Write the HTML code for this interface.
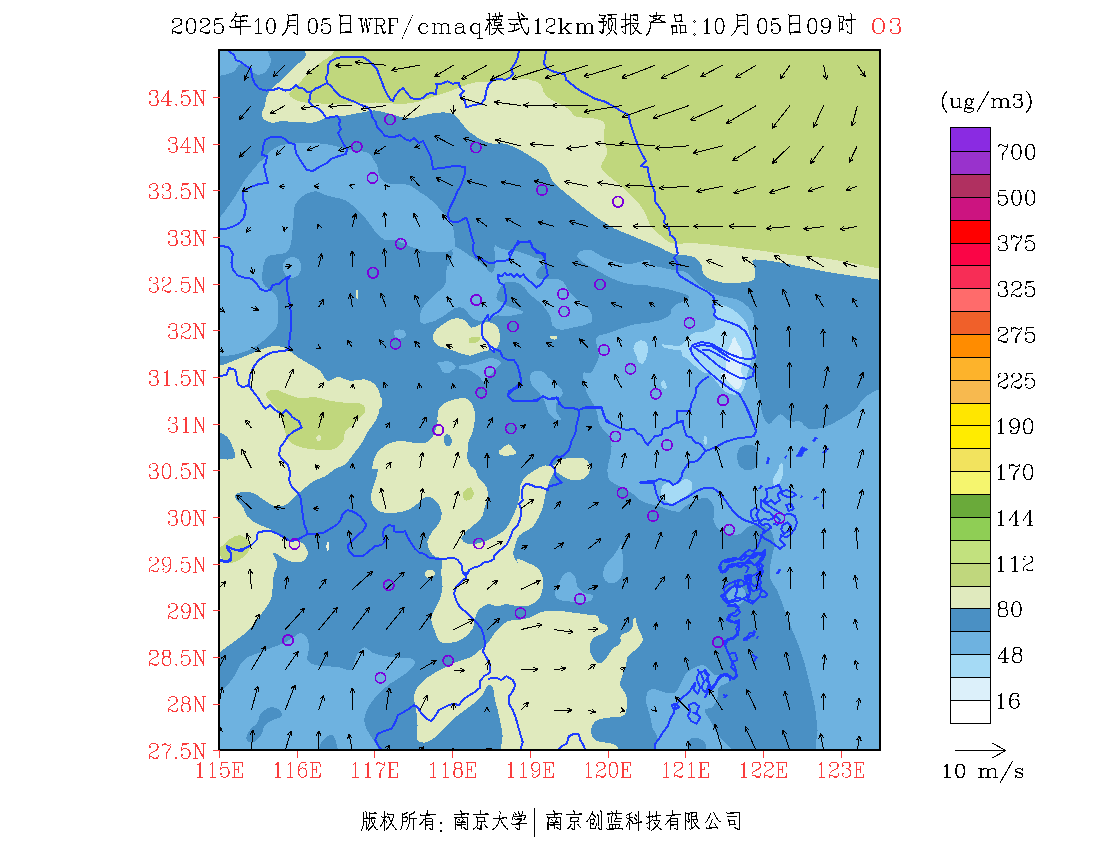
<!DOCTYPE html>
<html><head><meta charset="utf-8"><title>WRF/cmaq O3</title>
<style>html,body{margin:0;padding:0;background:#fff;font-family:"Liberation Sans",sans-serif;}svg{display:block}</style>
</head><body>
<svg width="1100" height="850" viewBox="0 0 1100 850">
<rect width="1100" height="850" fill="#fff"/>
<defs><clipPath id="mc"><rect x="219" y="50" width="661" height="700"/></clipPath></defs>
<g clip-path="url(#mc)" shape-rendering="crispEdges">
<rect x="219" y="50" width="662" height="700" fill="#4a90c4"/>
<path d="M217.2,47.9C231.2,40.2 249.4,45.5 265.2,47.9C268.2,48.4 268.3,53.1 269.5,55.9C270.3,57.5 271.1,59.2 271.0,61.0C270.9,63.3 269.9,65.5 268.8,67.5C267.7,69.5 266.3,71.3 264.5,72.6C262.8,73.8 260.7,74.8 258.6,74.8C256.8,74.8 255.0,73.8 253.5,72.6C252.2,71.5 251.9,69.5 250.6,68.3C248.7,66.5 246.6,64.5 244.1,63.9C242.1,63.5 239.9,64.2 238.3,65.4C236.7,66.5 236.8,69.1 235.4,70.5C233.8,71.9 231.7,72.9 229.5,73.4C225.5,74.2 219.0,77.8 217.2,74.1C213.4,66.2 209.5,52.1 217.2,47.9Z" fill="#6eb2e0"/>
<path d="M215.0,218.8C215.0,217.6 217.6,219.5 218.5,218.8C222.1,215.5 224.7,211.4 227.5,207.5C231.0,202.6 234.3,197.6 237.5,192.5C240.1,188.4 242.2,184.0 245.0,180.0C248.1,175.6 251.6,171.6 255.0,167.5C257.1,165.0 258.9,162.2 261.2,160.0C261.6,159.7 261.2,161.7 261.5,161.4C263.8,159.2 265.2,156.4 267.4,154.1C269.1,152.2 271.0,150.4 273.2,149.0C275.4,147.5 277.9,146.1 280.5,145.4C283.7,144.4 287.2,144.3 290.6,143.9C294.5,143.5 298.4,143.3 302.3,143.2C307.1,143.0 312.0,142.9 316.8,143.2C320.7,143.4 324.6,144.0 328.5,144.6C331.9,145.2 335.3,146.0 338.6,146.8C342.1,147.7 345.4,149.0 348.8,149.7C352.7,150.5 356.6,150.5 360.5,151.2C363.4,151.7 366.6,151.8 369.2,153.4C371.1,154.6 371.7,157.1 373.0,159.0C374.3,161.0 376.1,162.8 377.0,165.0C378.0,167.5 377.8,170.4 378.5,173.0C379.1,175.1 379.5,177.5 381.0,179.0C383.2,181.2 386.0,182.8 389.0,183.5C392.9,184.5 397.1,183.6 401.2,184.0C404.1,184.3 407.2,184.3 409.9,185.5C413.1,186.8 415.7,189.3 418.6,191.3C421.5,193.2 424.6,195.0 427.4,197.1C430.4,199.4 433.4,201.7 436.1,204.4C437.8,206.1 438.8,208.4 440.5,210.2C442.7,212.7 445.6,214.7 447.7,217.5C449.8,220.1 451.7,223.0 452.8,226.2C453.9,229.4 454.0,232.9 454.3,236.4C454.5,240.0 455.7,243.9 454.3,247.3C453.2,249.7 450.2,250.9 447.7,251.6C444.5,252.6 440.9,252.4 437.5,252.4C433.7,252.4 429.7,252.3 425.9,251.6C422.9,251.1 420.1,249.7 417.2,248.7C414.3,247.8 411.3,246.9 408.5,245.8C404.5,244.3 400.9,241.8 396.8,240.7C393.0,239.8 388.9,241.1 385.2,240.0C382.9,239.3 381.2,237.2 379.4,235.6C377.8,234.3 376.3,232.9 375.0,231.3C371.5,226.8 368.7,221.8 365.0,217.5C362.0,213.9 358.5,210.6 355.0,207.5C351.9,204.8 348.7,201.9 345.0,200.0C341.9,198.5 338.3,198.3 335.0,197.5C331.7,196.7 328.3,196.0 325.0,195.0C321.6,193.9 318.6,191.1 315.0,191.2C310.5,191.5 306.2,193.7 302.5,196.2C299.3,198.4 296.6,201.5 295.0,205.0C293.6,208.0 294.1,211.7 293.8,215.0C293.3,220.0 293.0,225.0 292.5,230.0C292.1,234.2 292.4,238.5 291.2,242.5C290.3,246.1 289.4,250.6 286.2,252.5C280.8,255.8 272.5,252.9 267.5,257.0C263.4,260.3 263.2,266.8 262.5,272.0C261.9,276.1 261.9,280.8 263.8,284.5C265.5,287.9 269.9,289.2 272.5,292.0C274.5,294.2 277.0,296.5 277.5,299.5C278.8,307.7 278.8,316.3 277.5,324.5C277.0,327.5 274.4,329.7 272.5,332.0C270.2,334.7 267.7,337.3 265.0,339.5C261.1,342.7 257.0,345.8 252.5,348.2C248.6,350.4 244.3,352.0 240.0,353.2C235.9,354.5 231.7,355.1 227.5,355.8C224.5,356.2 221.5,356.3 218.5,356.5C217.3,356.6 215.0,357.7 215.0,356.5L215.0,218.8Z" fill="#6eb2e0"/>
<path d="M282.5,267.0C282.5,264.2 284.3,261.5 286.2,259.5C287.8,257.9 290.3,257.0 292.5,257.0C294.7,257.0 297.3,257.8 298.8,259.5C300.5,261.5 301.2,264.4 301.2,267.0C301.2,269.6 300.4,272.4 298.8,274.5C297.3,276.4 294.9,278.0 292.5,278.2C290.3,278.5 287.7,277.4 286.2,275.8C284.1,273.4 282.5,270.2 282.5,267.0Z" fill="#6eb2e0"/>
<path d="M453.8,247.3C456.3,245.9 459.3,248.9 461.8,250.2C464.4,251.6 466.6,253.6 469.1,255.3C472.0,257.2 475.0,259.0 477.8,261.1C480.3,262.9 482.7,264.9 485.1,266.9C487.3,268.8 488.8,272.3 491.6,272.7C493.4,273.0 494.1,270.1 494.5,268.4C495.4,265.1 495.2,261.6 495.3,258.2C495.4,254.1 493.4,249.6 495.0,245.8C495.7,244.2 498.0,247.4 499.6,248.0C501.5,248.7 503.5,249.1 505.5,249.5C507.4,249.8 509.3,249.9 511.3,250.2C513.7,250.6 516.2,251.0 518.5,251.6C521.5,252.4 524.4,253.5 527.3,254.5C529.7,255.4 532.1,256.6 534.5,257.5C536.9,258.3 539.7,258.3 541.8,259.6C543.3,260.6 545.1,262.3 544.7,264.0C544.4,265.7 541.7,265.7 540.4,266.9C539.0,268.2 537.6,269.6 536.7,271.3C536.1,272.6 535.4,274.3 536.0,275.6C536.8,277.4 538.5,278.8 540.4,279.3C542.2,279.8 544.2,278.5 546.2,278.5C548.6,278.5 551.0,279.0 553.5,279.3C555.9,279.5 558.5,279.0 560.7,280.0C562.6,280.8 563.9,282.7 565.1,284.4C566.4,286.1 566.7,288.4 568.0,290.2C569.6,292.4 571.9,294.1 573.8,296.0C575.8,297.9 577.6,300.0 579.6,301.8C581.5,303.4 583.6,304.6 585.5,306.2C587.0,307.5 588.7,308.8 589.8,310.5C590.9,312.3 591.8,314.3 592.0,316.4C592.3,318.6 592.1,321.0 591.3,323.1C591.1,323.6 590.2,322.6 589.6,322.7C587.4,323.4 585.4,325.0 583.1,325.6C580.3,326.4 577.3,326.5 574.4,327.1C571.4,327.7 568.6,328.9 565.6,329.3C563.2,329.6 560.7,329.9 558.4,329.3C556.2,328.7 553.8,327.5 552.5,325.6C551.2,323.6 551.9,320.7 551.1,318.4C550.4,316.3 549.3,314.4 548.2,312.5C546.9,310.5 545.4,308.6 543.8,306.7C542.0,304.7 540.1,302.7 538.0,300.9C536.2,299.3 534.0,298.1 532.2,296.5C530.6,295.2 529.1,293.8 527.8,292.2C526.7,290.8 526.1,289.1 524.9,287.8C523.2,286.1 521.3,284.4 519.1,283.5C516.8,282.5 514.3,282.1 511.8,282.0C509.4,281.9 506.7,281.6 504.5,282.7C502.5,283.7 501.4,286.0 500.2,287.8C499.0,289.6 498.0,291.6 497.3,293.6C496.8,295.0 496.3,296.6 496.5,298.0C496.8,299.2 497.7,300.2 498.7,300.9C500.0,301.8 501.8,301.6 503.1,302.4C504.3,303.1 504.8,304.6 506.0,305.3C507.8,306.3 509.9,306.8 511.8,307.5C514.2,308.3 516.8,308.6 519.1,309.6C520.7,310.3 523.5,310.8 523.5,312.5C523.5,314.1 520.6,313.6 519.1,314.0C516.7,314.6 514.3,315.1 511.8,315.5C509.4,315.8 507.0,316.2 504.5,316.2C502.1,316.2 499.7,315.1 497.3,315.5C494.7,315.8 492.4,317.4 490.0,318.4C487.9,319.2 485.9,320.5 483.6,320.7C481.2,321.0 478.7,320.8 476.4,320.0C474.2,319.3 472.2,317.9 470.5,316.4C468.8,314.7 467.9,312.3 466.2,310.5C464.9,309.3 463.5,308.0 461.8,307.6C459.6,307.2 457.1,307.4 455.0,308.2C452.2,309.3 450.0,311.7 447.5,313.2C443.4,315.8 439.6,319.1 435.0,320.8C431.0,322.1 426.4,323.6 422.5,322.0C420.1,321.0 419.6,317.1 420.0,314.5C420.5,310.8 422.8,307.5 425.0,304.5C427.8,300.7 431.7,297.8 435.0,294.5C438.3,291.2 442.9,288.7 445.0,284.5C446.9,280.8 445.5,276.1 446.2,272.0C447.2,266.9 448.2,261.8 450.0,257.0C451.0,254.3 446.4,267.1 448.7,265.5C451.6,263.3 451.4,258.7 452.4,255.3C453.1,252.7 451.4,248.6 453.8,247.3Z" fill="#6eb2e0"/>
<path d="M577.3,255.1C577.6,253.6 578.8,252.2 580.2,251.5C581.9,250.4 584.0,250.2 586.0,250.0C587.9,249.8 590.0,249.6 591.8,250.3C595.0,251.6 597.4,254.3 600.5,255.8C604.8,257.9 609.2,259.5 613.6,260.9C617.4,262.1 621.3,263.4 625.3,263.8C628.7,264.2 632.1,263.7 635.5,263.1C638.0,262.7 640.2,261.4 642.7,260.9C645.1,260.4 647.8,259.1 650.0,260.2C651.3,260.8 648.8,263.7 650.0,264.5C652.4,266.3 655.8,266.0 658.7,266.7C661.6,267.5 664.5,268.3 667.5,268.9C670.3,269.5 673.3,269.9 676.2,270.4C679.1,270.8 682.2,270.7 684.9,271.8C687.2,272.7 688.9,274.6 690.7,276.2C693.3,278.5 695.5,281.2 698.0,283.5C700.3,285.5 702.7,287.6 705.3,289.3C708.0,291.0 711.0,292.4 714.0,293.6C716.8,294.8 719.8,295.8 722.7,296.5C725.6,297.3 728.6,297.3 731.5,298.0C733.9,298.6 736.4,299.2 738.7,300.2C740.8,301.1 742.8,302.4 744.5,303.8C746.7,305.5 748.7,307.4 750.4,309.6C751.7,311.4 752.7,313.4 753.3,315.5C753.9,317.8 753.8,320.3 754.0,322.7C754.3,325.6 754.4,328.6 754.7,331.5C755.1,335.3 755.8,339.2 756.2,343.1C756.5,346.0 757.0,348.9 756.9,351.8C756.8,354.8 756.0,357.6 755.5,360.5C754.7,364.7 753.3,368.8 753.3,373.1C753.3,373.8 755.2,372.3 755.5,373.0C756.9,377.7 756.6,382.8 757.6,387.5C758.1,389.6 759.4,391.3 759.8,393.4C760.4,396.2 760.2,399.2 760.5,402.1C760.9,405.5 761.2,408.9 762.0,412.3C762.6,414.8 763.5,417.3 764.9,419.5C766.0,421.3 767.2,424.2 769.3,423.9C772.0,423.5 773.0,419.8 775.1,418.1C776.9,416.6 778.6,414.2 780.9,414.5C783.5,414.8 784.5,418.2 786.7,419.5C788.5,420.6 790.5,421.5 792.5,421.7C795.0,422.0 797.5,420.3 799.8,421.0C801.8,421.6 802.6,424.0 804.2,425.4C806.0,426.9 808.0,428.3 810.0,429.7C810.1,429.8 809.9,429.5 810.0,429.5C815.0,428.6 820.2,428.6 825.0,427.0C830.3,425.2 835.2,422.3 840.0,419.5C845.2,416.5 850.5,413.5 855.0,409.5C859.0,405.9 860.9,400.4 865.0,397.0C869.8,393.1 875.8,391.1 881.2,388.2C881.5,388.1 882.0,387.7 882.0,388.0L882.0,751.0L818.8,750.5C812.2,748.4 818.1,736.8 817.5,730.0C816.8,722.5 816.2,714.9 815.0,707.5C813.7,699.9 811.8,692.5 810.0,685.0C808.4,678.3 806.9,671.6 805.0,665.0C802.8,657.4 800.3,649.9 797.5,642.5C795.3,636.6 792.3,630.9 790.0,625.0C787.7,619.2 785.9,613.3 783.8,607.5C781.7,602.1 779.9,596.5 777.5,591.2C775.3,586.5 771.0,582.6 770.0,577.5C768.9,571.8 770.4,565.8 771.2,560.0C772.0,554.9 773.8,550.0 775.0,545.0C775.1,544.7 775.1,544.3 775.0,544.0C773.4,539.0 773.3,533.1 770.0,529.0C767.8,526.2 763.5,525.7 760.0,525.2C756.3,524.8 752.2,525.0 748.8,526.5C745.2,528.0 743.5,532.4 740.0,534.0C737.0,535.4 733.3,535.9 730.0,535.2C726.3,534.6 722.8,532.7 720.0,530.2C717.3,527.9 714.7,525.0 713.8,521.5C712.5,516.7 715.5,511.2 713.8,506.5C712.3,502.6 709.1,497.8 705.0,497.8C697.7,497.8 691.4,503.0 685.0,506.5C682.9,507.6 682.3,510.9 680.0,511.5C676.7,512.3 673.3,511.1 670.0,510.2C666.5,509.4 663.4,507.6 660.0,506.5C656.7,505.5 653.3,505.0 650.0,504.0C646.6,502.9 643.1,502.0 640.0,500.2C638.0,499.1 636.9,496.7 635.0,495.2C631.9,492.9 628.4,490.9 625.0,489.0C621.8,487.2 618.2,486.0 615.0,484.0C612.7,482.6 609.9,481.4 608.8,479.0C607.2,476.0 607.5,472.4 607.5,469.0C607.5,467.0 608.1,465.1 608.5,463.2C609.2,460.3 610.2,457.4 610.7,454.5C611.2,451.6 611.6,448.6 611.5,445.7C611.3,442.8 611.2,439.7 610.0,437.0C608.9,434.6 606.6,433.2 604.9,431.2C602.9,428.8 600.4,426.7 599.1,423.9C597.9,421.2 598.4,418.0 597.6,415.2C596.9,412.2 596.0,409.2 594.7,406.5C593.6,403.9 591.7,401.7 590.4,399.2C588.8,396.3 587.0,393.5 586.0,390.5C585.1,387.7 585.0,384.6 584.5,381.7C584.1,378.8 581.4,375.4 583.1,373.0C584.4,371.0 588.3,374.3 590.4,373.1C592.7,371.7 593.4,368.7 594.7,366.4C596.1,364.0 597.7,361.7 598.4,359.1C599.0,356.7 598.7,354.2 598.4,351.8C598.0,348.8 596.5,346.1 596.2,343.1C596.0,341.1 596.0,339.0 596.9,337.3C597.6,336.0 599.2,335.6 600.5,335.1C603.4,334.1 606.4,333.8 609.3,332.9C613.2,331.6 617.0,329.9 620.9,328.5C625.7,326.9 630.5,325.2 635.5,324.2C640.2,323.2 645.2,323.5 650.0,322.7C650.2,322.7 649.8,322.1 650.0,322.0C651.9,321.5 653.9,321.7 655.8,321.3C658.8,320.5 661.8,319.7 664.5,318.4C666.7,317.3 669.0,316.0 670.4,314.0C671.5,312.4 670.7,309.8 671.8,308.2C673.2,306.2 675.5,305.0 677.6,303.8C680.4,302.3 683.7,301.9 686.4,300.2C687.7,299.4 689.9,298.0 689.3,296.5C688.4,294.6 685.5,294.4 683.5,293.6C680.1,292.4 676.7,291.6 673.3,290.7C669.4,289.7 665.6,288.6 661.6,287.8C657.8,287.1 653.8,287.1 650.0,286.4C649.8,286.3 650.2,285.7 650.0,285.6C645.2,285.2 640.3,285.4 635.5,284.9C631.5,284.5 627.6,283.7 623.8,282.7C620.3,281.8 616.9,280.5 613.6,279.1C610.1,277.6 606.8,275.8 603.5,274.0C600.5,272.4 597.7,270.5 594.7,268.9C591.9,267.4 588.7,266.3 586.0,264.5C583.4,262.9 580.8,261.0 578.7,258.7C577.8,257.8 577.0,256.4 577.3,255.1Z" fill="#6eb2e0"/>
<path d="M215.0,692.5C215.1,691.3 217.5,693.1 218.5,692.5C221.8,690.5 224.8,687.8 227.5,685.0C230.4,682.0 232.8,678.5 235.0,675.0C237.0,671.8 237.8,668.0 240.0,665.0C242.1,662.1 244.5,659.4 247.5,657.5C251.3,655.1 255.8,654.2 260.0,652.5C264.2,650.8 268.3,649.2 272.5,647.5C276.7,645.8 281.0,644.5 285.0,642.5C288.5,640.7 291.6,638.2 295.0,636.2C297.0,635.1 298.9,632.5 301.2,633.0C304.0,633.6 306.4,636.2 307.5,638.8C309.0,642.2 308.8,646.2 308.8,650.0C308.8,653.4 306.2,656.9 307.5,660.0C308.7,662.8 312.1,664.1 315.0,665.0C319.0,666.2 323.3,665.8 327.5,666.2C331.7,666.7 335.9,666.8 340.0,667.5C343.8,668.1 347.8,671.7 351.2,670.0C354.4,668.4 353.6,663.3 355.0,660.0C356.5,656.6 357.7,652.9 360.0,650.0C361.2,648.5 363.2,647.1 365.0,647.5C367.9,648.1 369.7,651.3 372.5,652.5C376.5,654.2 380.7,655.5 385.0,656.2C389.9,657.1 395.0,657.0 400.0,657.5C404.2,657.9 408.5,657.4 412.5,658.8C413.9,659.2 415.3,661.0 415.0,662.5C414.3,665.4 412.1,667.9 410.0,670.0C407.1,672.9 403.4,675.1 400.0,677.5C396.8,679.7 393.1,681.4 390.0,683.8C386.5,686.4 383.1,689.4 380.0,692.5C376.9,695.6 373.7,698.8 371.2,702.5C368.7,706.4 366.2,710.5 365.0,715.0C364.1,718.2 364.2,721.8 365.0,725.0C365.9,728.6 368.2,731.8 370.0,735.0C371.5,737.6 373.8,739.8 375.0,742.5C376.3,745.3 380.6,751.3 377.5,751.5L215.0,751.5C196.5,744.8 213.8,712.1 215.0,692.5Z" fill="#6eb2e0"/>
<path d="M556.2,589.0C558.0,584.7 559.7,580.3 562.5,576.5C564.0,574.4 566.2,572.0 568.8,572.0C571.3,572.0 573.7,574.3 575.0,576.5C576.8,579.4 575.9,583.5 577.5,586.5C578.9,589.1 581.2,591.3 583.8,592.8C586.4,594.3 590.4,593.1 592.5,595.2C593.7,596.5 592.6,599.2 591.2,600.2C588.8,602.1 585.5,602.6 582.5,602.8C578.3,603.0 574.2,602.0 570.0,601.5C566.7,601.1 563.1,601.5 560.0,600.2C557.8,599.3 555.7,597.5 555.0,595.2C554.3,593.2 555.5,591.0 556.2,589.0Z" fill="#6eb2e0"/>
<path d="M621.2,544.0C623.0,546.9 622.3,550.6 622.5,554.0C622.8,559.0 623.5,564.0 623.0,569.0C622.7,572.5 622.0,576.2 620.0,579.0C618.3,581.4 615.4,583.3 612.5,583.5C609.8,583.7 606.8,582.3 605.0,580.2C603.3,578.3 602.8,575.3 603.0,572.8C603.2,569.6 604.6,566.7 606.2,564.0C608.3,560.7 611.4,558.3 613.8,555.2C615.6,552.9 617.1,550.2 618.8,547.8C619.6,546.5 620.5,542.7 621.2,544.0Z" fill="#6eb2e0"/>
<path d="M647.5,692.5C648.4,690.6 650.4,688.8 652.5,688.8C656.9,688.8 660.7,691.8 665.0,692.5C668.3,693.0 672.0,694.0 675.0,692.5C677.7,691.2 678.5,687.6 680.0,685.0C681.8,681.8 682.7,678.0 685.0,675.0C687.0,672.4 689.7,670.4 692.5,668.8C695.6,667.0 698.9,664.7 702.5,665.0C705.5,665.2 707.7,668.1 710.0,670.0C711.8,671.5 712.8,674.3 715.0,675.0C718.2,676.1 721.8,673.9 725.0,675.0C727.2,675.7 730.0,677.6 730.0,680.0C730.0,682.1 726.7,682.6 725.0,683.8C723.0,685.1 719.9,685.4 718.8,687.5C717.1,690.4 718.5,694.3 717.5,697.5C716.4,701.1 715.1,704.9 712.5,707.5C710.6,709.4 705.5,707.4 705.0,710.0C704.3,713.7 708.3,716.7 710.0,720.0C711.7,723.3 713.0,726.8 715.0,730.0C717.2,733.5 719.8,736.8 722.5,740.0C724.8,742.7 727.9,744.7 730.0,747.5C730.8,748.6 732.6,751.3 731.2,751.5C723.5,752.9 715.0,754.1 707.5,751.5C704.6,750.5 706.9,745.0 705.0,742.5C703.3,740.2 700.3,738.7 697.5,738.0C695.1,737.4 692.1,737.3 690.0,738.8C688.2,740.0 688.0,742.8 687.5,745.0C687.0,747.1 689.1,751.1 687.0,751.5C677.0,753.6 665.5,755.9 656.2,751.5C652.0,749.5 658.2,742.1 657.5,737.5C656.9,733.8 653.7,731.0 652.5,727.5C651.2,723.5 651.0,719.1 650.0,715.0C648.9,710.8 646.7,706.8 646.2,702.5C645.9,699.2 646.1,695.6 647.5,692.5Z" fill="#6eb2e0"/>
<path d="M393.8,332.4C394.0,331.0 396.1,330.4 397.5,330.2C399.6,329.8 402.2,329.2 404.0,330.5C405.5,331.6 406.0,334.2 405.5,336.0C405.1,337.4 403.2,338.1 401.8,338.2C400.1,338.3 398.2,337.8 396.7,336.7C395.3,335.7 393.6,334.1 393.8,332.4Z" fill="#6eb2e0"/>
<path d="M437.5,362.9C438.9,361.2 441.8,361.6 444.0,361.5C446.4,361.3 449.0,361.2 451.3,362.2C453.2,363.0 455.3,364.5 455.6,366.5C455.9,368.1 453.9,369.1 452.7,370.2C451.4,371.4 450.1,372.8 448.4,373.1C446.4,373.4 444.1,372.8 442.5,371.6C441.0,370.5 440.6,368.2 439.6,366.5C438.9,365.3 436.5,364.0 437.5,362.9Z" fill="#6eb2e0"/>
<path d="M458.5,367.3C460.5,363.8 466.3,365.4 470.2,364.4C474.1,363.3 477.9,361.9 481.8,360.7C484.7,359.8 487.5,357.9 490.5,358.1C494.2,358.4 498.9,359.0 500.7,362.2C502.0,364.3 497.8,366.1 496.4,368.0C494.9,369.9 493.6,372.0 492.0,373.8C490.7,375.4 489.1,376.7 487.6,378.2C486.4,379.4 485.7,381.8 484.0,381.8C482.3,381.8 481.6,379.3 480.4,378.2C478.5,376.4 476.7,374.5 474.5,373.1C472.3,371.6 469.8,370.4 467.3,369.5C464.5,368.4 457.1,369.9 458.5,367.3Z" fill="#6eb2e0"/>
<path d="M530.0,375.9C530.5,374.1 531.9,372.2 533.6,371.5C536.4,370.6 539.7,370.5 542.4,371.5C544.9,372.6 546.1,375.5 548.2,377.4C550.5,379.4 553.1,381.1 555.5,383.2C557.5,385.0 559.7,386.8 561.3,389.0C562.2,390.2 563.0,391.9 562.7,393.4C562.4,395.1 560.8,396.3 559.8,397.7C558.8,399.2 557.5,400.5 556.9,402.1C556.0,404.4 555.2,406.9 555.5,409.4C555.7,411.5 557.3,413.3 558.4,415.2C559.2,416.7 561.3,417.8 561.3,419.5C561.3,420.5 559.3,420.5 558.4,420.3C556.3,419.7 554.3,418.7 552.5,417.4C550.8,416.0 549.2,414.2 548.2,412.3C547.0,410.0 546.8,407.4 546.0,405.0C545.3,403.0 544.8,401.0 543.8,399.2C542.6,397.1 541.1,395.2 539.5,393.4C537.6,391.3 535.3,389.7 533.6,387.5C532.3,385.8 531.4,383.8 530.7,381.7C530.1,379.9 529.5,377.8 530.0,375.9Z" fill="#6eb2e0"/>
<path d="M393.8,333.2C393.5,331.9 395.0,330.5 396.2,330.0C398.2,329.3 400.5,329.3 402.5,330.0C403.8,330.5 404.8,331.9 405.0,333.2C405.2,334.7 405.0,336.7 403.8,337.5C402.0,338.7 399.4,339.1 397.5,338.2C395.6,337.4 394.1,335.3 393.8,333.2Z" fill="#6eb2e0"/>
<path d="M727.5,594.0C728.5,590.6 731.6,587.5 735.0,586.5C737.9,585.6 741.9,586.6 743.8,589.0C745.8,591.6 746.2,595.9 745.0,599.0C743.8,602.0 740.7,604.5 737.5,605.2C734.9,605.9 731.8,604.7 730.0,602.8C728.0,600.5 726.6,596.9 727.5,594.0Z" fill="#6eb2e0"/>
<path d="M420.0,320.0C423.3,318.4 427.4,319.2 430.9,320.0C431.8,320.2 430.2,321.8 429.5,322.2C427.7,323.1 425.6,324.1 423.6,323.6C422.0,323.3 418.5,320.8 420.0,320.0Z" fill="#6eb2e0"/>
<path d="M743.1,445.7C745.9,444.8 749.0,444.4 751.8,445.0C754.1,445.4 756.6,446.6 757.6,448.6C759.0,451.2 758.4,454.4 758.4,457.4C758.4,459.8 758.8,462.5 757.6,464.6C756.4,466.9 754.2,468.8 751.8,469.7C749.6,470.6 746.8,470.6 744.5,469.7C742.1,468.8 739.9,466.9 738.7,464.6C737.4,462.0 737.3,458.9 737.3,455.9C737.3,453.7 737.6,451.3 738.7,449.4C739.7,447.7 741.3,446.3 743.1,445.7Z" fill="#4a90c4"/>
<path d="M260.0,715.0C262.7,711.8 266.0,708.5 270.0,707.5C273.3,706.7 277.3,707.9 280.0,710.0C281.7,711.3 282.5,714.6 281.2,716.2C279.3,718.8 275.3,718.5 272.5,720.0C269.9,721.4 266.8,722.6 265.0,725.0C262.9,727.8 263.3,732.1 261.2,735.0C259.0,738.1 256.2,741.6 252.5,742.5C250.1,743.1 246.7,741.1 246.2,738.8C245.6,735.6 248.2,732.6 250.0,730.0C252.0,727.1 255.5,725.4 257.5,722.5C259.0,720.3 258.3,717.0 260.0,715.0Z" fill="#4a90c4"/>
<path d="M320.0,751.5C317.4,749.9 319.9,745.2 321.2,742.5C322.6,739.9 325.0,737.9 327.5,736.2C328.9,735.3 331.1,734.0 332.5,735.0C334.8,736.6 335.6,739.8 336.2,742.5C336.9,745.4 338.9,750.0 336.2,751.5C331.5,754.1 324.6,754.3 320.0,751.5Z" fill="#4a90c4"/>
<path d="M714.0,308.2C714.5,306.5 716.6,305.6 718.4,305.3C720.8,304.8 723.3,305.3 725.6,306.0C728.2,306.8 730.6,308.2 732.9,309.6C735.5,311.3 738.0,313.3 740.2,315.5C742.4,317.6 744.5,320.0 746.0,322.7C747.5,325.4 748.2,328.5 748.9,331.5C749.6,334.3 749.9,337.3 750.4,340.2C750.9,344.1 751.8,347.9 751.8,351.8C751.8,355.7 751.2,359.6 750.4,363.5C749.7,366.7 748.4,369.9 747.5,373.1C747.4,373.1 747.5,373.0 747.5,373.0C747.2,374.9 747.2,376.9 746.7,378.8C746.2,381.3 745.5,383.7 744.5,386.1C743.8,388.1 743.3,390.5 741.6,391.9C739.7,393.6 737.0,394.8 734.4,394.8C731.3,394.8 728.3,393.5 725.6,391.9C723.3,390.5 721.6,388.1 719.8,386.1C717.8,383.8 716.1,381.1 714.0,378.8C712.2,376.8 710.5,374.5 708.2,373.0C707.4,372.5 706.2,373.3 705.3,373.1C703.7,372.6 702.3,371.7 700.9,370.7C698.4,368.9 696.0,367.0 693.6,364.9C691.6,363.1 690.0,360.8 687.8,359.1C686.3,357.9 684.0,357.7 682.7,356.2C681.4,354.6 682.2,351.5 680.5,350.4C678.5,349.0 675.7,350.1 673.3,349.6C670.3,349.1 667.3,348.7 664.5,347.5C663.3,346.9 660.3,344.7 661.6,344.5C667.4,344.0 673.3,346.4 679.1,346.0C680.8,345.9 682.2,344.3 683.5,343.1C685.2,341.4 686.1,339.0 687.8,337.3C689.5,335.6 691.3,333.7 693.6,332.9C696.4,331.9 699.5,332.8 702.4,332.2C704.9,331.6 707.3,330.5 709.6,329.3C711.5,328.3 713.9,327.6 714.7,325.6C716.0,322.5 715.6,318.9 715.5,315.5C715.4,313.0 713.3,310.6 714.0,308.2Z" fill="#a5daf5"/>
<path d="M641.3,340.2C643.2,340.2 645.3,341.4 646.4,343.1C647.7,345.2 647.8,347.9 647.8,350.4C647.8,352.8 647.3,355.3 646.4,357.6C645.5,359.8 644.7,362.4 642.7,363.5C641.4,364.2 639.3,363.2 638.4,362.0C636.8,360.0 637.1,357.1 636.2,354.7C635.4,352.7 633.4,351.1 633.3,348.9C633.1,346.8 634.1,344.6 635.5,343.1C636.9,341.5 639.1,340.2 641.3,340.2Z" fill="#a5daf5"/>
<path d="M662.5,486.5C663.5,484.7 665.4,483.1 667.5,482.8C670.8,482.2 674.2,484.7 677.5,484.0C680.4,483.4 682.0,479.5 685.0,479.0C687.2,478.6 690.0,479.7 691.2,481.5C692.7,483.6 692.7,486.6 692.0,489.0C691.3,491.5 689.4,493.5 687.5,495.2C685.3,497.3 682.6,498.7 680.0,500.2C677.6,501.7 675.3,504.0 672.5,504.0C669.7,504.0 667.1,502.1 665.0,500.2C663.2,498.6 661.7,496.4 661.2,494.0C660.8,491.5 661.3,488.7 662.5,486.5Z" fill="#a5daf5"/>
<path d="M781.6,463.2C784.5,464.0 783.2,469.0 783.1,471.9C783.0,474.9 782.1,477.9 780.9,480.6C779.9,482.8 778.8,485.6 776.5,486.5C775.1,487.0 773.4,485.0 772.9,483.5C772.3,481.7 772.9,479.5 773.6,477.7C774.7,475.1 776.6,472.9 778.0,470.5C779.3,468.1 779.0,462.4 781.6,463.2Z" fill="#a5daf5"/>
<path d="M703.8,437.0C704.0,436.2 705.4,435.3 706.0,435.8C707.0,436.8 706.9,438.5 707.0,439.9C707.1,441.4 707.3,443.1 706.4,444.3C706.0,444.9 704.4,444.7 704.1,444.0C703.3,441.8 703.3,439.3 703.8,437.0Z" fill="#a5daf5"/>
<path d="M660.9,382.5C661.3,381.4 662.8,380.1 663.8,380.6C665.2,381.2 665.4,383.2 666.0,384.6C666.4,385.7 667.2,386.9 666.7,387.8C666.2,388.7 664.8,389.0 663.8,388.7C662.7,388.3 662.1,387.1 661.6,386.1C661.1,385.0 660.5,383.6 660.9,382.5Z" fill="#a5daf5"/>
<path d="M734.4,337.3C736.5,337.3 736.2,341.2 737.3,343.1C738.4,345.1 740.2,346.8 740.9,348.9C741.9,351.7 742.2,354.7 742.4,357.6C742.5,360.6 741.9,363.5 741.6,366.4C741.4,368.6 740.7,370.8 740.9,373.1C741.0,373.5 742.3,372.5 742.4,373.0C742.8,375.9 742.8,378.9 742.4,381.7C742.1,383.8 741.6,386.0 740.2,387.5C739.2,388.7 737.2,389.7 735.8,389.0C732.8,387.5 731.0,384.2 728.5,381.7C726.6,379.8 724.5,378.0 722.7,375.9C722.0,375.1 720.6,373.9 721.3,373.0C722.0,372.0 724.2,374.1 724.9,373.1C726.1,371.2 725.4,368.6 725.6,366.4C725.9,363.5 725.9,360.5 726.4,357.6C726.9,354.7 727.6,351.7 728.5,348.9C729.3,346.9 730.5,345.0 731.5,343.1C732.4,341.2 732.2,337.3 734.4,337.3Z" fill="#dcf0fa"/>
<path d="M305.2,47.9C302.7,47.9 306.4,52.8 305.9,55.2C305.6,56.9 304.2,58.3 303.0,59.5C301.5,61.2 299.5,62.4 297.9,63.9C295.9,65.8 294.0,67.8 292.1,69.7C289.7,72.2 287.3,74.6 284.8,77.0C282.5,79.2 280.0,81.4 277.5,83.5C276.1,84.8 274.5,85.8 273.2,87.2C271.8,88.5 270.5,89.9 269.5,91.5C268.1,93.8 266.7,96.2 265.9,98.8C265.2,101.2 265.8,103.7 265.2,106.1C264.6,108.2 262.8,109.8 262.3,111.9C261.8,113.5 261.6,115.4 262.3,117.0C262.9,118.6 264.4,119.8 265.9,120.6C268.1,121.8 270.7,122.8 273.2,122.8C276.7,122.8 279.9,120.8 283.4,120.6C285.8,120.5 288.2,121.9 290.6,122.1C294.5,122.4 298.4,122.0 302.3,122.1C305.2,122.2 308.1,123.1 311.0,122.8C314.0,122.6 316.9,121.6 319.7,120.6C321.8,119.9 323.5,118.4 325.5,117.7C327.4,117.1 329.4,117.2 331.4,117.0C334.8,116.7 338.2,116.7 341.5,116.3C345.5,115.8 349.3,114.8 353.2,114.1C357.1,113.4 360.9,112.6 364.8,111.9C368.2,111.3 371.6,110.2 375.0,110.5C380.1,110.8 385.0,112.5 390.0,113.8C395.0,115.0 399.9,117.2 405.0,118.0C408.3,118.5 411.7,118.1 415.0,117.5C420.1,116.6 424.9,114.6 430.0,113.8C434.9,112.9 440.0,112.2 445.0,112.5C448.4,112.7 452.1,113.2 455.0,115.0C457.8,116.7 459.2,120.0 461.2,122.5C463.3,125.0 465.1,127.8 467.5,130.0C470.6,132.8 473.9,135.4 477.5,137.5C481.5,139.8 485.5,142.2 490.0,143.2C494.9,144.4 500.1,142.7 505.0,143.8C510.3,144.9 515.2,147.6 520.0,150.0C524.3,152.2 528.4,154.9 532.5,157.5C536.3,159.9 540.4,161.9 543.8,165.0C546.0,167.0 547.3,169.9 548.8,172.5C550.3,175.3 550.5,178.8 552.5,181.2C556.0,185.6 560.7,188.9 565.0,192.5C569.1,196.0 573.3,199.2 577.5,202.5C581.7,205.8 585.7,209.3 590.0,212.5C594.1,215.6 598.2,218.5 602.5,221.2C606.6,223.9 610.7,226.6 615.0,228.8C619.8,231.2 625.0,232.9 630.0,235.0C635.0,237.1 640.0,239.2 645.0,241.2C650.0,243.3 655.1,245.3 660.0,247.5C664.2,249.4 668.0,252.5 672.5,253.8C679.4,255.7 687.0,254.5 693.8,257.0C697.1,258.2 699.5,261.4 701.2,264.5C703.0,267.5 701.5,271.9 703.8,274.5C706.5,277.8 710.9,279.4 715.0,280.8C719.8,282.4 724.9,283.0 730.0,283.2C735.0,283.5 740.0,282.8 745.0,282.0C748.0,281.5 751.9,281.9 753.8,279.5C755.8,276.9 755.2,272.9 755.0,269.5C754.8,266.5 752.1,263.8 752.5,260.8C752.7,259.4 754.9,259.4 756.2,259.5C763.4,259.9 770.5,260.9 777.5,262.0C785.9,263.4 794.2,265.3 802.5,267.0C810.8,268.7 819.1,270.5 827.5,272.0C835.8,273.5 844.2,274.5 852.5,275.8C862.1,277.2 871.7,278.6 881.2,280.0C881.5,280.0 882.0,280.2 882.0,280.0L882.0,48.0L305.2,47.9Z" fill="#e0eabe"/>
<path d="M215.0,365.8C215.1,364.6 217.4,366.0 218.5,365.8C221.6,365.1 224.6,364.3 227.5,363.2C231.7,361.8 235.8,359.9 240.0,358.2C244.2,356.6 248.3,354.9 252.5,353.2C256.7,351.6 260.7,349.5 265.0,348.2C269.1,347.0 273.3,345.5 277.5,345.8C281.1,345.9 284.4,347.8 287.5,349.5C291.1,351.5 294.0,354.7 297.5,357.0C301.5,359.7 305.9,362.0 310.0,364.5C313.4,366.5 317.1,368.1 320.0,370.8C323.1,373.6 323.6,379.3 327.5,380.8C330.9,381.9 333.9,377.0 337.5,377.0C341.9,377.0 345.7,380.4 350.0,380.8C355.0,381.2 360.0,378.8 365.0,379.5C368.7,380.1 372.4,381.9 375.0,384.5C377.6,387.1 379.2,390.9 380.0,394.5C380.9,398.6 380.6,402.9 380.0,407.0C379.4,411.3 378.2,415.6 376.2,419.5C374.0,424.0 370.2,427.7 367.5,432.0C365.6,435.2 364.5,438.8 362.5,442.0C360.3,445.5 357.6,448.7 355.0,452.0C351.7,456.2 349.1,461.0 345.0,464.5C342.2,466.9 338.1,467.1 335.0,469.0C331.4,471.1 328.6,474.5 325.0,476.5C321.9,478.2 318.1,478.5 315.0,480.2C311.4,482.3 308.2,485.1 305.0,487.8C301.6,490.5 298.2,493.5 295.0,496.5C292.4,498.9 290.6,502.2 287.5,504.0C284.5,505.7 280.9,506.5 277.5,506.5C274.9,506.5 272.4,505.2 270.0,504.0C267.3,502.7 265.0,500.7 262.5,499.0C260.0,497.3 257.8,495.2 255.0,494.0C251.8,492.6 248.4,491.5 245.0,491.5C242.0,491.5 238.8,492.4 236.2,494.0C235.1,494.7 234.4,496.6 235.0,497.8C236.7,501.2 240.4,503.3 242.5,506.5C244.6,509.6 245.1,513.7 247.5,516.5C250.2,519.7 253.9,522.0 257.5,524.0C261.4,526.2 266.1,526.8 270.0,529.0C273.6,531.0 276.4,534.5 280.0,536.5C283.1,538.2 286.5,539.4 290.0,540.2C293.3,541.1 296.9,540.1 300.0,541.5C302.7,542.7 304.8,545.2 306.2,547.8C307.5,550.0 308.2,552.8 307.5,555.2C306.8,557.8 304.9,560.4 302.5,561.5C299.5,562.9 295.8,562.6 292.5,562.0C288.9,561.3 285.7,559.4 282.5,557.8C279.8,556.3 277.8,553.9 275.0,552.8C274.3,552.5 272.8,553.2 273.0,554.0C273.8,557.6 277.4,560.3 277.5,564.0C277.6,567.6 274.4,570.5 273.8,574.0C272.8,578.9 273.0,584.0 272.5,589.0C272.2,592.3 272.4,595.9 271.2,599.0C269.9,602.7 267.2,605.8 265.0,609.0C262.6,612.4 260.1,615.7 257.5,619.0C254.2,623.2 251.3,627.7 247.5,631.5C244.6,634.4 240.8,636.5 237.5,639.0C234.2,641.5 230.9,644.1 227.5,646.5C224.5,648.6 221.8,651.1 218.5,652.8C217.5,653.3 215.0,653.9 215.0,652.8L215.0,458.2C215.0,457.1 217.3,458.1 218.5,458.2C221.5,458.6 224.5,459.7 227.5,459.5C230.1,459.3 234.0,459.4 235.0,457.0C236.3,453.8 233.7,450.2 232.5,447.0C231.2,443.5 230.0,439.7 227.5,437.0C225.2,434.5 221.7,433.3 218.5,432.0C217.4,431.6 215.1,433.2 215.0,432.0L215.0,365.8Z" fill="#e0eabe"/>
<path d="M449.8,320.0C446.7,321.5 443.9,323.7 441.1,325.8C438.8,327.6 436.1,329.1 434.5,331.6C433.3,333.7 432.7,336.5 433.1,338.9C433.5,341.2 434.9,343.3 436.7,344.7C438.8,346.4 441.5,346.7 444.0,347.6C446.9,348.7 449.8,349.6 452.7,350.5C455.6,351.5 458.5,352.6 461.5,353.5C464.3,354.3 467.2,355.8 470.2,355.6C473.2,355.5 476.0,353.6 478.9,352.7C481.8,351.9 484.7,351.2 487.6,350.5C490.0,350.0 492.8,350.4 494.9,349.1C497.0,347.8 498.4,345.5 499.3,343.3C500.2,341.0 500.2,338.4 500.0,336.0C499.7,333.0 499.2,329.9 497.8,327.3C496.9,325.6 495.1,324.5 493.5,323.6C491.7,322.7 489.6,322.2 487.6,322.2C485.6,322.2 483.7,322.9 481.8,323.6C479.8,324.4 478.1,325.9 476.0,326.5C474.1,327.1 472.0,328.0 470.2,327.3C468.6,326.6 468.4,324.3 467.3,322.9C466.4,321.8 465.6,320.6 464.4,320.0C462.1,319.0 459.6,318.3 457.1,318.3C454.6,318.3 452.1,318.9 449.8,320.0Z" fill="#e0eabe"/>
<path d="M437.5,417.0C438.1,413.6 437.9,409.7 440.0,407.0C442.4,403.9 446.3,402.0 450.0,400.8C454.8,399.1 460.0,397.4 465.0,398.2C468.2,398.8 471.0,401.6 472.5,404.5C474.5,408.2 475.0,412.8 475.0,417.0C475.0,422.1 473.8,427.1 472.5,432.0C471.7,435.1 470.1,437.9 468.8,440.8C468.6,441.0 468.8,439.8 468.7,440.0C468.5,442.9 468.2,445.8 468.0,448.7C467.7,452.1 466.7,455.6 467.3,458.9C467.7,461.6 469.2,464.1 470.9,466.2C472.0,467.6 474.3,467.6 475.3,469.1C476.6,471.2 476.2,474.2 477.5,476.4C478.7,478.6 480.9,480.2 482.5,482.2C484.1,484.1 486.2,485.7 486.9,488.0C487.9,491.2 488.0,494.8 487.6,498.2C487.3,501.2 485.6,504.0 484.7,506.9C483.9,509.8 483.8,512.9 482.5,515.6C481.6,517.8 479.9,519.7 478.2,521.5C476.0,523.6 473.2,525.2 470.9,527.3C468.4,529.6 465.8,531.9 463.6,534.5C462.6,535.8 460.9,537.4 461.5,538.9C462.2,541.0 464.5,542.4 466.5,543.3C468.8,544.2 471.4,544.2 473.8,544.0C477.3,543.7 480.7,542.9 484.0,541.8C486.1,541.2 487.9,539.9 489.8,538.9C492.2,537.7 494.8,536.7 497.1,535.3C499.6,533.8 502.2,532.2 504.4,530.2C506.1,528.5 507.5,526.4 508.7,524.4C510.4,521.6 511.7,518.6 513.1,515.6C514.6,512.3 516.3,509.0 517.5,505.5C518.5,502.2 519.1,498.7 519.6,495.3C520.1,491.9 519.4,488.4 520.4,485.1C521.2,482.4 522.8,479.9 524.7,477.8C526.8,475.5 529.5,473.8 532.0,472.0C534.3,470.4 536.7,468.9 539.3,467.6C541.1,466.7 543.0,465.7 545.1,465.5C546.6,465.2 548.0,466.3 549.5,466.2C551.4,466.0 553.5,465.7 555.3,464.7C557.1,463.7 557.8,461.3 559.6,460.4C562.3,459.0 565.4,458.5 568.4,458.2C572.2,457.8 576.1,458.0 580.0,458.2C581.5,458.2 583.2,458.1 584.5,458.8C586.3,459.8 588.1,461.3 588.9,463.2C589.9,465.4 590.0,468.1 589.6,470.5C589.3,472.6 588.3,474.7 586.7,476.3C585.0,478.0 582.6,479.3 580.2,479.9C577.4,480.6 574.3,480.4 571.5,479.9C568.9,479.4 566.5,478.2 564.2,477.0C562.1,476.0 560.3,474.6 558.4,473.4C557.3,472.7 556.3,470.6 555.3,471.3C553.0,472.6 552.1,475.5 550.9,477.8C549.7,480.1 548.8,482.6 548.0,485.1C546.9,488.4 545.9,491.8 545.1,495.3C544.4,498.1 544.4,501.1 543.6,504.0C542.9,507.0 541.9,509.9 540.7,512.7C539.5,515.7 538.0,518.7 536.4,521.5C535.1,523.5 533.8,525.7 532.0,527.3C529.9,529.1 527.1,530.1 524.7,531.6C522.7,533.0 520.5,534.2 518.9,536.0C517.5,537.6 516.8,539.8 516.0,541.8C515.3,543.7 515.0,545.7 514.5,547.6C514.1,549.6 512.7,551.5 513.1,553.5C513.7,556.9 515.3,560.3 517.5,563.1C518.3,564.1 516.1,559.0 517.5,559.0C521.1,558.9 524.2,561.3 527.5,562.8C530.9,564.2 534.8,565.2 537.5,567.8C540.0,570.0 541.7,573.2 542.5,576.5C543.5,580.6 543.2,584.9 542.5,589.0C541.9,592.5 540.9,596.2 538.8,599.0C536.6,601.8 533.3,603.9 530.0,605.2C526.9,606.5 523.4,606.5 520.0,606.5C517.5,606.5 515.0,605.7 512.5,605.2C510.0,604.8 507.5,603.8 505.0,604.0C502.4,604.2 500.1,606.5 497.5,606.5C494.9,606.5 492.6,604.3 490.0,604.0C488.3,603.8 486.5,604.4 485.0,605.2C482.2,606.9 479.4,608.9 477.5,611.5C476.0,613.6 475.7,616.5 475.0,619.0C474.1,622.3 474.3,626.1 472.5,629.0C470.0,633.0 466.5,636.5 462.5,639.0C458.8,641.3 454.3,642.3 450.0,642.8C446.7,643.1 442.7,643.5 440.0,641.5C437.0,639.3 436.4,635.0 435.0,631.5C433.4,627.4 431.2,623.4 431.2,619.0C431.2,615.4 433.6,612.3 435.0,609.0C436.5,605.6 438.8,602.5 440.0,599.0C441.3,595.0 442.3,590.7 442.5,586.5C442.7,582.3 441.4,578.2 441.2,574.0C441.0,569.0 442.9,563.7 441.2,559.0C440.5,556.9 436.9,557.7 435.0,556.5C433.0,555.2 431.1,553.6 430.0,551.5C428.5,548.4 427.1,544.9 427.5,541.5C428.0,537.8 430.5,534.7 432.5,531.5C434.7,528.0 438.4,525.4 440.0,521.5C441.4,518.0 442.1,513.9 441.2,510.2C440.3,506.4 437.8,503.0 435.0,500.2C433.0,498.3 430.3,496.3 427.5,496.5C424.5,496.7 422.4,499.8 420.0,501.5C416.6,503.9 413.8,507.3 410.0,509.0C405.3,511.1 400.1,512.3 395.0,512.8C390.0,513.2 384.7,513.3 380.0,511.5C376.7,510.2 374.1,507.2 372.5,504.0C371.0,501.0 370.9,497.3 371.2,494.0C371.7,489.7 373.9,485.7 375.0,481.5C376.0,477.4 378.3,473.2 377.5,469.0C377.2,467.4 372.8,470.6 372.5,469.0C371.7,465.0 373.5,460.8 375.0,457.0C376.1,454.2 377.8,451.5 380.0,449.5C382.9,446.8 386.3,444.7 390.0,443.2C394.0,441.7 398.3,440.8 402.5,440.8C406.7,440.8 410.8,443.0 415.0,443.2C419.2,443.5 423.9,444.1 427.5,442.0C431.1,440.0 433.1,435.7 435.0,432.0C436.5,428.9 436.9,425.4 437.5,422.0C437.8,420.4 437.2,418.6 437.5,417.0Z" fill="#e0eabe"/>
<path d="M443.8,438.2C443.9,436.8 444.9,435.1 446.2,434.5C447.5,434.0 449.2,434.7 450.0,435.8C451.3,437.5 452.0,439.9 451.8,442.0C451.5,443.7 450.4,445.6 448.8,446.2C447.5,446.7 445.7,445.7 445.0,444.5C443.9,442.7 443.5,440.4 443.8,438.2Z" fill="#4a90c4"/>
<path d="M490.0,640.0C491.7,637.5 493.1,634.8 495.0,632.5C496.5,630.7 498.2,629.1 500.0,627.5C502.4,625.3 504.5,622.5 507.5,621.2C510.6,619.9 514.2,620.6 517.5,620.0C521.7,619.3 526.0,618.8 530.0,617.5C533.5,616.3 536.4,613.6 540.0,612.5C544.0,611.2 548.3,610.5 552.5,610.5C559.2,610.5 565.8,611.7 572.5,612.5C578.4,613.2 584.2,614.1 590.0,615.0C592.5,615.4 595.5,614.7 597.5,616.2C599.3,617.6 598.4,620.9 600.0,622.5C601.6,624.1 604.7,623.4 606.2,625.0C607.5,626.2 608.2,628.4 607.5,630.0C606.7,631.9 604.3,632.8 602.5,633.8C599.7,635.3 596.1,635.4 593.8,637.5C591.7,639.4 590.4,642.2 590.0,645.0C589.5,648.3 589.9,651.9 591.2,655.0C592.5,658.0 594.8,660.7 597.5,662.5C598.9,663.4 601.1,663.4 602.5,662.5C604.8,661.1 605.9,658.4 607.5,656.2C609.3,653.8 610.4,650.9 612.5,648.8C614.6,646.6 618.4,646.3 620.0,643.8C621.6,641.3 619.4,637.3 621.2,635.0C623.2,632.5 627.6,633.3 630.0,631.2C631.8,629.8 632.3,627.2 633.0,625.0C633.8,622.6 632.5,619.1 634.5,617.5C635.9,616.4 635.6,620.8 636.2,622.5C637.5,625.8 638.7,629.2 640.0,632.5C641.0,635.0 643.0,637.3 643.0,640.0C643.0,641.9 641.2,643.5 640.0,645.0C638.1,647.3 635.8,649.2 633.8,651.2C631.7,653.3 628.9,654.9 627.5,657.5C626.3,659.7 626.9,662.6 626.2,665.0C625.3,668.4 623.6,671.6 622.5,675.0C621.5,678.3 619.4,681.6 620.0,685.0C620.7,688.9 625.3,691.2 626.2,695.0C627.5,700.3 627.2,705.9 626.2,711.2C625.9,713.3 624.4,715.5 622.5,716.2C618.6,717.8 614.1,716.9 610.0,717.5C605.8,718.1 601.4,718.3 597.5,720.0C595.3,720.9 593.6,722.9 592.5,725.0C591.4,727.3 590.8,730.0 591.2,732.5C591.7,735.3 592.7,738.4 595.0,740.0C597.8,742.0 601.7,741.7 605.0,742.5C608.3,743.3 612.1,743.1 615.0,745.0C617.1,746.4 621.2,751.4 618.8,751.5L503.8,751.5C498.3,750.7 503.2,740.5 502.5,735.0C501.9,730.0 501.1,725.0 500.0,720.0C498.6,713.3 496.9,706.6 495.0,700.0C493.6,694.9 494.9,687.0 490.0,685.0C486.1,683.5 485.2,691.8 482.5,695.0C480.2,697.7 477.7,700.2 475.0,702.5C471.8,705.2 468.3,707.5 465.0,710.0C461.7,712.5 458.1,714.8 455.0,717.5C451.5,720.6 448.3,724.2 445.0,727.5C441.7,730.8 438.8,734.7 435.0,737.5C432.0,739.7 428.7,742.0 425.0,742.5C422.4,742.9 418.5,742.4 417.5,740.0C415.5,735.4 417.7,730.0 417.5,725.0C417.3,720.0 416.9,715.0 416.2,710.0C415.7,705.8 413.5,701.7 413.8,697.5C413.9,693.9 415.5,690.4 417.5,687.5C420.2,683.6 423.8,680.4 427.5,677.5C431.3,674.5 435.7,672.3 440.0,670.0C444.9,667.3 449.8,664.7 455.0,662.5C459.9,660.5 465.3,659.9 470.0,657.5C473.7,655.6 476.9,652.7 480.0,650.0C483.5,646.9 486.7,643.3 490.0,640.0C490.0,640.0 490.0,640.0 490.0,640.0Z" fill="#e0eabe"/>
<path d="M550.4,336.1C551.3,335.3 552.8,335.6 554.0,335.8C555.3,336.0 557.4,336.0 557.6,337.3C557.9,338.5 555.9,339.2 554.7,339.5C553.5,339.7 552.1,339.2 551.1,338.4C550.4,337.9 549.8,336.7 550.4,336.1Z" fill="#e0eabe"/>
<path d="M508.2,444.3C510.4,444.4 511.8,447.0 513.3,448.6C514.5,449.9 516.9,451.4 516.2,453.0C515.3,454.9 512.4,454.7 510.4,455.2C508.2,455.7 505.9,456.4 503.8,455.9C501.8,455.4 498.9,454.3 498.7,452.3C498.5,450.2 501.5,449.2 503.1,447.9C504.7,446.6 506.1,444.1 508.2,444.3Z" fill="#e0eabe"/>
<path d="M425.0,572.8C425.6,570.9 428.1,569.9 430.0,569.8C431.8,569.6 434.3,570.3 435.0,572.0C435.7,573.7 434.4,575.9 433.0,577.0C431.5,578.2 429.1,578.9 427.5,578.0C425.8,577.1 424.4,574.6 425.0,572.8Z" fill="#e0eabe"/>
<path d="M380.0,397.1C380.1,396.6 381.4,397.3 381.5,397.8C381.9,400.9 381.9,404.2 381.5,407.3C381.4,407.8 380.1,407.8 380.0,407.3C379.5,403.9 379.5,400.4 380.0,397.1Z" fill="#e0eabe"/>
<path d="M337.2,47.9C334.1,47.9 333.7,53.1 331.4,55.2C328.8,57.5 325.5,58.9 322.6,61.0C320.1,62.8 317.7,64.8 315.4,66.8C312.9,68.9 310.4,71.1 308.1,73.4C305.5,75.9 303.3,78.8 300.8,81.4C298.5,83.8 295.9,86.1 293.5,88.6C292.0,90.3 289.9,91.6 289.2,93.7C288.8,94.7 289.8,95.9 290.6,96.6C292.3,98.2 294.3,99.4 296.5,100.3C299.2,101.4 302.2,102.0 305.2,102.5C309.0,103.0 312.9,102.9 316.8,103.2C320.7,103.4 324.6,103.8 328.5,103.9C332.3,104.0 336.2,104.0 340.1,103.9C344.5,103.8 348.8,103.3 353.2,103.2C357.1,103.1 360.9,103.3 364.8,103.2C368.2,103.1 371.6,102.5 375.0,102.5C378.3,102.4 381.7,102.9 385.0,103.0C391.7,103.3 398.3,104.1 405.0,103.8C410.1,103.5 415.1,102.5 420.0,101.2C425.1,100.0 430.0,97.9 435.0,96.2C440.0,94.6 445.0,93.1 450.0,91.2C454.2,89.7 458.3,87.7 462.5,86.2C466.6,84.8 470.7,83.2 475.0,82.5C479.9,81.7 485.0,82.4 490.0,82.0C495.0,81.6 500.0,80.5 505.0,80.0C510.8,79.4 516.7,78.5 522.5,78.8C526.7,78.9 531.0,79.9 535.0,81.2C537.3,82.0 539.8,83.1 541.2,85.0C542.9,87.1 542.3,90.3 543.8,92.5C545.3,95.0 547.6,97.1 550.0,98.8C553.1,100.9 556.8,101.9 560.0,103.8C563.4,105.7 567.0,107.5 570.0,110.0C572.0,111.7 572.5,115.3 575.0,116.2C579.7,118.1 585.0,117.3 590.0,118.0C593.4,118.5 596.8,118.7 600.0,120.0C601.8,120.7 604.1,121.8 604.5,123.8C605.5,129.1 603.2,134.6 603.8,140.0C604.2,144.3 607.5,148.1 607.5,152.5C607.5,155.3 604.8,157.4 603.8,160.0C602.7,162.4 600.6,164.9 601.2,167.5C602.0,170.7 605.1,172.8 607.5,175.0C611.4,178.6 616.0,181.5 620.0,185.0C623.5,188.1 626.7,191.7 630.0,195.0C633.3,198.3 637.0,201.3 640.0,205.0C642.5,208.1 644.5,211.5 646.2,215.0C647.8,218.2 648.0,222.1 650.0,225.0C652.7,228.9 656.5,231.9 660.0,235.0C663.1,237.7 666.2,240.8 670.0,242.5C673.1,243.8 676.6,243.7 680.0,243.8C683.3,243.8 686.7,242.9 690.0,243.0C698.4,243.3 706.7,244.2 715.0,245.0C723.4,245.8 731.7,247.0 740.0,248.0C748.3,249.0 756.7,250.1 765.0,251.2C773.3,252.4 781.6,254.0 790.0,255.0C798.3,256.0 806.7,256.0 815.0,257.0C823.4,258.0 831.7,259.3 840.0,260.8C848.4,262.2 856.7,264.1 865.0,265.8C870.4,266.8 875.8,268.0 881.2,268.8C881.6,268.8 882.0,268.4 882.0,268.0L882.0,48.0L337.2,47.9Z" fill="#c0d77d"/>
<path d="M266.2,393.2C267.9,390.6 271.8,389.5 275.0,389.5C278.6,389.5 281.6,392.1 285.0,393.2C290.0,395.0 294.8,397.6 300.0,398.2C305.0,398.9 310.0,396.6 315.0,397.0C320.1,397.4 324.9,399.8 330.0,400.8C336.6,401.9 343.3,402.5 350.0,403.2C354.2,403.7 358.9,402.4 362.5,404.5C364.8,405.8 365.8,409.5 365.0,412.0C363.9,415.4 360.0,417.0 357.5,419.5C355.0,422.0 352.5,424.5 350.0,427.0C348.3,428.7 346.1,429.9 345.0,432.0C343.5,435.1 344.5,439.2 342.5,442.0C340.1,445.4 336.5,448.4 332.5,449.5C326.9,451.0 320.8,449.9 315.0,449.5C309.9,449.1 304.9,448.5 300.0,447.0C296.4,445.9 292.6,444.6 290.0,442.0C287.4,439.4 286.2,435.5 285.0,432.0C283.7,428.0 283.8,423.5 282.5,419.5C281.3,416.0 279.6,412.6 277.5,409.5C275.0,405.9 271.3,403.1 268.8,399.5C267.5,397.7 265.1,395.2 266.2,393.2Z" fill="#c0d77d"/>
<path d="M318.8,435.0C320.1,435.0 321.2,436.9 321.2,438.2C321.2,439.6 320.1,441.5 318.8,441.5C317.4,441.5 316.2,439.6 316.2,438.2C316.2,436.9 317.4,435.0 318.8,435.0Z" fill="#e0eabe"/>
<path d="M215.0,546.5C216.2,544.8 219.4,547.4 221.2,546.5C224.7,544.8 226.7,541.0 230.0,539.0C233.1,537.2 236.4,535.0 240.0,535.2C243.0,535.5 245.6,537.9 247.5,540.2C249.1,542.3 250.7,545.2 250.0,547.8C248.9,551.8 245.7,555.0 242.5,557.8C239.7,560.2 236.2,562.0 232.5,562.8C229.6,563.3 226.3,563.0 223.8,561.5C221.7,560.2 222.0,556.7 220.0,555.2C218.6,554.3 215.8,556.7 215.0,555.2C213.6,552.7 213.3,548.9 215.0,546.5Z" fill="#c0d77d"/>
<path d="M469.5,338.2C470.3,337.3 471.8,337.3 473.1,337.2C475.3,337.0 478.1,335.9 479.6,337.5C480.7,338.6 478.8,340.9 477.5,341.8C475.8,343.0 473.6,343.3 471.6,343.3C470.6,343.3 469.2,342.8 468.7,341.8C468.2,340.7 468.6,339.1 469.5,338.2Z" fill="#c0d77d"/>
<path d="M462.5,494.0C462.7,491.9 464.6,490.2 466.2,489.0C467.6,488.0 469.8,486.8 471.2,487.8C473.1,489.0 473.8,491.8 473.8,494.0C473.8,495.9 472.8,497.9 471.2,499.0C469.5,500.2 466.8,501.3 465.0,500.2C463.1,499.1 462.3,496.2 462.5,494.0Z" fill="#c0d77d"/>
<path d="M356.2,290.8C356.4,290.2 357.9,290.2 358.0,290.8C358.6,293.2 358.6,295.8 358.0,298.2C357.9,298.8 356.4,298.8 356.2,298.2C355.7,295.8 355.7,293.2 356.2,290.8Z" fill="#e0eabe"/>
<path d="M326.8,542.8C326.9,542.1 328.6,542.1 328.8,542.8C329.4,545.2 329.4,547.8 328.8,550.2C328.6,550.9 326.9,550.9 326.8,550.2C326.1,547.8 326.1,545.2 326.8,542.8Z" fill="#eef3dc"/>
<path d="M228.0,50.6L234.0,55.0L236.0,60.0L241.0,62.0L246.0,66.0L251.0,69.0L252.0,77.0L255.0,84.0L259.0,88.6L266.0,90.6L273.0,90.0L279.0,88.0L285.0,90.6L291.0,89.4L296.0,85.0L299.0,88.0L304.0,88.6L307.0,92.0L312.0,91.4L316.0,88.0L319.0,87.4L323.0,85.0L327.0,83.0 M327.0,83.0L326.0,77.0L328.0,73.0L328.0,65.0L331.0,61.0L337.0,58.0L345.0,56.6L355.0,57.4L363.0,57.0L369.0,61.0L373.0,65.0L377.0,69.0L379.0,75.0L382.0,82.0L384.0,88.0L387.0,94.0L390.0,99.0L393.0,101.0L395.0,96.0L399.0,91.0L403.0,88.0L407.0,93.0L411.0,98.0L417.0,99.4L423.0,98.0L427.0,94.0L431.0,93.0L436.0,94.0L437.0,85.0L436.2,83.8L441.2,83.8L447.5,81.2L452.5,83.8L458.8,82.5L460.0,87.5L463.8,91.2L460.0,95.0L465.0,101.2L466.2,107.5L473.8,105.0L481.2,103.8L485.0,98.8L486.2,91.2L488.8,83.8L493.8,80.0L500.0,78.8L505.0,80.0L510.0,77.5L513.0,73.8L511.2,68.8L515.5,62.5L518.2,56.2L518.8,49.5 M327.0,83.0L331.0,86.0L335.0,91.0L340.0,96.0L347.0,99.0L355.0,102.0L361.0,105.0L367.0,107.0L371.0,111.0L372.0,117.0L376.0,122.0L377.0,127.0L381.0,131.0L385.0,136.0L393.0,137.4L400.0,135.0L405.0,139.0L410.0,141.0L414.0,138.0L419.0,143.0L423.0,141.0L427.0,149.0L431.0,157.0L433.0,169.0L435.0,168.8L445.0,167.5L455.0,165.8L465.0,167.0L464.5,175.0L461.2,185.0L457.5,191.2L453.8,200.0L450.0,207.5L447.5,215.0L450.0,221.2L457.5,222.5L466.2,217.5L468.8,225.0L471.2,235.0L473.8,242.5L472.5,250.0L476.2,257.0L480.2,258.8L487.8,262.5L494.0,263.0L496.5,261.2L504.0,261.2L510.2,258.8L509.0,252.5L514.0,248.8L517.8,241.2L524.0,242.5L530.2,241.2L532.8,247.5L536.5,252.5L542.8,253.8L545.2,260.0L546.5,268.8L547.8,275.0L544.0,278.8L541.5,283.8L536.5,287.5L531.5,282.5L526.5,278.8L523.5,274.5L520.2,277.0L517.0,273.8L514.0,277.0L511.0,273.8L507.8,275.5L504.5,273.0L501.5,276.2L497.8,275.0L499.0,282.5L504.0,285.0L505.2,292.5L506.5,300.0L502.8,306.2L499.0,311.2L492.8,315.0L489.0,320.0L487.8,315.0L482.8,322.5L481.5,330.0L482.8,337.5L487.8,342.5L490.2,348.8L494.0,352.5L494.0,348.8L500.2,351.2L502.8,357.5L507.8,360.0L514.0,360.0L517.8,366.2L520.2,375.0L521.5,382.5L517.8,387.5L512.8,390.0L507.8,395.0L511.5,400.0L516.5,401.2L526.5,401.2L536.5,401.2L542.8,396.2L549.0,398.8L556.5,397.5L560.2,403.8L564.0,407.5L571.5,407.5L579.0,410.0L584.0,407.5L594.0,407.5L601.5,407.5L604.0,415.0L606.5,422.0L611.5,423.8L619.0,427.5L626.5,430.0L634.0,428.8L637.8,433.8L641.5,435.0L645.2,442.5L647.8,445.0L651.5,440.0L655.2,436.2L661.5,435.0L662.8,428.8L669.0,427.5L674.0,423.8L682.8,421.2L684.0,428.8L686.5,436.2L691.5,437.5L695.2,442.5L700.2,443.8L704.0,448.8L706.5,451.2 M311.0,91.4L310.0,97.0L309.0,102.0L313.0,106.0L319.0,109.0L323.0,113.0L326.0,118.0L333.0,117.0L337.0,116.0L340.0,120.0L339.0,125.0L341.0,129.0L338.0,133.0L341.0,139.0L344.0,145.0L347.0,149.0L346.0,154.0L339.0,156.0L331.0,159.0L327.0,163.0L319.0,167.0L313.0,171.0L307.0,170.0L302.0,163.0L299.0,158.0L296.0,153.0L294.6,144.0L289.0,143.0L285.0,139.0L281.0,137.0L271.0,137.0L265.0,140.0L263.0,147.0L262.0,155.0L267.0,156.0L266.0,163.0L264.0,165.0L266.0,175.0L268.0,183.0L259.0,184.0L251.0,187.0L243.0,191.0L242.6,199.0L246.0,205.0L245.0,215.0L245.2,210.0L244.0,217.5L240.2,222.5L234.0,226.2L226.5,228.8L217.8,228.8 M546.2,49.5L545.0,57.5L543.8,63.8L547.5,68.8L552.5,71.2L558.8,73.0L565.0,74.5L566.2,80.0L571.2,83.8L578.8,90.0L586.2,93.8L595.0,98.8L603.8,101.2L611.2,105.0L620.0,110.5L628.8,115.0L630.0,122.5L632.5,130.0L635.0,137.5L638.8,147.5L642.5,155.0L646.2,161.2L641.2,166.2L647.5,167.5L648.8,175.0L651.2,183.8L655.0,192.5L655.0,201.2L661.2,210.0L665.2,216.2L664.0,222.5L669.0,227.5L670.2,235.0L675.2,238.8L676.5,247.5L677.8,253.8L674.0,257.5L677.8,263.8L676.5,271.2L680.2,276.2L686.5,280.0L692.8,283.8L699.0,287.5L706.5,291.2L712.8,296.2L715.2,301.2L712.8,306.2L715.2,310.0L714.0,315.0L717.8,318.8L722.8,320.0L730.2,322.5L739.0,326.2L745.2,331.2L750.2,340.0L753.5,350.0L755.2,357.5L749.0,359.5L739.0,357.5L729.0,353.8L720.2,348.8L711.5,343.8L701.5,342.0L692.8,345.0L690.2,348.8L692.8,355.0L699.0,362.5L706.5,370.0L714.0,376.2L721.5,382.5L730.2,388.8L739.0,393.8L744.0,402.5L749.0,412.5L752.8,422.0L746.2,407.5L750.0,416.2L753.8,425.0L756.2,431.2L753.8,436.2L745.0,437.5L735.0,438.8L725.0,442.0L717.5,446.2L710.0,449.5L705.0,451.2L701.5,456.2L696.5,461.2L689.0,462.5L686.5,466.2L682.8,471.2L681.5,477.5L677.8,482.5L672.8,485.0L669.0,481.2L664.0,480.0L659.0,478.8L655.2,481.2L649.0,481.2L640.2,482.5L649.0,483.0L654.0,483.0L656.0,492.5L659.0,500.0L664.0,503.8L672.8,505.0L681.5,500.0L689.0,496.2L696.5,491.2L704.0,488.0L712.8,488.0L719.0,492.5L725.2,500.0L730.2,507.5L736.5,515.0L744.0,520.0L751.5,522.5L757.8,525.0L764.0,530.0 M694.0,347.0L701.5,345.0L711.5,346.2L720.2,351.2L729.0,357.5L739.0,362.5L749.0,366.2L754.0,370.0L752.8,376.2L746.5,378.8L739.0,377.5L729.0,372.5L719.0,366.2L711.5,360.0L704.0,353.8L697.8,350.0L694.0,347.0 M717.8,350.5L721.5,352.5L725.2,355.5 M702.8,350.0L709.0,350.0L716.5,353.8L722.8,357.5L729.0,361.2 M510.0,257.0L515.0,246.2L520.0,242.5L530.0,241.2L532.5,247.5L540.0,252.5L545.0,253.8L545.0,257.0L545.2,260.0 M217.8,245.0L229.0,247.5L232.8,253.8L231.5,262.5L232.8,270.0L237.8,275.5L244.0,277.5L251.5,278.8L256.5,283.8L260.2,288.8L265.2,291.2L270.2,290.0L272.8,285.0L279.0,283.8L282.8,280.0L290.2,276.2L286.5,281.2L287.0,290.0L289.0,297.5L290.2,307.5L291.5,317.5L291.0,327.5L289.8,337.5L289.0,345.0L288.5,350.0L281.5,351.2L272.8,352.0L266.5,355.0L259.0,360.0L254.0,366.2L250.2,375.0L248.5,385.0L248.5,385.0L252.8,391.2L257.8,397.5L261.5,403.8L265.2,408.8L270.2,405.0L275.2,410.0L281.5,413.8L286.5,410.0L292.8,417.5L299.0,421.2L301.5,427.5L294.0,431.2L287.8,436.2L284.0,442.5L280.2,447.5L279.0,455.0L282.8,460.0L287.8,465.0L290.2,472.5L289.0,480.0L291.5,486.2L296.5,491.2L300.2,496.2L301.5,505.0L302.8,515.0L304.0,523.8L306.5,530.0L307.8,533.8L316.5,533.8L324.0,532.5L330.2,528.8L336.5,525.0L340.2,521.2L342.8,513.8L347.8,510.0L354.0,512.0L360.2,516.2L364.0,521.2L366.5,525.0L362.8,531.2L357.8,535.0L352.8,540.0L347.8,545.0L349.0,551.2L354.0,556.2L362.8,556.2L369.0,551.2L375.2,546.2L381.5,545.0L385.2,541.2L382.8,535.0L384.0,528.8L389.0,525.0L394.0,526.2L394.0,531.2L399.0,532.5L405.2,531.2L407.8,537.5L411.5,543.8L415.2,548.8L419.0,552.5L424.0,553.8L429.0,557.5L436.5,558.8L445.2,558.8L452.8,557.5L457.8,560.0L461.5,565.0L462.8,572.5L467.8,573.8L469.0,570.0L474.0,567.5L479.0,566.2L484.0,562.5L490.2,561.2L494.0,558.8L494.0,556.2L499.0,551.2L506.5,545.0L510.2,537.5L512.8,530.0L517.8,525.0L520.2,518.8L521.5,510.0L519.0,503.8L522.8,500.0L521.5,495.0L522.8,487.5L526.5,483.8L531.5,485.0L535.2,487.0L541.5,487.5L547.8,490.0L549.0,486.2L555.2,485.0L561.5,482.5L559.0,480.0L554.5,475.0L555.2,468.8L550.2,465.0L552.8,460.0L556.5,456.2L560.2,457.5L564.0,455.0L569.0,450.0L571.5,441.2L575.2,433.8L576.5,425.0L578.5,417.5L579.0,410.0 M217.8,376.2L226.5,375.0L229.0,368.0L235.2,370.0L236.5,376.2L237.8,383.8L242.8,387.5L248.5,385.0 M307.8,533.8L301.5,537.5L296.5,540.0L290.2,541.2L284.0,537.5L277.8,533.8L271.5,531.2L264.0,531.2L257.8,532.5L256.5,540.0L251.5,545.0L246.5,547.5L241.5,551.2L235.2,550.0L230.2,547.5L226.5,546.2L230.2,551.2L231.5,560.0L226.5,562.5L221.5,561.2L217.8,558.8 M217.8,558.8L225.2,561.2L230.2,560.0L231.5,553.8L227.8,550.0L226.5,546.2L231.5,548.8L237.8,550.0L244.0,548.8L251.5,545.0L256.5,540.0 M489.0,345.0L494.0,348.8 M520.2,375.0L521.0,382.5L515.2,387.5L509.0,391.2L507.8,396.2L512.8,401.2L521.5,401.2L531.5,401.2L539.0,398.8L542.8,396.2L547.8,398.8L554.0,398.8L557.8,397.5L559.0,403.8L564.0,407.5L571.5,407.5L579.0,410.0L585.2,407.5L594.0,407.0L601.5,407.0L602.8,412.5L605.2,418.8L611.5,423.8 M707.8,377.0L701.5,381.2L696.5,387.5L695.2,396.2L691.0,403.8L690.2,411.2L676.5,411.2L676.5,422.0L676.5,422.0L682.8,421.2 M462.8,572.5L466.5,577.5L465.2,572.5L466.5,577.5L461.5,581.2L456.5,586.2L454.0,593.8L456.5,601.2L460.2,607.5L466.5,612.5L471.5,617.5L476.5,622.5L481.5,628.8L484.0,636.2L485.2,645.0L482.8,651.2L486.5,657.5L490.2,665.0L490.2,672.5L484.0,676.2L480.2,681.2L480.2,687.5L474.0,692.5L467.8,696.2L462.8,700.0L459.0,705.0L452.8,703.8L446.5,706.2L439.0,710.0L435.2,716.2L431.5,721.2L426.5,718.8L421.5,713.8L417.8,707.5L414.0,705.0L409.0,708.8L402.8,712.5L397.8,715.0L395.2,722.5L391.5,728.8L384.0,731.2L377.8,733.8L375.2,740.0L377.8,745.0L381.5,750.0 M489.0,678.8L495.2,677.5L501.5,680.0L506.5,676.2L512.8,680.0L515.2,685.0L512.8,691.2L509.0,696.2L509.0,703.8L512.8,710.0L515.2,716.2L517.8,725.0L520.2,733.8L522.8,742.5L520.2,750.0 M557.8,750.0L561.5,746.2L566.5,743.8L569.0,736.2L574.0,733.8L579.0,734.5L580.2,740.0L582.8,743.8L585.2,750.0 M764.0,530.0L757.8,546.2L754.0,551.2L749.0,550.0L744.0,553.8L739.0,558.8L732.8,558.0L729.0,562.5L722.8,561.2L720.2,565.0L721.5,571.2L725.2,572.5L729.0,567.5L734.0,566.2L739.0,562.5L744.0,563.8L749.0,558.8L754.0,557.5L760.2,552.5L762.8,555.0L759.0,561.2L762.8,566.2L760.2,571.2L754.0,575.0L749.0,577.5L746.5,583.8L741.5,586.2L735.2,585.0L730.2,588.8L726.5,592.5L722.8,597.5L726.5,602.5L731.5,606.2L735.2,603.8L739.0,607.5L735.2,612.5L729.0,615.0L726.5,620.0L732.8,622.5L739.0,620.0L739.0,627.5L737.8,635.0L732.8,638.8L727.8,640.0L725.2,645.0L727.8,652.5L731.5,660.0L735.2,667.5L736.5,675.0L732.8,678.8L729.0,676.2L724.0,675.0L719.0,678.8L715.2,685.0L711.5,690.0L706.5,691.2L709.0,683.8L707.8,676.2L704.0,671.2L699.0,672.5L696.5,678.8L700.2,687.5L697.8,693.8L694.0,690.0L695.2,682.5L692.8,686.2L689.0,692.5L684.0,696.2L679.0,701.2L675.2,706.2L674.0,712.5L670.2,718.8L667.8,726.2L662.8,732.5L659.0,738.8L655.2,743.8L655.2,750.0 M724.0,587.5L729.0,583.8L735.2,581.2L741.5,580.0L746.5,583.8L751.5,588.8L749.0,595.0L742.8,598.8L736.5,597.5L732.8,602.5L727.8,601.2L725.2,596.2L724.0,587.5 M746.5,577.5L751.5,575.0L750.2,582.5L754.0,586.2L759.0,583.8L761.5,590.0L759.0,597.5L754.0,601.2L749.0,600.0L746.5,593.8 M756.5,565.0L761.5,563.8L762.8,572.5L759.0,580.0L757.8,572.5 M689.0,705.0L694.0,702.5L699.0,706.2L696.5,712.5L700.2,717.5L696.5,723.8L691.5,721.2L687.8,716.2L690.2,711.2L689.0,705.0 M692.8,712.5L697.8,715.0 M671.5,705.0L676.5,703.8L679.0,707.5L674.0,709.5L671.5,705.0 M744.0,638.8L747.8,636.2L750.2,632.5L754.0,633.8L749.0,638.0L744.0,640.0 M752.8,655.0L756.5,657.5L754.0,661.2 M724.0,695.0L726.5,696.2 M697.8,670.0L701.5,675.0L704.0,681.2L701.5,687.5L705.2,692.5L709.0,690.0 M717.8,680.0L722.8,675.0L729.0,676.2L730.2,680.0 M751.2,511.2L755.0,507.5L758.8,510.0L756.2,515.0L758.8,520.0L753.8,521.2L751.2,516.2L751.2,511.2 M766.2,488.8L772.5,487.5L778.8,485.0L781.2,490.0L777.5,495.0L780.0,500.0L775.0,503.8L771.2,500.0L767.5,502.5L763.8,500.0L767.5,496.2L766.2,488.8 M761.2,500.0L766.2,503.8L771.2,507.5L777.5,511.2L783.8,515.0L790.0,513.8L795.0,516.2L797.0,522.5L795.0,528.8L791.2,533.8L786.2,537.5L781.2,535.0L780.0,540.0L785.0,545.0L780.0,548.8L775.0,545.0L770.0,541.2L765.0,538.8L761.2,535.0L766.2,531.2L771.2,527.5L767.5,523.8L762.5,525.0L758.8,522.5L763.8,518.8L768.8,520.0L773.8,517.5L770.0,512.5L765.0,511.2L761.2,507.5L761.2,500.0 M780.0,492.5L786.2,490.0L792.5,492.0L796.2,495.0L791.2,497.5L785.0,496.2L780.0,492.5 M782.5,525.0L787.5,522.5L791.2,526.2L788.8,531.2L783.8,533.8L781.2,529.5L782.5,525.0 M786.2,505.0L791.2,503.8L793.8,508.8L788.8,511.2L786.2,505.0 M772.5,518.8L776.2,516.2L780.0,520.0L777.5,525.0L773.8,523.8 M765.0,550.0L761.2,553.8L755.0,552.5L750.0,556.2L745.0,555.0L740.0,558.8L733.8,560.0L728.8,558.8L722.5,561.2L720.0,566.2L722.5,572.5L726.2,570.0L728.8,565.0L735.0,563.8L740.0,566.2L745.0,562.5L750.0,561.2L753.8,565.0L758.8,563.8L762.5,560.0L765.0,555.0L765.0,550.0 M745.0,565.0L748.8,567.5L746.2,572.5 M758.8,565.0L761.2,572.5L758.8,577.5L761.2,582.5L757.5,587.0 M745.0,576.2L748.8,575.0L750.0,582.5L746.2,583.8L745.0,576.2 M735.0,581.2L738.8,580.0L737.5,587.0 M765.0,551.2L761.2,555.0L756.2,553.8L752.5,557.5L747.5,556.2L742.5,560.0L737.5,558.8L732.5,561.2L726.2,560.0L721.2,562.5L718.8,567.5L721.2,572.5L725.0,570.0L728.8,565.0L735.0,565.0L740.0,567.5L745.0,563.8L750.0,562.5L755.0,565.0L758.8,561.2L763.8,557.5L765.0,551.2 M756.2,565.0L758.8,571.2L756.2,577.5L758.8,583.8 M721.2,596.2L725.0,592.5L728.8,588.8L733.8,586.2L738.8,587.5L743.8,585.0L746.2,580.0L750.0,577.5L751.2,582.5L748.8,588.8L753.8,591.2L758.8,588.8L763.8,591.2L767.5,593.8L765.0,597.5L760.0,596.2L756.2,600.0L752.5,603.8L747.5,601.2L742.5,598.8L737.5,601.2L732.5,600.0L727.5,602.5L723.8,600.0L721.2,596.2 M735.0,582.5L737.5,590.0L735.0,596.2 M747.5,586.2L750.0,593.8L747.5,600.0 M727.5,606.2L732.5,605.0L737.5,607.5L740.0,612.5L736.2,616.2L731.2,615.0L728.8,618.8L733.8,622.5L738.8,623.8L736.2,628.8L737.5,633.8L733.8,637.5L728.8,638.8L725.0,641.2 M725.0,641.2L725.0,646.2L727.5,651.2L730.0,657.5L732.5,662.5L731.2,667.5L735.0,671.2L737.5,676.2L733.8,678.8L730.0,676.2L726.2,673.8L721.2,675.0L717.5,678.8L715.0,683.8L711.2,687.5L707.5,690.0L705.0,691.2 M730.0,653.8L735.0,652.5L737.5,660.0L733.8,661.2 M705.0,670.0L708.8,675.0L706.2,680.0L710.0,685.0L707.5,692.5L705.0,697.5" fill="none" stroke="#1e3cff" stroke-width="2" stroke-linejoin="round" stroke-linecap="round"/><path d="M795.5,456.2L799.1,451.5L801.5,446.8L807.5,449.6L803.9,451.5L801.5,456.2Z M812.5,441.2L814.0,439.0L815.0,436.8L817.5,438.1L816.0,439.0L815.0,441.2Z M822.5,452.5L824.4,450.0L825.6,447.5L828.8,449.0L826.9,450.0L825.6,452.5Z M766.2,463.8L767.4,460.2L768.1,456.8L770.0,458.9L768.9,460.2L768.1,463.8Z M784.5,458.0L785.2,456.8L785.8,455.5L787.0,456.2L786.2,456.8L785.8,458.0Z M812.5,499.2L814.4,498.0L815.6,496.8L818.8,497.5L816.9,498.0L815.6,499.2Z M821.8,506.2L822.5,505.0L823.0,503.8L824.2,504.5L823.5,505.0L823.0,506.2Z M800.0,497.5L800.8,496.5L801.2,495.5L802.5,496.1L801.8,496.5L801.2,497.5Z M776.2,573.8L777.8,571.2L778.8,568.8L781.2,570.2L779.8,571.2L778.8,573.8Z M758.8,488.8L759.9,486.9L760.6,485.0L762.5,486.1L761.4,486.9L760.6,488.8Z M745.0,640.0L746.5,638.1L747.5,636.2L750.0,637.4L748.5,638.1L747.5,640.0Z M751.2,636.2L752.8,633.1L753.8,630.0L756.2,631.9L754.8,633.1L753.8,636.2Z M753.8,660.0L754.9,658.1L755.6,656.2L757.5,657.4L756.4,658.1L755.6,660.0Z M723.8,697.5L724.9,696.0L725.6,694.5L727.5,695.4L726.4,696.0L725.6,697.5Z M756.2,638.0L757.0,637.1L757.5,636.2L758.8,636.8L758.0,637.1L757.5,638.0Z" fill="#1e3cff" stroke="#1e3cff" stroke-width="0.8"/>
<path d="M251.4,65.2L244.0,80.6M244.0,80.6L248.3,77.2M244.0,80.6L244.0,75.1 M285.1,65.2L273.1,76.6M273.1,76.6L278.3,74.9M273.1,76.6L275.0,71.4 M318.7,65.2L306.7,74.2M306.7,74.2L312.1,73.2M306.7,74.2L309.2,69.3 M352.4,65.2L335.4,65.6M335.4,65.6L340.4,67.9M335.4,65.6L340.3,63.1 M386.0,65.2L355.0,62.2M355.0,62.2L359.7,65.1M355.0,62.2L360.2,60.3 M419.7,65.2L391.5,70.2M391.5,70.2L396.8,71.7M391.5,70.2L395.9,67.0 M453.4,65.2L434.6,76.7M434.6,76.7L440.1,76.2M434.6,76.7L437.6,72.1 M487.0,65.2L461.5,79.2M461.5,79.2L467.0,78.9M461.5,79.2L464.7,74.7 M520.7,65.2L490.4,80.0M490.4,80.0L495.9,80.0M490.4,80.0L493.8,75.6 M554.3,65.2L511.6,79.2M511.6,79.2L517.0,80.0M511.6,79.2L515.5,75.4 M588.0,65.2L545.2,78.2M545.2,78.2L550.7,79.1M545.2,78.2L549.3,74.5 M621.7,65.2L583.7,76.7M583.7,76.7L589.1,77.6M583.7,76.7L587.7,73.0 M655.3,65.2L621.6,78.2M621.6,78.2L627.0,78.7M621.6,78.2L625.3,74.2 M689.0,65.2L661.5,78.2M661.5,78.2L667.0,78.3M661.5,78.2L664.9,73.9 M722.6,65.2L700.6,76.7M700.6,76.7L706.1,76.5M700.6,76.7L703.9,72.3 M756.3,65.2L735.5,77.5M735.5,77.5L741.0,77.0M735.5,77.5L738.6,72.9 M790.0,65.2L780.0,79.2M780.0,79.2L784.8,76.6M780.0,79.2L780.9,73.8 M823.6,65.2L826.6,80.0M826.6,80.0L828.0,74.6M826.6,80.0L823.3,75.6 M857.3,65.2L865.3,76.7M865.3,76.7L864.4,71.3M865.3,76.7L860.5,74.0 M251.4,105.5L239.0,119.9M239.0,119.9L244.1,117.7M239.0,119.9L240.4,114.6 M285.1,105.5L270.1,113.9M270.1,113.9L275.6,113.6M270.1,113.9L273.2,109.4 M318.7,105.5L300.7,108.5M300.7,108.5L306.0,110.1M300.7,108.5L305.2,105.3 M352.4,105.5L328.4,106.3M328.4,106.3L333.4,108.6M328.4,106.3L333.2,103.7 M386.0,105.5L360.8,109.3M360.8,109.3L366.1,111.0M360.8,109.3L365.4,106.2 M419.7,105.5L402.7,119.9M402.7,119.9L408.0,118.6M402.7,119.9L404.9,114.9 M453.4,105.5L452.9,114.3M452.9,114.3L455.5,109.5M452.9,114.3L450.7,109.2 M487.0,105.5L460.0,97.5M460.0,97.5L464.1,101.2M460.0,97.5L465.4,96.6 M520.7,105.5L494.4,102.0M494.4,102.0L499.0,105.1M494.4,102.0L499.6,100.3 M554.3,105.5L523.6,105.0M523.6,105.0L528.5,107.5M523.6,105.0L528.6,102.7 M588.0,105.5L552.2,105.5M552.2,105.5L557.2,107.9M552.2,105.5L557.2,103.1 M621.7,105.5L583.7,112.0M583.7,112.0L588.9,113.6M583.7,112.0L588.1,108.8 M655.3,105.5L622.3,117.0M622.3,117.0L627.8,117.7M622.3,117.0L626.2,113.1 M689.0,105.5L653.0,118.3M653.0,118.3L658.4,118.9M653.0,118.3L656.8,114.3 M722.6,105.5L690.6,120.0M690.6,120.0L696.1,120.2M690.6,120.0L694.1,115.8 M756.3,105.5L726.3,123.3M726.3,123.3L731.8,122.8M726.3,123.3L729.3,118.7 M790.0,105.5L772.0,128.3M772.0,128.3L776.9,125.9M772.0,128.3L773.1,122.9 M823.6,105.5L813.4,127.5M813.4,127.5L817.6,124.1M813.4,127.5L813.3,122.0 M857.3,105.5L852.0,126.3M852.0,126.3L855.6,122.1M852.0,126.3L850.9,120.9 M251.4,145.8L239.0,157.2M239.0,157.2L244.3,155.7M239.0,157.2L241.0,152.1 M285.1,145.8L276.1,155.2M276.1,155.2L281.2,153.3M276.1,155.2L277.7,150.0 M318.7,145.8L306.7,150.2M306.7,150.2L312.2,150.8M306.7,150.2L310.5,146.3 M352.4,145.8L338.4,150.8M338.4,150.8L343.8,151.4M338.4,150.8L342.2,146.9 M386.0,145.8L374.0,154.2M374.0,154.2L379.5,153.4M374.0,154.2L376.7,149.4 M419.7,145.8L414.7,147.8M414.7,147.8L420.2,148.2M414.7,147.8L418.4,143.8 M453.4,145.8L434.6,135.8M434.6,135.8L437.8,140.3M434.6,135.8L440.1,136.0 M487.0,145.8L463.3,138.3M463.3,138.3L467.3,142.1M463.3,138.3L468.7,137.5 M520.7,145.8L495.4,139.8M495.4,139.8L499.7,143.3M495.4,139.8L500.8,138.6 M554.3,145.8L529.8,144.1M529.8,144.1L534.6,146.8M529.8,144.1L534.9,142.0 M588.0,145.8L566.5,148.6M566.5,148.6L571.7,150.4M566.5,148.6L571.1,145.6 M621.7,145.8L595.4,142.8M595.4,142.8L600.0,145.8M595.4,142.8L600.6,141.0 M655.3,145.8L619.3,143.3M619.3,143.3L624.1,146.1M619.3,143.3L624.4,141.3 M689.0,145.8L655.2,148.3M655.2,148.3L660.3,150.4M655.2,148.3L660.0,145.6 M722.6,145.8L692.6,153.3M692.6,153.3L698.0,154.5M692.6,153.3L696.9,149.8 M756.3,145.8L732.5,160.8M732.5,160.8L738.0,160.2M732.5,160.8L735.4,156.2 M790.0,145.8L772.0,163.6M772.0,163.6L777.2,161.8M772.0,163.6L773.8,158.4 M823.6,145.8L810.4,163.6M810.4,163.6L815.3,161.1M810.4,163.6L811.4,158.2 M857.3,145.8L849.0,162.8M849.0,162.8L853.4,159.4M849.0,162.8L849.0,157.3 M251.4,186.2L242.0,191.6M242.0,191.6L247.5,191.2M242.0,191.6L245.1,187.0 M285.1,186.2L279.1,186.8M279.1,186.8L284.2,188.7M279.1,186.8L283.7,183.9 M318.7,186.2L313.7,186.2M313.7,186.2L318.7,188.6M313.7,186.2L318.7,183.7 M352.4,186.2L349.2,185.2M349.2,185.2L353.2,188.9M349.2,185.2L354.6,184.3 M386.0,186.2L384.8,184.6M384.8,184.6L385.9,190.0M384.8,184.6L389.7,187.1 M419.7,186.2L410.1,176.0M410.1,176.0L411.7,181.2M410.1,176.0L415.2,177.9 M453.4,186.2L435.9,177.7M435.9,177.7L439.3,182.0M435.9,177.7L441.4,177.7 M487.0,186.2L467.0,180.7M467.0,180.7L471.1,184.3M467.0,180.7L472.4,179.6 M520.7,186.2L501.2,181.9M501.2,181.9L505.5,185.3M501.2,181.9L506.5,180.6 M554.3,186.2L534.1,180.7M534.1,180.7L538.2,184.3M534.1,180.7L539.5,179.6 M588.0,186.2L564.2,181.4M564.2,181.4L568.6,184.7M564.2,181.4L569.6,180.0 M621.7,186.2L597.4,182.4M597.4,182.4L601.9,185.5M597.4,182.4L602.7,180.8 M655.3,186.2L625.3,185.7M625.3,185.7L630.2,188.2M625.3,185.7L630.3,183.3 M689.0,186.2L659.0,188.2M659.0,188.2L664.1,190.2M659.0,188.2L663.8,185.4 M722.6,186.2L696.4,191.7M696.4,191.7L701.7,193.0M696.4,191.7L700.7,188.3 M756.3,186.2L733.8,192.9M733.8,192.9L739.2,193.8M733.8,192.9L737.8,189.2 M790.0,186.2L769.5,192.9M769.5,192.9L774.9,193.7M769.5,192.9L773.4,189.1 M823.6,186.2L807.9,191.2M807.9,191.2L813.3,192.0M807.9,191.2L811.9,187.4 M857.3,186.2L845.8,190.4M845.8,190.4L851.3,191.0M845.8,190.4L849.6,186.4 M251.4,226.5L246.2,232.2M246.2,232.2L251.3,230.2M246.2,232.2L247.7,227.0 M285.1,226.5L284.1,231.5M284.1,231.5L287.4,227.1M284.1,231.5L282.7,226.2 M318.7,226.5L318.0,224.0M318.0,224.0L317.1,229.4M318.0,224.0L321.7,228.0 M352.4,226.5L355.9,213.2M355.9,213.2L352.3,217.4M355.9,213.2L356.9,218.6 M386.0,226.5L384.3,212.0M384.3,212.0L382.5,217.2M384.3,212.0L387.3,216.6 M419.7,226.5L413.4,213.0M413.4,213.0L413.3,218.5M413.4,213.0L417.7,216.5 M453.4,226.5L442.1,214.5M442.1,214.5L443.7,219.7M442.1,214.5L447.2,216.4 M487.0,226.5L476.0,218.0M476.0,218.0L478.5,222.9M476.0,218.0L481.4,219.1 M520.7,226.5L505.2,218.0M505.2,218.0L508.4,222.5M505.2,218.0L510.7,218.2 M554.3,226.5L538.1,221.7M538.1,221.7L542.2,225.4M538.1,221.7L543.5,220.8 M588.0,226.5L569.2,221.2M569.2,221.2L573.4,224.9M569.2,221.2L574.7,220.2 M621.7,226.5L602.7,226.2M602.7,226.2L607.6,228.7M602.7,226.2L607.6,223.9 M655.3,226.5L632.8,226.2M632.8,226.2L637.7,228.7M632.8,226.2L637.8,223.9 M689.0,226.5L662.7,226.2M662.7,226.2L667.7,228.7M662.7,226.2L667.7,223.9 M722.6,226.5L693.4,226.2M693.4,226.2L698.3,228.7M693.4,226.2L698.4,223.9 M756.3,226.5L728.8,226.2M728.8,226.2L733.7,228.7M728.8,226.2L733.8,223.9 M790.0,226.5L766.2,228.5M766.2,228.5L771.3,230.5M766.2,228.5L770.9,225.7 M823.6,226.5L803.6,229.0M803.6,229.0L808.8,230.8M803.6,229.0L808.2,226.0 M857.3,226.5L839.8,229.5M839.8,229.5L845.1,231.0M839.8,229.5L844.2,226.3 M251.4,266.8L253.7,274.3M253.7,274.3L254.5,268.9M253.7,274.3L249.9,270.3 M285.1,266.8L291.8,265.6M291.8,265.6L286.5,264.1M291.8,265.6L287.4,268.8 M318.7,266.8L321.7,253.6M321.7,253.6L318.3,257.8M321.7,253.6L323.0,258.9 M352.4,266.8L352.4,250.6M352.4,250.6L350.0,255.5M352.4,250.6L354.8,255.5 M386.0,266.8L384.3,248.6M384.3,248.6L382.4,253.7M384.3,248.6L387.2,253.2 M419.7,266.8L416.4,248.6M416.4,248.6L414.9,253.8M416.4,248.6L419.7,253.0 M453.4,266.8L446.9,254.3M446.9,254.3L447.0,259.8M446.9,254.3L451.3,257.6 M487.0,266.8L477.8,256.1M477.8,256.1L479.2,261.4M477.8,256.1L482.8,258.2 M520.7,266.8L508.9,258.8M508.9,258.8L511.7,263.6M508.9,258.8L514.4,259.6 M554.3,266.8L539.3,261.3M539.3,261.3L543.2,265.3M539.3,261.3L544.8,260.7 M588.0,266.8L572.5,262.6M572.5,262.6L576.6,266.2M572.5,262.6L577.9,261.5 M621.7,266.8L607.7,263.3M607.7,263.3L611.9,266.8M607.7,263.3L613.0,262.2 M655.3,266.8L642.8,263.1M642.8,263.1L646.9,266.8M642.8,263.1L648.2,262.2 M689.0,266.8L669.0,262.6M669.0,262.6L673.3,265.9M669.0,262.6L674.3,261.2 M722.6,266.8L706.4,260.1M706.4,260.1L710.0,264.2M706.4,260.1L711.9,259.7 M756.3,266.8L742.0,256.8M742.0,256.8L744.7,261.6M742.0,256.8L747.5,257.7 M790.0,266.8L774.2,255.1M774.2,255.1L776.7,259.9M774.2,255.1L779.6,256.1 M823.6,266.8L806.6,256.3M806.6,256.3L809.6,260.9M806.6,256.3L812.1,256.8 M857.3,266.8L842.8,262.6M842.8,262.6L846.8,266.3M842.8,262.6L848.2,261.6 M217.7,307.1L224.7,312.1M224.7,312.1L222.1,307.3M224.7,312.1L219.3,311.2 M251.4,307.1L258.6,310.4M258.6,310.4L255.1,306.1M258.6,310.4L253.2,310.5 M285.1,307.1L293.3,304.9M293.3,304.9L287.9,303.8M293.3,304.9L289.2,308.5 M318.7,307.1L323.7,299.1M323.7,299.1L319.1,302.0M323.7,299.1L323.1,304.6 M352.4,307.1L350.1,293.4M350.1,293.4L348.5,298.6M350.1,293.4L353.3,297.9 M386.0,307.1L380.8,292.6M380.8,292.6L380.2,298.1M380.8,292.6L384.7,296.4 M419.7,307.1L414.7,294.6M414.7,294.6L414.3,300.1M414.7,294.6L418.8,298.3 M453.4,307.1L446.9,296.6M446.9,296.6L447.4,302.1M446.9,296.6L451.5,299.6 M487.0,307.1L481.0,301.6M481.0,301.6L483.0,306.7M481.0,301.6L486.3,303.2 M520.7,307.1L511.4,297.6M511.4,297.6L513.2,302.8M511.4,297.6L516.6,299.5 M554.3,307.1L542.6,300.9M542.6,300.9L545.8,305.3M542.6,300.9L548.1,301.1 M588.0,307.1L574.5,302.1M574.5,302.1L578.3,306.1M574.5,302.1L580.0,301.6 M621.7,307.1L610.9,302.9M610.9,302.9L614.6,306.9M610.9,302.9L616.4,302.4 M655.3,307.1L649.1,302.1M649.1,302.1L651.4,307.1M649.1,302.1L654.4,303.3 M689.0,307.1L684.0,297.1M684.0,297.1L684.0,302.6M684.0,297.1L688.3,300.5 M722.6,307.1L712.6,300.1M712.6,300.1L715.3,304.9M712.6,300.1L718.1,301.0 M756.3,307.1L748.8,288.4M748.8,288.4L748.4,293.9M748.8,288.4L752.9,292.1 M790.0,307.1L783.0,289.1M783.0,289.1L782.5,294.6M783.0,289.1L787.0,292.9 M823.6,307.1L815.9,294.1M815.9,294.1L816.3,299.6M815.9,294.1L820.5,297.1 M857.3,307.1L852.0,297.9M852.0,297.9L852.4,303.4M852.0,297.9L856.6,301.0 M217.7,347.4L223.5,352.4M223.5,352.4L221.3,347.4M223.5,352.4L218.2,351.0 M251.4,347.4L260.6,351.9M260.6,351.9L257.3,347.6M260.6,351.9L255.2,351.9 M285.1,347.4L293.1,350.4M293.1,350.4L289.3,346.4M293.1,350.4L287.6,351.0 M318.7,347.4L321.2,348.7M321.2,348.7L317.9,344.3M321.2,348.7L315.7,348.6 M352.4,347.4L347.1,339.9M347.1,339.9L348.0,345.4M347.1,339.9L351.9,342.6 M386.0,347.4L379.3,339.9M379.3,339.9L380.8,345.2M379.3,339.9L384.4,342.0 M419.7,347.4L414.7,341.2M414.7,341.2L415.9,346.6M414.7,341.2L419.7,343.5 M453.4,347.4L446.4,344.9M446.4,344.9L450.2,348.9M446.4,344.9L451.8,344.3 M487.0,347.4L480.3,345.4M480.3,345.4L484.3,349.2M480.3,345.4L485.7,344.5 M520.7,347.4L513.2,342.4M513.2,342.4L516.0,347.2M513.2,342.4L518.6,343.2 M554.3,347.4L546.3,342.4M546.3,342.4L549.3,347.1M546.3,342.4L551.8,343.0 M588.0,347.4L579.2,338.9M579.2,338.9L581.1,344.1M579.2,338.9L584.5,340.7 M621.7,347.4L617.7,336.9M617.7,336.9L617.2,342.4M617.7,336.9L621.7,340.7 M655.3,347.4L654.8,335.7M654.8,335.7L652.6,340.7M654.8,335.7L657.4,340.5 M689.0,347.4L687.2,336.2M687.2,336.2L685.6,341.4M687.2,336.2L690.4,340.7 M722.6,347.4L724.6,331.2M724.6,331.2L721.6,335.8M724.6,331.2L726.4,336.4 M756.3,347.4L755.0,324.9M755.0,324.9L752.9,330.0M755.0,324.9L757.7,329.7 M790.0,347.4L788.7,325.7M788.7,325.7L786.6,330.8M788.7,325.7L791.4,330.5 M823.6,347.4L822.9,328.7M822.9,328.7L820.7,333.7M822.9,328.7L825.5,333.5 M857.3,347.4L852.3,336.4M852.3,336.4L852.1,341.9M852.3,336.4L856.5,339.9 M251.4,387.8L253.2,369.0M253.2,369.0L250.3,373.7M253.2,369.0L255.1,374.2 M285.1,387.8L293.3,369.0M293.3,369.0L289.1,372.6M293.3,369.0L293.5,374.5 M318.7,387.8L324.2,382.8M324.2,382.8L318.9,384.3M324.2,382.8L322.2,387.9 M352.4,387.8L352.9,384.0M352.9,384.0L349.8,388.6M352.9,384.0L354.6,389.2 M386.0,387.8L383.8,382.3M383.8,382.3L383.4,387.7M383.8,382.3L387.9,385.9 M419.7,387.8L418.9,383.3M418.9,383.3L417.4,388.5M418.9,383.3L422.1,387.7 M453.4,387.8L452.9,383.5M452.9,383.5L451.0,388.7M452.9,383.5L455.8,388.1 M487.0,387.8L486.0,378.5M486.0,378.5L484.2,383.7M486.0,378.5L488.9,383.2 M520.7,387.8L518.9,382.3M518.9,382.3L518.1,387.7M518.9,382.3L522.7,386.2 M554.3,387.8L554.3,379.8M554.3,379.8L551.9,384.7M554.3,379.8L556.8,384.7 M588.0,387.8L582.0,381.0M582.0,381.0L583.5,386.3M582.0,381.0L587.1,383.1 M621.7,387.8L614.4,374.3M614.4,374.3L614.6,379.8M614.4,374.3L618.9,377.5 M655.3,387.8L653.6,374.0M653.6,374.0L651.8,379.2M653.6,374.0L656.6,378.6 M689.0,387.8L689.5,369.0M689.5,369.0L686.9,373.9M689.5,369.0L691.8,374.0 M722.6,387.8L723.9,374.0M723.9,374.0L721.0,378.7M723.9,374.0L725.8,379.2 M756.3,387.8L755.0,363.5M755.0,363.5L752.9,368.6M755.0,363.5L757.7,368.3 M790.0,387.8L789.5,362.3M789.5,362.3L787.1,367.2M789.5,362.3L792.0,367.2 M823.6,387.8L827.9,366.5M827.9,366.5L824.5,370.9M827.9,366.5L829.3,371.8 M857.3,387.8L863.5,372.3M863.5,372.3L859.4,375.9M863.5,372.3L863.9,377.7 M251.4,428.1L245.4,419.8M245.4,419.8L246.4,425.2M245.4,419.8L250.3,422.4 M285.1,428.1L280.1,412.3M280.1,412.3L279.3,417.8M280.1,412.3L283.9,416.3 M318.7,428.1L323.0,412.3M323.0,412.3L319.4,416.5M323.0,412.3L324.0,417.7 M352.4,428.1L357.6,415.3M357.6,415.3L353.5,419.0M357.6,415.3L358.0,420.8 M386.0,428.1L390.0,422.3M390.0,422.3L385.2,425.0M390.0,422.3L389.2,427.8 M419.7,428.1L426.4,416.8M426.4,416.8L421.8,419.8M426.4,416.8L426.0,422.3 M453.4,428.1L457.6,418.6M457.6,418.6L453.4,422.1M457.6,418.6L457.8,424.1 M487.0,428.1L492.8,417.8M492.8,417.8L488.2,421.0M492.8,417.8L492.5,423.3 M520.7,428.1L525.7,424.8M525.7,424.8L520.2,425.5M525.7,424.8L522.8,429.5 M554.3,428.1L557.6,420.3M557.6,420.3L553.5,424.0M557.6,420.3L557.9,425.8 M588.0,428.1L591.8,426.8M591.8,426.8L586.3,426.1M591.8,426.8L587.8,430.7 M621.7,428.1L620.2,412.3M620.2,412.3L618.2,417.5M620.2,412.3L623.0,417.0 M655.3,428.1L655.3,411.1M655.3,411.1L652.9,416.0M655.3,411.1L657.7,416.0 M689.0,428.1L689.0,409.8M689.0,409.8L686.6,414.8M689.0,409.8L691.4,414.8 M722.6,428.1L723.1,409.8M723.1,409.8L720.6,414.7M723.1,409.8L725.4,414.8 M756.3,428.1L760.0,399.8M760.0,399.8L757.0,404.4M760.0,399.8L761.8,405.0 M790.0,428.1L792.0,402.8M792.0,402.8L789.2,407.6M792.0,402.8L794.0,407.9 M823.6,428.1L826.6,404.3M826.6,404.3L823.6,408.9M826.6,404.3L828.4,409.5 M857.3,428.1L863.5,408.6M863.5,408.6L859.7,412.6M863.5,408.6L864.3,414.0 M251.4,468.4L241.9,449.1M241.9,449.1L241.9,454.6M241.9,449.1L246.2,452.5 M285.1,468.4L279.6,460.9M279.6,460.9L280.5,466.3M279.6,460.9L284.4,463.5 M318.7,468.4L315.0,464.6M315.0,464.6L316.8,469.9M315.0,464.6L320.2,466.4 M352.4,468.4L352.6,463.4M352.6,463.4L350.0,468.2M352.6,463.4L354.8,468.5 M386.0,468.4L391.3,462.1M391.3,462.1L386.3,464.4M391.3,462.1L390.0,467.5 M419.7,468.4L422.7,452.1M422.7,452.1L419.4,456.6M422.7,452.1L424.2,457.4 M453.4,468.4L458.4,452.1M458.4,452.1L454.6,456.2M458.4,452.1L459.2,457.6 M487.0,468.4L487.0,453.4M487.0,453.4L484.6,458.3M487.0,453.4L489.4,458.3 M520.7,468.4L533.9,454.1M533.9,454.1L528.8,456.1M533.9,454.1L532.3,459.4 M554.3,468.4L561.3,458.4M561.3,458.4L556.5,461.1M561.3,458.4L560.5,463.8 M588.0,468.4L592.0,463.4M592.0,463.4L587.0,465.8M592.0,463.4L590.8,468.8 M621.7,468.4L625.2,452.6M625.2,452.6L621.7,457.0M625.2,452.6L626.4,458.0 M655.3,468.4L657.3,450.1M657.3,450.1L654.4,454.8M657.3,450.1L659.2,455.3 M689.0,468.4L687.2,451.6M687.2,451.6L685.3,456.8M687.2,451.6L690.1,456.3 M722.6,468.4L715.9,445.9M715.9,445.9L715.0,451.3M715.9,445.9L719.6,449.9 M756.3,468.4L757.5,440.1M757.5,440.1L754.9,445.0M757.5,440.1L759.7,445.2 M790.0,468.4L790.7,445.9M790.7,445.9L788.1,450.8M790.7,445.9L793.0,450.9 M823.6,468.4L825.4,444.6M825.4,444.6L822.6,449.4M825.4,444.6L827.4,449.8 M857.3,468.4L862.8,449.1M862.8,449.1L859.1,453.2M862.8,449.1L863.7,454.6 M251.4,508.7L236.7,495.0M236.7,495.0L238.6,500.1M236.7,495.0L241.9,496.6 M285.1,508.7L274.3,507.0M274.3,507.0L278.8,510.1M274.3,507.0L279.6,505.4 M318.7,508.7L313.2,508.2M313.2,508.2L317.9,511.1M313.2,508.2L318.4,506.3 M352.4,508.7L351.4,493.7M351.4,493.7L349.3,498.8M351.4,493.7L354.1,498.5 M386.0,508.7L380.8,488.0M380.8,488.0L379.7,493.4M380.8,488.0L384.3,492.2 M419.7,508.7L422.7,488.0M422.7,488.0L419.6,492.5M422.7,488.0L424.4,493.2 M453.4,508.7L458.4,490.7M458.4,490.7L454.7,494.8M458.4,490.7L459.4,496.1 M487.0,508.7L488.5,496.7M488.5,496.7L485.5,501.3M488.5,496.7L490.3,501.9 M520.7,508.7L533.9,499.2M533.9,499.2L528.5,500.1M533.9,499.2L531.3,504.1 M554.3,508.7L560.8,501.2M560.8,501.2L555.8,503.4M560.8,501.2L559.4,506.5 M588.0,508.7L598.8,502.0M598.8,502.0L593.3,502.6M598.8,502.0L595.8,506.6 M621.7,508.7L630.9,499.5M630.9,499.5L625.7,501.3M630.9,499.5L629.1,504.7 M655.3,508.7L664.8,494.5M664.8,494.5L660.1,497.2M664.8,494.5L664.1,499.9 M689.0,508.7L697.7,495.0M697.7,495.0L693.0,497.8M697.7,495.0L697.1,500.4 M722.6,508.7L720.1,491.2M720.1,491.2L718.5,496.5M720.1,491.2L723.2,495.8 M756.3,508.7L755.0,486.2M755.0,486.2L752.9,491.3M755.0,486.2L757.7,491.0 M790.0,508.7L791.2,483.7M791.2,483.7L788.6,488.5M791.2,483.7L793.4,488.8 M823.6,508.7L823.6,488.0M823.6,488.0L821.2,492.9M823.6,488.0L826.0,492.9 M857.3,508.7L862.8,489.5M862.8,489.5L859.1,493.6M862.8,489.5L863.7,494.9 M251.4,549.0L246.9,533.5M246.9,533.5L246.0,539.0M246.9,533.5L250.6,537.6 M285.1,549.0L284.3,536.0M284.3,536.0L282.2,541.1M284.3,536.0L287.0,540.8 M318.7,549.0L317.0,532.8M317.0,532.8L315.1,538.0M317.0,532.8L319.9,537.4 M352.4,549.0L348.4,530.3M348.4,530.3L347.1,535.6M348.4,530.3L351.8,534.6 M386.0,549.0L386.0,534.8M386.0,534.8L383.6,539.7M386.0,534.8L388.5,539.7 M419.7,549.0L423.9,532.3M423.9,532.3L420.4,536.5M423.9,532.3L425.1,537.7 M453.4,549.0L464.4,529.8M464.4,529.8L459.8,532.9M464.4,529.8L464.0,535.3 M487.0,549.0L502.8,541.0M502.8,541.0L497.3,541.1M502.8,541.0L499.5,545.4 M520.7,549.0L527.7,545.3M527.7,545.3L522.2,545.5M527.7,545.3L524.5,549.7 M554.3,549.0L563.8,542.8M563.8,542.8L558.4,543.5M563.8,542.8L561.0,547.5 M588.0,549.0L601.2,538.5M601.2,538.5L595.9,539.7M601.2,538.5L598.9,543.5 M621.7,549.0L629.7,533.0M629.7,533.0L625.3,536.4M629.7,533.0L629.6,538.5 M655.3,549.0L661.6,531.8M661.6,531.8L657.6,535.6M661.6,531.8L662.2,537.3 M689.0,549.0L696.0,530.3M696.0,530.3L692.0,534.1M696.0,530.3L696.5,535.8 M722.6,549.0L722.6,527.3M722.6,527.3L720.2,532.2M722.6,527.3L725.1,532.2 M756.3,549.0L755.8,531.0M755.8,531.0L753.5,536.0M755.8,531.0L758.3,535.9 M790.0,549.0L790.0,526.0M790.0,526.0L787.5,531.0M790.0,526.0L792.4,531.0 M823.6,549.0L824.1,528.5M824.1,528.5L821.6,533.4M824.1,528.5L826.4,533.5 M857.3,549.0L856.5,527.3M856.5,527.3L854.3,532.3M856.5,527.3L859.1,532.1 M217.7,589.4L226.0,581.4M226.0,581.4L220.8,583.1M226.0,581.4L224.1,586.5 M251.4,589.4L249.9,568.9M249.9,568.9L247.9,574.0M249.9,568.9L252.7,573.6 M285.1,589.4L287.6,576.4M287.6,576.4L284.3,580.8M287.6,576.4L289.0,581.7 M318.7,589.4L326.2,578.9M326.2,578.9L321.4,581.5M326.2,578.9L325.3,584.3 M352.4,589.4L372.6,571.4M372.6,571.4L367.3,572.8M372.6,571.4L370.5,576.4 M386.0,589.4L404.3,572.1M404.3,572.1L399.0,573.8M404.3,572.1L402.4,577.3 M419.7,589.4L432.7,576.4M432.7,576.4L427.5,578.2M432.7,576.4L430.9,581.6 M453.4,589.4L468.9,579.6M468.9,579.6L463.4,580.2M468.9,579.6L466.0,584.3 M487.0,589.4L497.8,580.1M497.8,580.1L492.5,581.5M497.8,580.1L495.6,585.2 M520.7,589.4L540.7,580.1M540.7,580.1L535.2,580.0M540.7,580.1L537.2,584.4 M554.3,589.4L559.6,585.6M559.6,585.6L554.2,586.5M559.6,585.6L557.0,590.4 M588.0,589.4L597.5,585.9M597.5,585.9L592.0,585.3M597.5,585.9L593.7,589.8 M621.7,589.4L627.2,577.1M627.2,577.1L622.9,580.6M627.2,577.1L627.3,582.6 M655.3,589.4L664.8,576.4M664.8,576.4L660.0,578.9M664.8,576.4L663.8,581.8 M689.0,589.4L687.7,573.9M687.7,573.9L685.7,579.0M687.7,573.9L690.5,578.6 M722.6,589.4L726.4,577.1M726.4,577.1L722.6,581.1M726.4,577.1L727.2,582.5 M756.3,589.4L760.0,571.4M760.0,571.4L756.7,575.7M760.0,571.4L761.4,576.7 M790.0,589.4L790.0,566.9M790.0,566.9L787.5,571.8M790.0,566.9L792.4,571.8 M823.6,589.4L823.6,571.4M823.6,571.4L821.2,576.3M823.6,571.4L826.0,576.3 M857.3,589.4L854.8,575.1M854.8,575.1L853.3,580.4M854.8,575.1L858.0,579.6 M251.4,629.7L259.4,613.9M259.4,613.9L255.0,617.2M259.4,613.9L259.3,619.4 M285.1,629.7L304.6,608.2M304.6,608.2L299.5,610.2M304.6,608.2L303.0,613.5 M318.7,629.7L337.5,607.2M337.5,607.2L332.5,609.4M337.5,607.2L336.2,612.5 M352.4,629.7L369.6,607.2M369.6,607.2L364.7,609.6M369.6,607.2L368.5,612.6 M386.0,629.7L404.3,607.2M404.3,607.2L399.3,609.5M404.3,607.2L403.0,612.5 M419.7,629.7L431.4,613.2M431.4,613.2L426.6,615.8M431.4,613.2L430.5,618.6 M453.4,629.7L473.9,619.7M473.9,619.7L468.4,619.7M473.9,619.7L470.5,624.0 M487.0,629.7L499.8,618.2M499.8,618.2L494.5,619.7M499.8,618.2L497.7,623.3 M520.7,629.7L542.2,624.4M542.2,624.4L536.8,623.3M542.2,624.4L537.9,627.9 M554.3,629.7L573.3,632.2M573.3,632.2L568.8,629.1M573.3,632.2L568.1,633.9 M588.0,629.7L598.2,628.9M598.2,628.9L593.1,626.9M598.2,628.9L593.5,631.7 M621.7,629.7L628.4,617.2M628.4,617.2L623.9,620.4M628.4,617.2L628.2,622.7 M655.3,629.7L656.6,622.2M656.6,622.2L653.4,626.7M656.6,622.2L658.1,627.5 M689.0,629.7L687.7,618.9M687.7,618.9L685.9,624.1M687.7,618.9L690.7,623.6 M722.6,629.7L720.1,617.2M720.1,617.2L718.7,622.5M720.1,617.2L723.5,621.6 M756.3,629.7L753.3,610.2M753.3,610.2L751.7,615.4M753.3,610.2L756.4,614.7 M790.0,629.7L787.5,610.9M787.5,610.9L785.7,616.1M787.5,610.9L790.5,615.5 M823.6,629.7L824.1,612.7M824.1,612.7L821.6,617.6M824.1,612.7L826.4,617.7 M857.3,629.7L854.8,618.9M854.8,618.9L853.6,624.3M854.8,618.9L858.2,623.2 M217.7,670.0L225.5,655.0M225.5,655.0L221.1,658.3M225.5,655.0L225.4,660.5 M251.4,670.0L265.4,646.2M265.4,646.2L260.8,649.3M265.4,646.2L265.0,651.7 M285.1,670.0L298.3,651.2M298.3,651.2L293.5,653.9M298.3,651.2L297.4,656.7 M318.7,670.0L328.0,651.2M328.0,651.2L323.6,654.6M328.0,651.2L327.9,656.7 M352.4,670.0L363.4,650.0M363.4,650.0L358.9,653.2M363.4,650.0L363.1,655.5 M386.0,670.0L400.0,652.5M400.0,652.5L395.1,654.9M400.0,652.5L398.8,657.9 M419.7,670.0L436.4,660.0M436.4,660.0L431.0,660.5M436.4,660.0L433.4,664.6 M453.4,670.0L464.6,670.5M464.6,670.5L459.8,667.9M464.6,670.5L459.6,672.7 M487.0,670.0L489.0,660.5M489.0,660.5L485.6,664.8M489.0,660.5L490.4,665.8 M520.7,670.0L538.2,669.2M538.2,669.2L533.1,667.1M538.2,669.2L533.3,671.9 M554.3,670.0L565.8,668.0M565.8,668.0L560.6,666.5M565.8,668.0L561.4,671.2 M588.0,670.0L595.5,663.8M595.5,663.8L590.2,665.1M595.5,663.8L593.2,668.8 M621.7,670.0L625.2,667.0M625.2,667.0L619.8,668.4M625.2,667.0L623.0,672.0 M655.3,670.0L655.8,661.8M655.8,661.8L653.1,666.5M655.8,661.8L657.9,666.8 M689.0,670.0L685.2,657.0M685.2,657.0L684.3,662.4M685.2,657.0L688.9,661.1 M722.6,670.0L715.1,650.0M715.1,650.0L714.6,655.5M715.1,650.0L719.1,653.8 M756.3,670.0L748.8,648.8M748.8,648.8L748.2,654.2M748.8,648.8L752.7,652.6 M790.0,670.0L785.5,651.8M785.5,651.8L784.3,657.1M785.5,651.8L789.0,656.0 M823.6,670.0L824.6,654.5M824.6,654.5L821.9,659.3M824.6,654.5L826.7,659.6 M857.3,670.0L855.3,660.0M855.3,660.0L853.9,665.3M855.3,660.0L858.6,664.4 M217.7,710.3L222.2,687.3M222.2,687.3L218.9,691.7M222.2,687.3L223.7,692.6 M251.4,710.3L257.9,686.1M257.9,686.1L254.3,690.2M257.9,686.1L258.9,691.5 M285.1,710.3L295.1,684.8M295.1,684.8L291.0,688.5M295.1,684.8L295.5,690.3 M318.7,710.3L323.7,695.3M323.7,695.3L319.9,699.2M323.7,695.3L324.4,700.8 M352.4,710.3L352.4,687.8M352.4,687.8L350.0,692.8M352.4,687.8L354.8,692.8 M386.0,710.3L389.5,687.8M389.5,687.8L386.4,692.3M389.5,687.8L391.2,693.1 M419.7,710.3L427.2,695.3M427.2,695.3L422.8,698.7M427.2,695.3L427.1,700.8 M453.4,710.3L453.9,702.8M453.9,702.8L451.1,707.6M453.9,702.8L455.9,707.9 M487.0,710.3L487.0,706.8M487.0,706.8L484.6,711.8M487.0,706.8L489.4,711.8 M520.7,710.3L528.4,702.3M528.4,702.3L523.3,704.2M528.4,702.3L526.7,707.5 M554.3,710.3L572.1,710.3M572.1,710.3L567.1,707.9M572.1,710.3L567.1,712.7 M588.0,710.3L595.8,712.3M595.8,712.3L591.6,708.8M595.8,712.3L590.4,713.4 M621.7,710.3L625.2,711.6M625.2,711.6L621.3,707.6M625.2,711.6L619.7,712.2 M655.3,710.3L656.6,711.6M656.6,711.6L654.8,706.4M656.6,711.6L651.4,709.8 M689.0,710.3L675.2,696.8M675.2,696.8L677.1,702.0M675.2,696.8L680.4,698.6 M722.6,710.3L708.9,689.3M708.9,689.3L709.6,694.8M708.9,689.3L713.6,692.1 M756.3,710.3L746.3,689.3M746.3,689.3L746.2,694.8M746.3,689.3L750.6,692.7 M790.0,710.3L784.5,691.1M784.5,691.1L783.5,696.5M784.5,691.1L788.1,695.2 M823.6,710.3L823.6,692.8M823.6,692.8L821.2,697.8M823.6,692.8L826.0,697.8 M857.3,710.3L859.5,697.8M859.5,697.8L856.3,702.3M859.5,697.8L861.0,703.1 M217.7,750.6L220.5,726.6M220.5,726.6L217.5,731.3M220.5,726.6L222.3,731.8 M251.4,750.6L252.9,729.9M252.9,729.9L250.1,734.6M252.9,729.9L254.9,735.0 M285.1,750.6L291.3,730.9M291.3,730.9L287.5,734.9M291.3,730.9L292.1,736.3 M318.7,750.6L318.7,730.9M318.7,730.9L316.3,735.8M318.7,730.9L321.1,735.8 M352.4,750.6L348.9,734.1M348.9,734.1L347.5,739.5M348.9,734.1L352.3,738.5 M386.0,750.6L390.0,744.9M390.0,744.9L385.2,747.6M390.0,744.9L389.2,750.3 M419.7,750.6L423.9,746.6M423.9,746.6L418.7,748.3M423.9,746.6L422.0,751.8 M453.4,750.6L452.6,747.9M452.6,747.9L451.6,753.3M452.6,747.9L456.2,752.0 M487.0,750.6L491.5,748.4M491.5,748.4L486.0,748.4M491.5,748.4L488.2,752.8 M689.0,750.6L687.7,741.1M687.7,741.1L686.0,746.4M687.7,741.1L690.8,745.7 M722.6,750.6L714.6,724.1M714.6,724.1L713.8,729.6M714.6,724.1L718.4,728.2 M756.3,750.6L745.0,726.6M745.0,726.6L745.0,732.1M745.0,726.6L749.3,730.1 M790.0,750.6L782.7,729.9M782.7,729.9L782.1,735.4M782.7,729.9L786.6,733.8 M823.6,750.6L820.4,733.4M820.4,733.4L818.9,738.7M820.4,733.4L823.7,737.8 M857.3,750.6L859.5,735.9M859.5,735.9L856.4,740.4M859.5,735.9L861.2,741.1" fill="none" stroke="#000" stroke-width="1"/>
<g fill="none" stroke="#7a00dc" stroke-width="1.6"><circle cx="390.0" cy="119.5" r="5.2"/><circle cx="356.8" cy="146.8" r="5.2"/><circle cx="372.5" cy="178.0" r="5.2"/><circle cx="475.8" cy="147.5" r="5.2"/><circle cx="400.8" cy="243.8" r="5.2"/><circle cx="542.0" cy="190.0" r="5.2"/><circle cx="618.0" cy="201.8" r="5.2"/><circle cx="373.0" cy="272.8" r="5.2"/><circle cx="476.2" cy="300.0" r="5.2"/><circle cx="395.5" cy="343.8" r="5.2"/><circle cx="438.2" cy="430.0" r="5.2"/><circle cx="481.2" cy="392.8" r="5.2"/><circle cx="490.0" cy="372.0" r="5.2"/><circle cx="600.0" cy="284.5" r="5.2"/><circle cx="563.0" cy="294.0" r="5.2"/><circle cx="564.2" cy="311.5" r="5.2"/><circle cx="513.0" cy="326.5" r="5.2"/><circle cx="689.5" cy="322.8" r="5.2"/><circle cx="604.0" cy="350.0" r="5.2"/><circle cx="630.5" cy="368.8" r="5.2"/><circle cx="655.8" cy="393.8" r="5.2"/><circle cx="723.0" cy="400.2" r="5.2"/><circle cx="510.8" cy="428.5" r="5.2"/><circle cx="615.5" cy="436.5" r="5.2"/><circle cx="667.0" cy="445.0" r="5.2"/><circle cx="294.5" cy="544.0" r="5.2"/><circle cx="388.8" cy="585.2" r="5.2"/><circle cx="478.8" cy="543.5" r="5.2"/><circle cx="288.0" cy="640.2" r="5.2"/><circle cx="448.2" cy="660.8" r="5.2"/><circle cx="380.5" cy="677.8" r="5.2"/><circle cx="622.5" cy="492.8" r="5.2"/><circle cx="653.0" cy="516.0" r="5.2"/><circle cx="729.2" cy="529.8" r="5.2"/><circle cx="580.0" cy="599.0" r="5.2"/><circle cx="520.5" cy="613.2" r="5.2"/><circle cx="718.0" cy="642.2" r="5.2"/><circle cx="779.5" cy="518.2" r="5.2"/></g>
</g>
<rect x="219" y="50" width="661" height="700" fill="none" stroke="#000" stroke-width="2" shape-rendering="crispEdges"/>
<rect x="950.5" y="700.43" width="40" height="22.87" fill="#ffffff"/>
<rect x="950.5" y="677.56" width="40" height="22.87" fill="#dcf0fa"/>
<rect x="950.5" y="654.69" width="40" height="22.87" fill="#a5daf5"/>
<rect x="950.5" y="631.82" width="40" height="22.87" fill="#6eb2e0"/>
<rect x="950.5" y="608.95" width="40" height="22.87" fill="#4a90c4"/>
<rect x="950.5" y="586.08" width="40" height="22.87" fill="#e0eabe"/>
<rect x="950.5" y="563.21" width="40" height="22.87" fill="#c0d77d"/>
<rect x="950.5" y="540.34" width="40" height="22.87" fill="#c2e17e"/>
<rect x="950.5" y="517.47" width="40" height="22.87" fill="#8fce55"/>
<rect x="950.5" y="494.60" width="40" height="22.87" fill="#6aaa3a"/>
<rect x="950.5" y="471.73" width="40" height="22.87" fill="#f5f56e"/>
<rect x="950.5" y="448.86" width="40" height="22.87" fill="#f2e35e"/>
<rect x="950.5" y="425.99" width="40" height="22.87" fill="#ffec00"/>
<rect x="950.5" y="403.12" width="40" height="22.87" fill="#ffe600"/>
<rect x="950.5" y="380.25" width="40" height="22.87" fill="#f7b94f"/>
<rect x="950.5" y="357.38" width="40" height="22.87" fill="#fdb32b"/>
<rect x="950.5" y="334.51" width="40" height="22.87" fill="#ff8c00"/>
<rect x="950.5" y="311.64" width="40" height="22.87" fill="#f0602a"/>
<rect x="950.5" y="288.77" width="40" height="22.87" fill="#ff6b6b"/>
<rect x="950.5" y="265.90" width="40" height="22.87" fill="#f72d56"/>
<rect x="950.5" y="243.03" width="40" height="22.87" fill="#fa0546"/>
<rect x="950.5" y="220.16" width="40" height="22.87" fill="#ff0000"/>
<rect x="950.5" y="197.29" width="40" height="22.87" fill="#cc1480"/>
<rect x="950.5" y="174.42" width="40" height="22.87" fill="#b03060"/>
<rect x="950.5" y="151.55" width="40" height="22.87" fill="#9932cc"/>
<rect x="950.5" y="127.40" width="40" height="24.15" fill="#8a2be2"/>
<g fill="#000" shape-rendering="crispEdges"><rect x="950" y="723" width="41" height="1"/><rect x="950" y="700" width="41" height="1"/><rect x="950" y="677" width="41" height="1"/><rect x="950" y="654" width="41" height="1"/><rect x="950" y="631" width="41" height="1"/><rect x="950" y="608" width="41" height="1"/><rect x="950" y="586" width="41" height="1"/><rect x="950" y="563" width="41" height="1"/><rect x="950" y="540" width="41" height="1"/><rect x="950" y="517" width="41" height="1"/><rect x="950" y="494" width="41" height="1"/><rect x="950" y="471" width="41" height="1"/><rect x="950" y="448" width="41" height="1"/><rect x="950" y="425" width="41" height="1"/><rect x="950" y="403" width="41" height="1"/><rect x="950" y="380" width="41" height="1"/><rect x="950" y="357" width="41" height="1"/><rect x="950" y="334" width="41" height="1"/><rect x="950" y="311" width="41" height="1"/><rect x="950" y="288" width="41" height="1"/><rect x="950" y="265" width="41" height="1"/><rect x="950" y="243" width="41" height="1"/><rect x="950" y="220" width="41" height="1"/><rect x="950" y="197" width="41" height="1"/><rect x="950" y="174" width="41" height="1"/><rect x="950" y="151" width="41" height="1"/><rect x="950" y="127" width="41" height="1"/><rect x="950" y="127" width="1" height="597"/><rect x="990" y="127" width="1" height="597"/></g>
<defs><path id="g28b" d="M11.00,-25.80L10.40,-25.60L8.40,-23.60L6.20,-20.30L4.30,-16.50L3.20,-11.30L3.20,-6.70L4.30,-1.50L6.20,2.30L8.40,5.60L10.40,7.60L11.00,7.80L11.50,7.60L11.80,7.00L11.60,6.40L9.60,4.40L7.70,0.60L6.70,-2.40L5.80,-6.90L5.80,-11.10L6.70,-15.60L7.70,-18.60L9.60,-22.40L11.60,-24.40L11.80,-25.00L11.50,-25.60Z"/><path id="g29b" d="M3.00,-25.80L2.50,-25.60L2.20,-25.00L2.40,-24.40L4.40,-22.40L6.30,-18.60L7.30,-15.60L8.20,-11.10L8.20,-6.90L7.30,-2.40L6.30,0.60L4.40,4.40L2.40,6.40L2.20,7.00L2.50,7.60L3.00,7.80L3.60,7.60L5.60,5.60L7.80,2.30L9.70,-1.50L10.80,-6.70L10.80,-11.30L9.70,-16.50L7.80,-20.30L5.60,-23.60L3.60,-25.60Z"/><path id="g2fb" d="M20.50,-25.60L20.00,-25.80L19.20,-25.30L1.60,6.00L1.20,7.00L1.50,7.60L2.00,7.80L2.80,7.30L20.40,-24.00L20.80,-25.00Z"/><path id="g30b" d="M8.70,-21.80L5.70,-20.80L3.20,-17.20L2.20,-12.30L2.20,-8.70L3.20,-3.80L5.30,-0.60L5.70,-0.20L8.70,0.80L11.30,0.80L14.30,-0.20L16.80,-3.80L17.80,-8.70L17.80,-12.30L16.80,-17.20L14.70,-20.40L14.30,-20.80L11.30,-21.80ZM9.20,-20.20L10.80,-20.20L12.40,-19.40L13.40,-18.40L14.30,-16.60L15.20,-12.10L15.20,-8.90L14.30,-4.40L13.40,-2.60L12.40,-1.60L10.80,-0.80L9.20,-0.80L7.60,-1.60L6.60,-2.60L5.70,-4.40L4.80,-8.90L4.80,-12.10L5.70,-16.60L6.60,-18.40L7.60,-19.40Z"/><path id="g31b" d="M11.00,-21.80L10.40,-21.60L7.40,-18.60L5.70,-17.80L5.20,-17.00L5.40,-16.50L6.00,-16.20L6.50,-16.30L8.30,-17.20L9.10,-17.90L9.20,-17.80L9.20,-0.90L6.00,-0.80L5.50,-0.60L5.20,0.00L5.50,0.60L6.00,0.80L15.00,0.80L15.50,0.60L15.80,0.00L15.60,-0.50L15.00,-0.80L11.80,-0.90L11.80,-21.00L11.60,-21.50Z"/><path id="g33b" d="M7.70,-21.80L4.70,-20.80L3.40,-19.60L2.30,-17.50L2.20,-16.00L2.40,-15.40L3.40,-14.40L4.00,-14.20L4.60,-14.40L5.60,-15.40L5.80,-16.00L5.60,-16.60L4.30,-17.80L4.60,-18.40L5.70,-19.40L8.10,-20.20L11.80,-20.20L13.20,-19.50L14.20,-17.80L14.20,-15.20L13.50,-13.80L11.80,-12.80L8.70,-12.70L8.40,-12.50L8.20,-12.00L8.40,-11.50L9.00,-11.20L11.80,-11.20L13.40,-10.40L14.30,-9.50L15.20,-6.90L15.20,-4.20L14.40,-2.60L13.40,-1.60L11.80,-0.80L8.10,-0.80L5.50,-1.70L4.60,-2.60L4.30,-3.30L5.60,-4.40L5.80,-5.00L5.60,-5.60L4.60,-6.60L4.00,-6.80L3.40,-6.60L2.40,-5.60L2.20,-5.00L2.30,-3.50L3.40,-1.40L4.70,-0.20L7.70,0.80L12.30,0.80L15.60,-0.40L16.60,-1.40L17.70,-3.50L17.70,-7.50L16.60,-9.60L14.30,-11.80L15.30,-12.20L15.80,-12.70L16.70,-14.50L16.70,-18.50L15.80,-20.30L15.30,-20.80L12.30,-21.80Z"/><path id="g67b" d="M7.50,-14.70L5.40,-13.60L4.40,-12.60L3.30,-10.50L3.20,-8.00L4.00,-6.20L3.20,-5.30L2.30,-3.50L2.30,-1.50L3.10,0.00L2.20,0.70L1.30,2.50L1.30,4.50L2.20,6.30L2.70,6.80L5.70,7.80L12.30,7.80L15.30,6.80L15.80,6.30L16.70,4.50L16.70,2.50L15.80,0.70L15.30,0.20L12.30,-0.80L7.10,-0.80L4.50,-1.70L3.80,-2.40L3.80,-2.80L4.60,-4.40L5.00,-4.80L5.70,-4.20L8.00,-3.20L10.50,-3.30L12.60,-4.40L13.80,-5.70L14.80,-8.00L14.70,-10.50L14.00,-11.80L14.40,-12.20L16.00,-12.20L16.50,-12.40L16.80,-13.00L16.80,-14.00L16.50,-14.60L16.00,-14.80L15.50,-14.70L13.70,-13.80L13.00,-13.20L12.30,-13.80L10.50,-14.70ZM2.80,3.20L3.70,1.60L5.10,1.20L6.70,1.80L11.90,1.80L14.50,2.70L15.20,3.40L15.20,3.80L14.30,5.40L11.90,6.20L6.10,6.20L3.70,5.40L2.80,3.80ZM8.20,-13.20L9.80,-13.20L11.20,-12.50L12.20,-10.80L12.20,-7.20L11.50,-5.80L9.80,-4.80L8.20,-4.80L6.80,-5.50L5.80,-7.20L5.80,-10.80L6.50,-12.20Z"/><path id="g6db" d="M1.30,-14.30L1.30,-13.70L1.70,-13.30L4.20,-13.10L4.20,-0.90L2.00,-0.80L1.50,-0.60L1.20,0.00L1.40,0.50L1.70,0.70L9.00,0.80L9.60,0.50L9.80,0.00L9.50,-0.60L9.00,-0.80L6.80,-0.90L6.80,-10.60L8.50,-12.30L11.10,-13.20L12.80,-13.20L14.20,-12.50L15.20,-10.80L15.20,-0.90L13.00,-0.80L12.50,-0.60L12.20,0.00L12.50,0.60L13.00,0.80L20.00,0.80L20.60,0.50L20.80,0.00L20.50,-0.60L20.00,-0.80L17.80,-0.90L17.80,-10.60L19.50,-12.30L22.10,-13.20L23.80,-13.20L25.20,-12.50L26.20,-10.80L26.20,-0.90L23.70,-0.70L23.40,-0.50L23.20,0.00L23.40,0.50L24.00,0.80L31.00,0.80L31.50,0.60L31.70,0.30L31.70,-0.30L31.30,-0.70L28.80,-0.90L28.80,-11.00L27.80,-13.30L27.30,-13.80L24.30,-14.80L21.70,-14.80L18.70,-13.80L17.20,-12.50L16.80,-13.30L16.30,-13.80L13.30,-14.80L10.70,-14.80L7.70,-13.80L6.90,-13.10L6.60,-14.50L6.00,-14.80L2.00,-14.80L1.50,-14.60Z"/><path id="g73b" d="M5.50,-14.70L3.40,-13.60L2.40,-12.60L2.20,-12.00L2.20,-10.00L2.40,-9.40L3.70,-8.20L5.50,-7.30L10.20,-5.50L12.40,-4.40L13.20,-3.60L13.20,-2.40L12.40,-1.60L10.80,-0.80L7.20,-0.80L5.60,-1.60L4.60,-2.60L3.80,-4.30L3.00,-4.80L2.50,-4.60L2.20,-4.00L2.30,0.30L2.70,0.70L3.30,0.70L3.80,0.30L4.30,-0.50L6.50,0.70L7.00,0.80L11.50,0.70L13.60,-0.40L14.60,-1.40L14.80,-2.00L14.80,-5.00L14.60,-5.60L13.30,-6.80L11.50,-7.70L6.80,-9.50L4.60,-10.60L3.80,-11.40L3.80,-11.60L4.60,-12.40L6.20,-13.20L9.80,-13.20L11.40,-12.40L12.40,-11.40L13.20,-9.70L14.00,-9.20L14.50,-9.40L14.80,-10.00L14.70,-14.30L14.30,-14.70L13.70,-14.70L13.20,-14.30L12.70,-13.50L10.50,-14.70L10.00,-14.80Z"/><path id="g75b" d="M1.40,-14.50L1.20,-14.00L1.50,-13.40L2.00,-13.20L4.20,-13.10L4.20,-3.00L5.20,-0.70L5.70,-0.20L8.70,0.80L11.30,0.80L14.30,-0.20L15.10,-0.90L15.40,0.50L16.00,0.80L20.00,0.80L20.60,0.50L20.80,0.00L20.50,-0.60L20.00,-0.80L17.80,-0.90L17.80,-14.00L17.50,-14.60L17.00,-14.80L13.00,-14.80L12.50,-14.60L12.30,-14.30L12.30,-13.70L12.70,-13.30L15.20,-13.10L15.20,-3.40L13.50,-1.70L10.90,-0.80L9.20,-0.80L7.80,-1.50L6.80,-3.20L6.80,-14.00L6.60,-14.50L6.00,-14.80L2.00,-14.80Z"/><path id="g2ec" d="M5.00,-2.60L4.70,-2.50L3.50,-1.30L3.40,-1.00L3.50,-0.70L4.70,0.50L5.00,0.60L5.30,0.50L6.50,-0.70L6.60,-1.00L6.50,-1.30L5.30,-2.50ZM4.80,-1.00L5.00,-1.20L5.20,-1.00L5.00,-0.80Z"/><path id="g2fc" d="M20.30,-25.50L19.70,-25.50L18.70,-24.00L1.60,6.40L1.40,7.00L1.70,7.50L2.30,7.50L3.30,6.00L20.40,-24.40L20.60,-25.00Z"/><path id="g30c" d="M8.80,-21.60L5.80,-20.60L3.60,-17.50L2.40,-12.20L2.40,-8.80L3.40,-3.90L5.40,-0.80L5.80,-0.40L8.80,0.60L11.20,0.60L14.20,-0.40L16.40,-3.50L17.60,-8.80L17.60,-12.20L16.60,-17.10L14.60,-20.20L14.20,-20.60L11.20,-21.60ZM9.10,-20.40L10.90,-20.40L12.70,-19.50L13.50,-18.70L14.50,-16.70L15.40,-12.20L15.40,-8.80L14.50,-4.30L13.50,-2.30L12.70,-1.50L10.90,-0.60L9.10,-0.60L7.30,-1.50L6.50,-2.30L5.50,-4.30L4.60,-8.80L4.60,-12.20L5.50,-16.70L6.50,-18.70L7.30,-19.50Z"/><path id="g31c" d="M11.00,-21.60L10.70,-21.50L7.70,-18.50L5.80,-17.60L5.40,-17.00L5.70,-16.50L6.40,-16.50L8.20,-17.40L9.30,-18.50L9.40,-18.40L9.40,-0.70L5.70,-0.50L5.40,0.00L5.50,0.30L6.00,0.60L15.00,0.60L15.30,0.50L15.60,0.00L15.50,-0.30L15.00,-0.60L11.60,-0.70L11.60,-21.00L11.50,-21.30Z"/><path id="g32c" d="M4.80,-20.60L3.40,-19.20L2.40,-17.00L2.50,-15.70L3.70,-14.50L4.30,-14.50L5.50,-15.70L5.60,-16.00L5.50,-16.30L4.30,-17.50L4.00,-17.60L4.50,-18.70L5.30,-19.50L8.00,-20.40L11.90,-20.40L13.70,-19.50L14.50,-18.70L15.40,-16.90L15.40,-15.10L14.30,-13.20L11.90,-11.60L5.80,-8.60L3.40,-6.20L2.40,-3.20L2.50,0.30L3.00,0.60L3.50,0.30L3.60,-1.80L4.20,-2.40L5.90,-2.40L10.60,0.50L15.30,0.50L16.60,-0.80L17.50,-2.60L17.60,-5.00L17.30,-5.50L17.00,-5.60L16.50,-5.30L16.40,-3.20L15.70,-2.50L13.90,-1.60L11.10,-1.60L6.20,-3.60L4.00,-3.60L3.90,-3.90L4.50,-5.70L6.30,-7.50L8.30,-8.50L13.00,-10.30L16.20,-12.40L16.60,-12.80L17.50,-14.60L17.50,-17.40L16.60,-19.20L15.20,-20.60L12.20,-21.60L7.80,-21.60ZM3.60,-16.40L3.70,-16.50L4.20,-16.00L4.00,-15.80Z"/><path id="g33c" d="M7.80,-21.60L4.80,-20.60L3.40,-19.20L2.50,-17.40L2.50,-15.70L3.70,-14.50L4.00,-14.40L4.30,-14.50L5.50,-15.70L5.50,-16.30L4.30,-17.50L4.00,-17.60L4.50,-18.70L5.30,-19.50L8.00,-20.40L11.90,-20.40L13.50,-19.60L14.40,-17.90L14.40,-15.10L13.60,-13.50L11.90,-12.60L9.00,-12.60L8.70,-12.50L8.40,-12.00L8.50,-11.70L9.00,-11.40L11.90,-11.40L13.70,-10.50L14.50,-9.70L15.40,-7.00L15.40,-4.10L14.50,-2.30L13.70,-1.50L11.90,-0.60L8.00,-0.60L5.30,-1.50L4.50,-2.30L4.00,-3.40L4.30,-3.50L5.50,-4.70L5.60,-5.00L5.50,-5.30L4.30,-6.50L3.70,-6.50L2.50,-5.30L2.40,-4.00L3.40,-1.80L4.80,-0.40L7.80,0.60L12.20,0.60L15.20,-0.40L16.60,-1.80L17.60,-4.00L17.50,-7.40L16.60,-9.20L14.20,-11.60L13.70,-11.90L15.20,-12.40L15.60,-12.80L16.50,-14.60L16.60,-18.00L15.60,-20.20L15.20,-20.60L12.20,-21.60ZM4.00,-5.20L4.20,-5.00L3.70,-4.50L3.60,-4.80ZM3.60,-16.40L3.70,-16.50L4.20,-16.00L4.00,-15.80Z"/><path id="g34c" d="M13.00,-21.60L12.50,-21.40L2.20,-7.40L1.40,-6.00L1.50,-5.70L2.00,-5.40L11.30,-5.40L11.40,-0.70L8.70,-0.50L8.40,0.00L8.50,0.30L9.00,0.60L16.30,0.50L16.60,0.00L16.30,-0.50L13.60,-0.70L13.60,-5.30L18.00,-5.40L18.30,-5.50L18.60,-6.00L18.50,-6.30L18.00,-6.60L13.60,-6.70L13.60,-21.00L13.50,-21.30ZM11.30,-17.60L11.40,-6.70L3.40,-6.60L3.40,-6.90Z"/><path id="g35c" d="M4.70,-21.50L4.30,-20.70L2.40,-11.20L2.50,-10.70L3.00,-10.40L3.30,-10.50L5.30,-12.50L8.00,-13.40L10.90,-13.40L12.70,-12.50L14.50,-10.70L15.40,-8.00L15.40,-6.00L14.50,-3.30L12.70,-1.50L10.90,-0.60L8.00,-0.60L5.30,-1.50L4.50,-2.30L4.00,-3.40L4.30,-3.50L5.50,-4.70L5.60,-5.00L5.50,-5.30L4.30,-6.50L3.70,-6.50L2.50,-5.30L2.50,-3.60L3.40,-1.80L4.80,-0.40L7.80,0.60L11.20,0.60L14.20,-0.40L16.60,-2.80L17.60,-5.80L17.60,-8.20L16.60,-11.20L14.20,-13.60L11.20,-14.60L7.80,-14.60L4.80,-13.60L4.10,-12.90L4.00,-13.20L5.20,-19.20L5.40,-19.40L10.20,-19.40L15.10,-20.40L15.50,-20.70L15.50,-21.30L15.00,-21.60ZM4.00,-5.20L4.20,-5.00L3.70,-4.50L3.60,-4.80Z"/><path id="g36c" d="M13.00,-21.60L9.80,-21.60L6.80,-20.60L4.40,-18.20L3.50,-16.40L2.40,-12.20L2.40,-5.80L3.40,-2.80L5.80,-0.40L8.80,0.60L11.20,0.60L14.20,-0.40L16.60,-2.80L17.60,-5.80L17.60,-7.20L16.60,-10.20L14.20,-12.60L11.20,-13.60L9.80,-13.60L6.80,-12.60L4.70,-10.50L4.60,-10.60L4.60,-12.10L5.50,-15.70L6.50,-17.70L8.30,-19.50L10.10,-20.40L12.90,-20.40L14.50,-19.60L15.00,-18.70L13.50,-17.30L13.50,-16.70L14.70,-15.50L15.00,-15.40L15.30,-15.50L16.50,-16.70L16.50,-18.40L15.60,-20.20L15.20,-20.60ZM10.00,-12.40L10.90,-12.40L12.70,-11.50L14.50,-9.70L15.40,-7.00L15.40,-6.00L14.50,-3.30L12.70,-1.50L10.90,-0.60L9.10,-0.60L7.30,-1.50L5.50,-3.30L4.60,-6.00L4.60,-7.00L5.50,-9.70L7.30,-11.50ZM15.30,-17.50L15.40,-17.20L15.00,-16.80L14.80,-17.00Z"/><path id="g37c" d="M17.00,-21.60L16.40,-21.20L15.50,-19.30L14.80,-18.60L13.10,-18.60L8.00,-21.60L5.70,-21.50L3.70,-19.50L3.50,-21.30L3.00,-21.60L2.50,-21.30L2.40,-15.00L2.50,-14.70L3.00,-14.40L3.50,-14.70L3.60,-16.90L4.40,-18.50L6.10,-19.40L7.90,-19.40L12.80,-17.40L15.00,-17.40L16.30,-18.50L16.40,-18.40L15.50,-15.30L10.40,-10.20L9.40,-8.20L8.40,-5.20L8.40,0.00L8.70,0.50L9.00,0.60L9.50,0.30L10.00,0.60L10.50,0.30L10.60,-5.00L11.50,-7.70L12.50,-9.70L16.60,-14.80L17.60,-17.80L17.60,-21.00L17.50,-21.30Z"/><path id="g38c" d="M7.80,-21.60L4.80,-20.60L4.40,-20.20L3.50,-18.40L3.50,-14.60L4.40,-12.80L4.80,-12.40L6.00,-12.00L4.80,-11.60L3.40,-10.20L2.50,-8.40L2.40,-4.00L3.40,-1.80L4.80,-0.40L7.80,0.60L12.20,0.60L15.20,-0.40L16.60,-1.80L17.60,-4.00L17.50,-8.40L16.60,-10.20L15.20,-11.60L14.00,-12.00L15.20,-12.40L15.60,-12.80L16.50,-14.60L16.60,-18.00L15.60,-20.20L15.20,-20.60L12.20,-21.60ZM8.10,-11.40L11.90,-11.40L13.70,-10.50L14.50,-9.70L15.40,-7.90L15.40,-4.10L14.50,-2.30L13.70,-1.50L11.90,-0.60L8.10,-0.60L6.30,-1.50L5.50,-2.30L4.60,-4.10L4.60,-7.90L5.50,-9.70L6.30,-10.50ZM6.40,-19.50L8.10,-20.40L11.90,-20.40L13.50,-19.60L14.40,-17.90L14.40,-15.10L13.60,-13.50L11.90,-12.60L8.10,-12.60L6.50,-13.40L5.60,-15.10L5.60,-17.90Z"/><path id="g39c" d="M11.20,-21.60L8.80,-21.60L5.80,-20.60L3.40,-18.20L2.40,-15.20L2.40,-13.80L3.40,-10.80L5.80,-8.40L8.80,-7.40L10.20,-7.40L13.20,-8.40L15.30,-10.50L15.40,-10.40L15.40,-8.90L14.50,-5.30L13.50,-3.30L11.70,-1.50L9.90,-0.60L7.10,-0.60L5.50,-1.40L5.00,-2.30L6.50,-3.70L6.50,-4.30L5.30,-5.50L5.00,-5.60L4.70,-5.50L3.50,-4.30L3.50,-2.60L4.40,-0.80L4.80,-0.40L7.00,0.60L10.20,0.60L13.20,-0.40L15.60,-2.80L16.50,-4.60L17.60,-8.80L17.60,-15.20L16.60,-18.20L14.20,-20.60ZM5.00,-4.20L5.20,-4.00L4.70,-3.50L4.60,-3.80ZM9.10,-20.40L10.90,-20.40L12.70,-19.50L14.50,-17.70L15.40,-15.00L15.40,-14.00L14.50,-11.30L12.70,-9.50L10.00,-8.60L9.10,-8.60L7.30,-9.50L5.50,-11.30L4.60,-14.00L4.60,-15.00L5.50,-17.70L7.30,-19.50Z"/><path id="g45c" d="M1.70,-21.50L1.40,-21.00L1.70,-20.50L4.40,-20.30L4.40,-0.70L1.70,-0.50L1.40,0.00L1.50,0.30L2.00,0.60L18.30,0.50L18.60,0.00L18.60,-6.00L18.50,-6.30L18.00,-6.60L17.40,-6.10L16.60,-1.00L16.40,-0.60L6.60,-0.70L6.60,-10.30L11.30,-10.40L11.50,-6.70L12.00,-6.40L12.30,-6.50L12.60,-7.00L12.60,-15.00L12.30,-15.50L11.70,-15.50L11.40,-15.00L11.30,-11.60L6.60,-11.70L6.60,-20.30L16.40,-20.40L16.60,-20.00L17.40,-14.90L18.00,-14.40L18.30,-14.50L18.60,-15.00L18.50,-21.30L18.00,-21.60Z"/><path id="g46c" d="M18.30,-21.50L2.00,-21.60L1.50,-21.30L1.40,-21.00L1.70,-20.50L4.40,-20.30L4.40,-0.70L1.70,-0.50L1.40,0.00L1.70,0.50L9.00,0.60L9.50,0.30L9.60,0.00L9.30,-0.50L6.60,-0.70L6.70,-10.40L11.30,-10.40L11.50,-6.70L12.00,-6.40L12.30,-6.50L12.60,-7.00L12.60,-15.00L12.30,-15.50L11.70,-15.50L11.40,-15.00L11.30,-11.60L6.60,-11.70L6.60,-20.30L16.40,-20.40L16.60,-20.00L17.40,-14.90L18.00,-14.40L18.30,-14.50L18.60,-15.00L18.60,-21.00Z"/><path id="g4ec" d="M1.70,-21.50L1.40,-21.00L1.70,-20.50L4.40,-20.30L4.40,-0.70L1.70,-0.50L1.40,0.00L1.50,0.30L2.00,0.60L8.00,0.60L8.30,0.50L8.60,0.00L8.50,-0.30L8.00,-0.60L5.60,-0.70L5.70,-18.30L17.40,0.20L17.70,0.50L18.30,0.50L18.60,0.00L18.60,-20.30L21.30,-20.50L21.60,-21.00L21.50,-21.30L21.00,-21.60L15.00,-21.60L14.70,-21.50L14.40,-21.00L14.50,-20.70L15.00,-20.40L17.40,-20.30L17.30,-4.20L6.60,-21.20L6.00,-21.60ZM5.70,-20.30L6.10,-19.80L5.90,-19.50L5.60,-19.60Z"/><path id="g4fc" d="M9.80,-21.60L6.80,-20.60L4.40,-18.20L3.50,-16.40L2.40,-12.20L2.40,-8.80L3.30,-5.20L4.40,-2.80L6.80,-0.40L9.80,0.60L12.20,0.60L15.20,-0.40L17.60,-2.80L18.50,-4.60L19.60,-8.80L19.60,-12.20L18.70,-15.80L17.60,-18.20L15.20,-20.60L12.20,-21.60ZM10.10,-20.40L11.90,-20.40L13.70,-19.50L15.50,-17.70L16.50,-15.70L17.40,-12.10L17.40,-8.90L16.50,-5.30L15.50,-3.30L13.70,-1.50L11.90,-0.60L10.10,-0.60L8.30,-1.50L6.50,-3.30L5.50,-5.30L4.60,-8.90L4.60,-12.10L5.50,-15.70L6.50,-17.70L8.30,-19.50Z"/><path id="g52c" d="M1.70,-21.50L1.40,-21.00L1.70,-20.50L4.40,-20.30L4.40,-0.70L1.70,-0.50L1.40,0.00L1.50,0.30L2.00,0.60L9.00,0.60L9.50,0.30L9.60,0.00L9.30,-0.50L6.60,-0.70L6.60,-10.30L10.90,-10.40L12.60,-9.50L13.50,-7.70L15.40,-0.80L16.70,0.50L19.30,0.50L20.50,-1.60L20.50,-3.30L20.00,-3.60L19.70,-3.50L19.40,-3.00L19.40,-2.20L18.80,-1.60L18.20,-1.60L17.30,-2.70L14.60,-9.20L13.50,-10.30L17.20,-11.40L18.60,-12.80L19.60,-15.00L19.60,-17.00L18.60,-19.20L17.20,-20.60L14.20,-21.60ZM16.60,-1.60L17.50,-0.70L17.20,-0.60L16.50,-1.30ZM6.60,-20.30L13.90,-20.40L15.70,-19.50L16.50,-18.70L17.40,-16.90L17.40,-15.10L16.50,-13.30L15.70,-12.50L13.90,-11.60L6.70,-11.60Z"/><path id="g57c" d="M0.70,-21.50L0.40,-21.00L0.70,-20.50L3.40,-20.40L3.60,-20.10L7.50,0.30L8.00,0.60L8.60,0.10L12.00,-17.60L15.30,-0.30L15.70,0.50L16.30,0.50L16.60,0.10L20.40,-20.10L20.60,-20.40L23.30,-20.50L23.60,-21.00L23.50,-21.30L23.00,-21.60L17.00,-21.60L16.50,-21.30L16.40,-21.00L16.70,-20.50L19.30,-20.30L16.50,-6.00L16.30,-6.40L13.60,-21.10L13.00,-21.60L12.50,-21.30L12.00,-21.60L11.50,-21.30L8.50,-6.00L5.70,-20.30L8.30,-20.50L8.60,-21.00L8.50,-21.30L8.00,-21.60ZM15.90,-4.50L16.20,-4.40L16.00,-3.40L15.80,-4.00ZM7.90,-4.50L8.20,-4.40L8.00,-3.40L7.80,-4.00Z"/><path id="g61c" d="M3.50,-12.30L3.40,-11.00L3.50,-10.70L4.00,-10.40L5.30,-10.50L5.60,-11.00L5.60,-12.00L5.40,-12.50L7.10,-13.40L10.90,-13.40L12.70,-12.50L13.40,-11.80L13.40,-10.20L12.60,-9.50L6.80,-8.60L3.80,-7.60L3.40,-7.20L2.40,-5.00L2.40,-3.00L3.40,-0.80L3.80,-0.40L6.80,0.60L10.00,0.60L12.20,-0.40L13.80,-2.00L14.40,-0.80L14.80,-0.40L16.60,0.50L18.00,0.60L18.50,0.30L18.60,0.00L18.30,-0.50L17.20,-0.60L16.50,-1.30L15.60,-3.10L15.60,-10.00L14.60,-12.20L13.20,-13.60L11.00,-14.60L7.00,-14.60L4.80,-13.60ZM13.40,-8.40L13.40,-3.20L11.70,-1.50L9.90,-0.60L7.10,-0.60L5.40,-1.50L4.60,-3.10L4.60,-4.90L5.50,-6.60L7.40,-7.50L13.20,-8.50Z"/><path id="g63c" d="M8.80,-14.60L5.80,-13.60L3.40,-11.20L2.40,-8.20L2.40,-5.80L3.40,-2.80L5.80,-0.40L8.80,0.60L11.20,0.60L14.20,-0.40L16.50,-2.70L16.50,-3.30L16.00,-3.60L15.70,-3.50L13.70,-1.50L11.00,-0.60L9.10,-0.60L7.30,-1.50L5.50,-3.30L4.60,-6.00L4.60,-8.00L5.50,-10.70L7.30,-12.50L9.10,-13.40L11.90,-13.40L13.70,-12.50L14.70,-11.50L13.50,-10.30L13.40,-10.00L13.50,-9.70L14.70,-8.50L15.00,-8.40L15.30,-8.50L16.50,-9.70L16.60,-11.00L16.50,-11.30L14.20,-13.60L12.40,-14.50ZM15.30,-10.50L15.40,-10.20L15.00,-9.80L14.80,-10.00Z"/><path id="g6bc" d="M1.70,-21.50L1.40,-21.00L1.70,-20.50L4.40,-20.30L4.40,-0.70L1.70,-0.50L1.40,0.00L1.50,0.30L2.00,0.60L9.30,0.50L9.60,0.00L9.30,-0.50L6.60,-0.70L6.60,-3.80L9.90,-7.10L14.70,-0.70L12.70,-0.50L12.40,0.00L12.70,0.50L19.30,0.50L19.60,0.00L19.30,-0.50L17.40,-0.60L11.30,-8.50L16.20,-13.40L19.00,-13.40L19.50,-13.70L19.50,-14.30L19.00,-14.60L12.70,-14.50L12.40,-14.00L12.70,-13.50L14.50,-13.30L6.70,-5.50L6.60,-21.00L6.50,-21.30L6.00,-21.60Z"/><path id="g6dc" d="M1.50,-14.30L1.40,-14.00L1.70,-13.50L4.40,-13.30L4.40,-0.70L1.70,-0.50L1.40,0.00L1.70,0.50L9.00,0.60L9.50,0.30L9.60,0.00L9.30,-0.50L6.60,-0.70L6.60,-10.80L8.30,-12.50L11.00,-13.40L12.90,-13.40L14.50,-12.60L15.40,-10.90L15.40,-0.70L12.70,-0.50L12.40,0.00L12.70,0.50L20.00,0.60L20.50,0.30L20.60,0.00L20.30,-0.50L17.60,-0.70L17.60,-10.80L19.30,-12.50L22.00,-13.40L23.90,-13.40L25.50,-12.60L26.40,-10.90L26.40,-0.70L23.70,-0.50L23.40,0.00L23.50,0.30L24.00,0.60L31.00,0.60L31.50,0.30L31.60,0.00L31.30,-0.50L28.60,-0.70L28.60,-11.00L27.60,-13.20L27.20,-13.60L24.20,-14.60L21.80,-14.60L18.80,-13.60L17.20,-12.00L16.60,-13.20L16.20,-13.60L13.20,-14.60L10.80,-14.60L7.80,-13.60L6.70,-12.50L6.60,-14.00L6.30,-14.50L2.00,-14.60Z"/><path id="g71c" d="M5.80,-13.60L3.40,-11.20L2.40,-8.20L2.40,-5.80L3.40,-2.80L5.80,-0.40L8.80,0.60L11.40,0.50L13.20,-0.40L14.30,-1.50L14.40,6.30L11.70,6.50L11.40,7.00L11.50,7.30L12.00,7.60L19.30,7.50L19.60,7.00L19.30,6.50L16.60,6.30L16.50,-14.30L16.00,-14.60L15.50,-14.30L15.00,-14.60L14.70,-14.50L14.40,-14.00L14.30,-12.50L13.20,-13.60L11.00,-14.60L8.80,-14.60ZM9.10,-13.40L10.90,-13.40L12.70,-12.50L14.40,-10.80L14.40,-3.20L12.70,-1.50L10.90,-0.60L9.10,-0.60L7.30,-1.50L5.50,-3.30L4.60,-6.00L4.60,-8.00L5.50,-10.70L7.30,-12.50Z"/><path id="j4ea7" d="M862,-692L848,-702L802,-712L545,-698L545,-752L535,-785L502,-822L488,-828L472,-822L462,-802L468,-788L490,-765L495,-752L490,-695L245,-678L208,-698L180,-695L170,-675L175,-660L242,-628L638,-652L642,-625L592,-592L575,-568L518,-565L498,-580L345,-610L328,-608L318,-600L312,-585L322,-565L462,-532L272,-462L262,-442L270,-420L245,-418L205,-462L195,-465L175,-455L172,-430L210,-385L198,-232L162,-110L102,2L30,82L22,102L28,118L48,128L62,122L140,38L210,-92L248,-225L260,-370L810,-405L882,-395L908,-400L918,-420L908,-440L838,-455L315,-425L480,-482L518,-515L578,-518L598,-500L700,-468L718,-470L728,-478L732,-492L722,-512L622,-548L635,-562L688,-598L692,-612L690,-652L782,-662L842,-652L862,-662L868,-678Z" fill="#000" fill-rule="evenodd"/><path id="k4eac" d="M650,-205L645,-190L650,-175L818,-18L840,-8L862,-20L868,-35L862,-50L695,-208L672,-218ZM332,-230L318,-235L295,-222L290,-200L298,-165L258,-120L192,-62L95,-5L82,8L78,22L90,45L105,50L122,45L218,-12L325,-108L350,-140L355,-158L345,-212ZM252,-548L240,-538L235,-522L242,-502L278,-462L290,-312L298,-285L320,-272L352,-280L480,-278L478,18L460,18L358,-40L325,-52L302,-40L300,-15L320,5L442,70L485,80L512,75L528,62L532,48L535,-280L678,-298L728,-282L750,-295L755,-310L750,-325L718,-345L738,-485L732,-510L710,-530L680,-532L315,-508L282,-542L262,-550ZM680,-472L665,-355L660,-350L520,-335L348,-332L342,-340L335,-455L642,-475ZM72,-648L88,-622L128,-602L190,-598L495,-622L602,-620L830,-638L888,-628L902,-632L915,-655L910,-670L895,-682L852,-692L598,-675L522,-678L515,-778L482,-820L460,-830L445,-825L432,-802L438,-785L465,-750L462,-672L160,-652L100,-675L85,-670Z" fill="#000" fill-rule="evenodd"/><path id="k516c" d="M108,-25L112,-10L128,2L182,25L215,28L275,22L298,12L385,10L685,-35L722,-45L740,-32L800,52L815,58L830,52L842,30L835,10L780,-70L742,-100L725,-142L638,-242L622,-248L600,-235L598,-210L680,-110L682,-92L380,-45L325,-45L332,-68L420,-208L495,-362L502,-398L500,-420L485,-450L460,-465L445,-460L432,-438L445,-405L442,-378L378,-245L282,-92L268,-35L198,-28L135,-52L120,-48ZM375,-725L360,-730L338,-718L332,-702L348,-660L308,-572L208,-425L122,-332L50,-270L45,-255L58,-232L72,-228L92,-235L178,-312L252,-395L358,-550L405,-660L388,-710ZM518,-755L505,-732L510,-718L525,-705L548,-700L562,-685L638,-555L735,-432L870,-305L922,-292L948,-298L960,-320L955,-335L935,-348L905,-350L770,-478L682,-588L602,-725L572,-750L540,-760Z" fill="#000" fill-rule="evenodd"/><path id="k521b" d="M640,-655L625,-650L612,-628L620,-608L642,-585L648,-572L648,-178L662,-138L685,-125L700,-130L712,-152L702,-180L702,-575L685,-622L660,-648ZM328,-812L312,-808L300,-785L315,-748L308,-702L282,-680L170,-492L25,-340L18,-320L22,-305L35,-295L45,-292L65,-300L190,-430L210,-408L208,-58L230,-8L250,8L310,25L482,22L538,5L578,-60L590,-215L585,-230L572,-240L552,-240L538,-225L525,-78L502,-40L475,-32L310,-30L275,-42L262,-62L265,-390L422,-400L418,-295L402,-218L382,-220L338,-255L320,-260L305,-255L295,-242L292,-232L302,-210L362,-168L402,-158L448,-180L472,-290L478,-415L470,-435L452,-452L418,-458L250,-445L225,-470L228,-482L330,-648L395,-602L518,-485L538,-478L548,-480L560,-490L565,-505L558,-525L432,-645L362,-695L370,-740L368,-762L350,-800ZM815,-830L800,-825L788,-802L792,-788L828,-752L825,18L798,12L678,-58L652,-55L640,-32L645,-18L658,-5L790,70L838,78L858,70L875,52L880,38L882,-752L870,-790L835,-822Z" fill="#000" fill-rule="evenodd"/><path id="k5357" d="M350,-435L338,-412L345,-392L408,-328L428,-320L442,-325L455,-348L448,-368L385,-432L365,-440ZM110,-680L98,-658L102,-642L118,-630L178,-608L425,-622L462,-620L458,-522L202,-508L180,-538L165,-548L145,-548L130,-532L132,-505L160,-470L155,40L170,80L182,90L202,90L215,80L220,65L210,38L215,-452L530,-472L565,-470L560,-450L568,-415L522,-350L505,-312L488,-308L340,-305L285,-328L270,-322L258,-300L272,-275L320,-252L455,-252L460,-190L435,-185L295,-182L250,-200L228,-188L222,-172L228,-158L242,-145L292,-128L458,-132L462,-8L485,32L500,38L515,32L528,10L515,-22L518,-135L652,-142L742,-135L758,-140L770,-162L758,-185L730,-192L685,-198L515,-192L515,-260L532,-265L665,-265L702,-252L718,-258L728,-270L725,-295L708,-308L665,-320L570,-322L622,-400L625,-418L610,-472L788,-480L788,8L768,8L625,-70L598,-68L585,-45L590,-30L608,-15L742,58L795,68L830,58L842,32L842,-505L825,-530L810,-535L518,-525L518,-628L780,-645L872,-632L895,-645L900,-660L895,-675L878,-688L808,-700L522,-685L515,-782L488,-825L475,-838L460,-842L445,-838L432,-815L438,-798L465,-758L462,-678L180,-662L138,-682Z" fill="#000" fill-rule="evenodd"/><path id="k53f8" d="M198,-422L192,-408L200,-388L240,-342L252,-178L268,-132L280,-115L295,-110L310,-115L320,-128L322,-155L515,-170L575,-155L598,-168L602,-182L598,-198L560,-218L575,-358L568,-382L555,-398L512,-402L278,-390L230,-432L210,-432ZM520,-345L502,-222L335,-210L305,-212L298,-338ZM142,-560L158,-535L225,-502L548,-522L648,-512L662,-518L675,-540L670,-555L658,-565L575,-578L232,-558L170,-588L155,-582ZM112,-745L100,-722L105,-708L115,-698L188,-665L782,-700L788,-482L778,12L752,10L570,-72L542,-70L530,-48L535,-32L550,-20L738,62L780,72L815,62L828,50L832,35L842,-595L838,-722L832,-738L805,-755L772,-758L192,-720L140,-748Z" fill="#000" fill-rule="evenodd"/><path id="j54c1" d="M90,-328L85,-312L90,-298L130,-258L145,5L158,60L168,75L182,80L202,70L208,55L202,18L392,10L435,25L455,15L460,0L455,-15L418,-35L430,-248L425,-278L415,-295L400,-300L162,-295L120,-335L110,-338ZM375,-250L380,-245L368,-42L360,-38L195,-30L182,-242ZM518,-345L512,-330L518,-315L552,-280L570,-10L580,42L590,58L605,62L625,52L630,38L628,0L838,-8L882,8L902,-2L908,-18L902,-32L862,-52L878,-265L870,-305L860,-320L812,-325L588,-315L548,-352L538,-355ZM822,-275L828,-242L812,-60L802,-55L620,-48L605,-262L615,-268ZM242,-745L238,-730L242,-715L280,-678L295,-465L298,-445L308,-428L342,-422L648,-445L692,-430L712,-440L718,-455L712,-470L675,-488L688,-662L680,-708L670,-725L628,-730L312,-715L272,-752L262,-755ZM635,-678L638,-642L622,-492L375,-475L345,-478L332,-662L338,-668Z" fill="#000" fill-rule="evenodd"/><path id="k5927" d="M90,-492L85,-478L100,-452L165,-425L418,-435L420,-428L388,-315L302,-172L182,-55L32,35L20,48L15,62L28,85L42,90L60,85L212,-8L342,-132L438,-290L472,-412L490,-398L570,-250L655,-142L820,5L885,45L902,50L930,48L960,32L965,18L952,-5L938,-10L905,-8L845,-45L690,-188L610,-290L525,-442L782,-460L875,-450L898,-462L902,-478L898,-492L878,-505L810,-515L498,-498L495,-528L508,-728L490,-772L462,-800L442,-808L432,-805L420,-795L415,-780L422,-760L452,-725L438,-492L170,-480L112,-505Z" fill="#000" fill-rule="evenodd"/><path id="k5b66" d="M48,-215L62,-190L122,-165L488,-180L498,-30L482,18L448,10L398,-12L305,-70L280,-68L268,-45L272,-30L285,-18L350,25L428,60L490,75L515,70L530,58L552,-22L545,-140L548,-180L848,-198L930,-185L945,-190L958,-212L952,-228L935,-240L872,-252L530,-232L522,-270L550,-282L652,-365L680,-430L678,-445L668,-458L635,-465L555,-468L305,-452L262,-470L240,-458L235,-442L240,-428L255,-415L302,-398L558,-412L610,-408L592,-385L512,-325L480,-312L470,-302L465,-278L472,-238L468,-232L128,-220L75,-242L60,-238ZM425,-800L415,-788L415,-768L455,-718L490,-645L505,-632L530,-635L540,-648L540,-670L502,-745L455,-800L440,-805ZM892,-578L880,-600L852,-608L678,-605L758,-735L758,-772L742,-802L728,-815L708,-815L695,-805L692,-775L705,-752L630,-638L622,-608L612,-598L355,-585L365,-620L360,-645L285,-750L260,-765L238,-752L235,-728L310,-622L308,-608L318,-588L310,-582L220,-580L215,-630L192,-642L178,-638L165,-618L162,-570L138,-530L85,-405L90,-390L102,-380L122,-380L135,-390L195,-522L825,-555L830,-550L822,-522L755,-412L758,-388L780,-375L795,-380L808,-392L870,-492Z" fill="#000" fill-rule="evenodd"/><path id="j5e74" d="M325,-828L310,-822L300,-802L315,-758L295,-710L290,-672L255,-642L188,-542L110,-460L105,-445L110,-430L130,-420L145,-425L232,-518L292,-608L318,-630L505,-632L505,-490L500,-485L320,-478L295,-508L280,-512L265,-508L255,-488L260,-472L282,-445L290,-255L285,-250L118,-242L60,-270L45,-265L35,-245L45,-225L115,-192L500,-210L502,40L520,85L540,95L555,90L565,70L552,38L555,-212L882,-230L935,-218L950,-222L960,-242L950,-262L888,-280L558,-265L558,-442L742,-452L785,-440L800,-445L810,-465L805,-480L792,-490L750,-502L558,-492L558,-632L750,-650L818,-640L838,-650L840,-675L822,-690L770,-700L548,-682L345,-680L345,-702L368,-760L350,-810L340,-822ZM502,-438L505,-262L490,-258L342,-252L338,-268L332,-428Z" fill="#000" fill-rule="evenodd"/><path id="j5f0f" d="M100,-68L105,-52L120,-42L198,-20L340,-58L358,-75L420,-82L580,-145L592,-155L598,-170L592,-185L572,-195L402,-130L368,-128L368,-315L472,-325L515,-312L535,-322L540,-338L535,-352L522,-362L482,-375L358,-365L225,-362L198,-372L178,-390L152,-388L145,-378L145,-358L178,-328L225,-312L318,-312L318,-108L190,-70L125,-92L110,-88ZM608,-768L602,-752L608,-738L732,-630L752,-622L772,-632L778,-648L772,-662L648,-770L628,-778ZM90,-555L85,-540L95,-520L155,-495L542,-515L560,-425L640,-205L730,-40L812,55L825,62L870,72L890,65L915,40L960,-195L955,-220L935,-230L920,-225L910,-210L872,10L862,20L848,15L770,-72L682,-232L610,-430L598,-502L600,-515L795,-530L890,-520L905,-525L915,-545L905,-565L880,-572L792,-580L575,-562L538,-785L515,-820L475,-840L460,-835L450,-815L455,-800L482,-780L492,-765L520,-562L158,-545L110,-565Z" fill="#000" fill-rule="evenodd"/><path id="k6240" d="M435,-745L412,-745L285,-690L188,-670L170,-695L155,-705L135,-705L120,-690L122,-662L150,-628L148,-320L110,-128L68,-32L20,35L20,55L35,70L60,68L120,-15L165,-120L195,-285L202,-298L410,-308L422,-312L435,-328L448,-480L440,-528L428,-545L412,-550L205,-545L208,-618L300,-638L432,-692L448,-705L452,-720L448,-735ZM390,-492L392,-455L382,-360L202,-355L208,-488ZM845,-810L830,-815L815,-810L802,-788L805,-768L772,-740L622,-662L575,-650L540,-685L520,-685L508,-675L502,-660L508,-642L538,-608L535,-430L525,-312L498,-200L432,-62L362,25L358,42L370,65L385,70L408,60L478,-30L545,-170L580,-305L588,-415L598,-420L735,-425L735,42L745,75L758,90L772,95L795,82L800,68L790,40L792,-425L875,-438L950,-425L972,-438L975,-462L955,-480L892,-492L778,-480L592,-472L592,-598L640,-610L805,-695L850,-730L858,-742L860,-770L855,-798Z" fill="#000" fill-rule="evenodd"/><path id="k6280" d="M632,-820L618,-825L602,-820L590,-798L595,-782L620,-758L625,-745L622,-600L618,-595L475,-590L422,-612L408,-608L395,-585L412,-555L378,-565L285,-560L280,-745L268,-775L240,-802L220,-810L205,-805L192,-782L200,-762L228,-732L228,-552L115,-545L68,-565L45,-552L40,-538L45,-522L100,-492L225,-492L225,-312L188,-302L98,-258L48,-268L32,-265L20,-255L15,-240L20,-225L38,-212L98,-200L205,-250L225,-250L220,-5L200,-8L105,-85L80,-82L68,-60L72,-45L165,35L230,58L258,48L270,35L275,20L280,-298L320,-310L420,-372L432,-360L500,-332L770,-350L780,-348L780,-335L748,-270L662,-162L585,-242L542,-305L528,-310L512,-305L500,-282L505,-265L548,-200L620,-120L592,-92L500,-25L348,52L332,78L345,100L372,102L528,22L638,-58L665,-88L745,-20L912,72L978,70L998,58L1002,42L990,20L975,15L932,20L770,-70L708,-125L792,-238L830,-310L840,-370L832,-390L808,-405L675,-402L678,-548L830,-558L888,-548L902,-552L915,-575L902,-598L860,-612L680,-605L678,-762L665,-790ZM622,-540L618,-398L505,-388L460,-410L442,-410L430,-425L415,-430L398,-425L300,-362L280,-360L282,-505L370,-510L408,-498L425,-500L438,-510L442,-525L435,-548L470,-535Z" fill="#000" fill-rule="evenodd"/><path id="j62a5" d="M425,-762L418,-752L418,-732L452,-690L450,40L460,72L470,85L485,90L500,85L510,65L500,38L500,-348L505,-352L662,-360L770,-355L770,-340L722,-218L698,-180L658,-218L588,-318L572,-322L552,-312L548,-298L552,-280L620,-182L675,-130L580,-22L518,28L512,42L522,62L548,65L608,20L705,-88L868,35L918,58L958,48L968,28L958,8L942,2L920,8L900,-2L730,-132L765,-188L818,-322L822,-380L812,-400L712,-410L500,-402L502,-670L672,-682L755,-680L752,-572L732,-520L698,-525L608,-575L580,-572L570,-552L582,-530L680,-478L752,-468L768,-472L778,-485L802,-565L810,-680L805,-718L788,-728L715,-732L490,-720L455,-762L440,-768ZM218,-800L202,-795L192,-775L198,-760L228,-730L228,-548L122,-540L62,-565L48,-560L38,-540L48,-520L108,-492L228,-492L228,-298L175,-285L95,-250L55,-260L38,-258L28,-250L22,-235L28,-220L40,-210L92,-198L198,-240L225,-242L222,-2L198,-8L108,-78L82,-75L72,-55L88,-30L160,28L225,52L262,40L272,20L275,-280L315,-290L420,-348L440,-362L445,-378L435,-398L408,-400L298,-338L278,-338L278,-502L370,-510L415,-498L430,-502L440,-522L435,-538L422,-548L378,-560L278,-558L278,-732L258,-778Z" fill="#000" fill-rule="evenodd"/><path id="j65e5" d="M198,-732L190,-722L190,-702L230,-655L248,15L268,70L288,80L308,70L310,40L298,12L308,2L718,-12L768,8L782,2L792,-18L788,-32L742,-58L768,-640L765,-678L750,-702L730,-712L268,-690L228,-732L212,-738ZM705,-345L695,-72L690,-62L298,-48L292,-328ZM718,-660L708,-405L702,-398L290,-380L280,-625L285,-642Z" fill="#000" fill-rule="evenodd"/><path id="j65f6" d="M482,-388L472,-368L482,-345L582,-220L598,-215L612,-220L622,-240L612,-262L512,-388L498,-392ZM105,-698L90,-692L80,-672L85,-658L110,-628L120,-130L130,-55L138,-45L152,-40L168,-45L175,-55L172,-118L180,-122L335,-128L382,-110L398,-115L408,-135L398,-155L360,-170L370,-642L365,-658L348,-668L300,-672L148,-660L120,-692ZM312,-378L310,-180L302,-175L172,-170L165,-368L175,-372ZM318,-620L315,-430L305,-425L168,-420L160,-610L272,-622ZM715,-808L700,-802L690,-782L695,-768L732,-730L732,-538L462,-525L445,-532L422,-555L408,-560L392,-555L382,-535L390,-515L412,-492L460,-475L735,-485L738,8L705,5L575,-68L548,-65L538,-45L550,-22L672,45L748,62L772,52L788,28L785,-490L790,-495L920,-500L968,-488L982,-492L992,-512L988,-528L975,-538L928,-550L785,-545L780,-745L760,-780Z" fill="#000" fill-rule="evenodd"/><path id="j6708" d="M272,-755L265,-745L265,-725L295,-682L295,-490L280,-280L242,-162L212,-102L148,-15L58,72L52,88L58,102L78,112L92,108L188,15L248,-65L292,-152L325,-252L392,-250L570,-265L628,-252L642,-258L652,-278L642,-298L592,-315L390,-300L332,-305L340,-460L345,-465L548,-478L630,-468L645,-472L655,-492L650,-508L635,-518L575,-528L348,-515L345,-665L690,-688L695,28L672,25L558,-52L530,-55L520,-48L515,-32L530,-8L648,70L695,85L728,78L740,68L745,52L742,-695L738,-712L722,-732L708,-738L332,-715L302,-755L288,-760Z" fill="#000" fill-rule="evenodd"/><path id="k6709" d="M78,-640L65,-618L70,-602L125,-572L358,-578L365,-572L332,-518L318,-455L285,-440L152,-290L28,-180L22,-165L28,-150L50,-138L72,-148L170,-232L322,-398L318,32L332,72L345,82L365,82L378,72L382,58L372,30L378,-130L688,-145L692,-142L695,-70L692,10L670,8L548,-48L532,-42L520,-20L535,5L645,58L705,70L730,65L742,52L750,30L745,-172L748,-442L740,-462L720,-488L705,-492L378,-480L415,-542L422,-580L440,-592L515,-588L820,-610L910,-600L932,-612L938,-628L932,-642L912,-655L845,-665L510,-642L472,-645L472,-670L508,-768L482,-825L458,-840L442,-835L430,-812L450,-765L420,-688L408,-638L355,-630L140,-625L105,-642ZM692,-288L692,-202L688,-198L378,-188L378,-272L382,-278ZM692,-435L692,-348L688,-342L378,-332L382,-422Z" fill="#000" fill-rule="evenodd"/><path id="k6743" d="M420,-682L408,-660L412,-645L465,-615L505,-612L770,-625L772,-602L735,-488L658,-330L648,-338L530,-570L505,-585L482,-572L480,-545L602,-305L630,-282L630,-270L605,-248L490,-92L328,55L322,70L328,85L350,98L365,92L528,-50L655,-218L662,-218L775,-78L910,52L942,62L972,58L985,35L980,20L968,10L942,5L810,-122L710,-250L685,-268L685,-282L708,-302L780,-452L828,-602L828,-655L822,-670L810,-680L772,-682L482,-668L448,-685ZM248,-802L232,-798L220,-775L252,-722L250,-548L150,-542L95,-568L80,-562L68,-540L82,-515L132,-490L240,-490L242,-450L232,-435L205,-415L128,-252L28,-128L22,-110L28,-95L40,-85L50,-82L72,-92L172,-220L250,-380L240,40L255,85L278,98L292,92L305,70L295,40L308,-352L312,-355L325,-348L400,-258L415,-252L430,-258L442,-280L438,-298L358,-395L342,-405L305,-415L295,-435L298,-490L302,-500L378,-505L432,-495L448,-500L460,-522L455,-538L440,-550L402,-560L305,-558L308,-730L272,-788Z" fill="#000" fill-rule="evenodd"/><path id="j6a21" d="M210,-795L195,-790L185,-770L192,-750L215,-720L212,-535L120,-530L62,-555L48,-550L40,-540L40,-520L55,-505L118,-480L205,-482L208,-455L202,-412L175,-395L162,-380L88,-215L25,-128L20,-110L25,-95L45,-85L70,-100L128,-182L210,-358L208,45L222,85L242,95L258,90L268,70L258,42L262,-368L270,-370L340,-275L365,-272L375,-280L380,-295L372,-315L310,-405L295,-418L255,-422L258,-485L262,-492L330,-498L390,-485L405,-490L415,-510L410,-525L398,-535L352,-548L262,-545L265,-728L235,-780ZM728,-825L702,-822L692,-802L698,-785L720,-755L710,-682L580,-672L565,-758L532,-785L510,-795L495,-790L485,-770L490,-755L522,-728L525,-670L420,-665L370,-685L355,-680L345,-660L355,-640L405,-618L440,-615L535,-622L540,-618L542,-578L558,-552L580,-540L595,-545L605,-565L590,-595L590,-625L682,-630L685,-620L670,-565L675,-550L685,-542L482,-528L445,-565L435,-568L415,-558L410,-542L415,-525L450,-485L462,-312L470,-280L490,-270L608,-275L622,-235L620,-198L410,-192L362,-215L342,-205L338,-190L342,-175L392,-145L582,-145L570,-115L505,-45L418,15L320,60L310,80L315,95L325,102L348,102L440,60L530,0L602,-75L638,-142L650,-140L682,-85L780,0L915,72L965,70L985,55L988,45L978,25L962,20L932,25L812,-40L735,-108L700,-150L705,-158L822,-162L925,-152L940,-158L950,-178L940,-198L860,-212L670,-205L672,-238L660,-265L662,-280L800,-290L842,-275L858,-280L868,-300L858,-320L828,-335L832,-410L848,-498L845,-522L838,-535L815,-548L710,-545L720,-558L740,-635L875,-645L918,-632L932,-638L942,-658L938,-672L925,-682L885,-695L765,-690L768,-772L742,-812ZM780,-385L780,-345L775,-338L512,-322L512,-378L728,-388ZM795,-492L790,-445L780,-438L505,-428L502,-480L755,-495Z" fill="#000" fill-rule="evenodd"/><path id="k7248" d="M102,-735L100,-710L132,-668L128,-312L115,-205L92,-110L42,5L5,60L5,80L15,92L30,98L45,92L95,22L145,-95L170,-202L180,-282L290,-280L298,18L318,70L330,80L350,80L362,70L368,55L358,25L380,32L405,20L465,-90L492,-168L522,-295L540,-440L550,-445L798,-455L805,-452L795,-400L758,-305L718,-232L698,-255L630,-382L632,-400L628,-415L605,-428L582,-415L572,-390L575,-370L660,-210L688,-185L688,-172L535,-20L410,58L395,75L395,95L410,110L438,108L568,25L715,-120L870,38L922,72L942,75L965,70L978,60L982,45L970,22L940,20L915,2L742,-172L742,-182L768,-205L788,-242L845,-378L862,-462L852,-498L828,-510L542,-500L550,-660L820,-680L902,-670L918,-675L928,-688L928,-708L918,-720L880,-730L818,-735L532,-712L495,-758L480,-762L458,-750L452,-735L458,-718L492,-672L488,-460L472,-325L442,-192L415,-115L355,-10L350,-38L342,-320L332,-332L318,-338L185,-338L185,-438L398,-450L440,-440L462,-452L465,-478L448,-495L418,-502L340,-505L345,-728L335,-750L298,-790L282,-795L268,-790L255,-768L265,-745L290,-718L282,-500L188,-498L185,-682L170,-715L140,-742L125,-748Z" fill="#000" fill-rule="evenodd"/><path id="k79d1" d="M512,-492L508,-478L512,-462L525,-452L552,-445L640,-362L660,-355L682,-368L688,-382L680,-402L598,-480L548,-508L530,-505ZM560,-682L548,-660L555,-640L665,-535L685,-528L700,-532L712,-555L705,-575L595,-680L575,-688ZM382,-768L275,-712L255,-690L210,-682L62,-632L48,-620L42,-605L48,-590L70,-578L245,-632L242,-505L110,-498L55,-522L40,-518L28,-495L42,-470L92,-445L130,-442L235,-450L238,-435L235,-418L198,-390L125,-250L10,-102L8,-75L18,-62L32,-58L55,-68L170,-218L245,-358L242,40L258,80L282,95L298,90L310,68L298,35L302,-358L318,-360L392,-288L410,-260L425,-255L440,-260L452,-282L432,-328L352,-405L290,-420L292,-458L388,-468L465,-458L480,-462L492,-485L480,-508L410,-522L300,-518L302,-662L392,-712L405,-725L410,-740L405,-755ZM762,-828L748,-822L735,-800L740,-785L770,-750L770,-292L712,-285L498,-238L442,-255L428,-250L415,-228L428,-205L502,-182L730,-232L768,-235L768,52L782,92L805,105L820,100L832,78L822,50L825,-252L938,-275L985,-268L1000,-272L1012,-295L1000,-318L950,-330L825,-312L825,-752L810,-792L778,-822Z" fill="#000" fill-rule="evenodd"/><path id="k84dd" d="M18,2L22,18L38,30L108,58L742,38L908,38L952,50L968,45L980,22L975,8L960,-5L915,-18L772,-18L785,-148L778,-195L762,-210L608,-212L585,-205L258,-192L225,-222L205,-230L190,-225L178,-202L185,-182L220,-150L228,-5L218,0L110,2L45,-25L30,-20ZM382,-142L388,-122L390,-10L378,-5L285,-2L278,-138ZM552,-150L550,-15L535,-10L448,-8L440,-142L458,-148ZM612,-158L728,-155L730,-125L715,-15L605,-15ZM145,-558L130,-552L118,-530L122,-515L150,-492L158,-478L158,-305L172,-275L198,-260L212,-265L225,-288L210,-325L212,-482L192,-530L178,-545ZM325,-600L310,-595L298,-572L302,-558L332,-525L330,-288L348,-240L360,-225L375,-220L390,-225L402,-248L385,-290L388,-525L375,-562L350,-588ZM75,-695L70,-680L75,-665L85,-655L132,-632L168,-630L360,-645L370,-602L388,-585L402,-580L418,-585L428,-598L428,-618L418,-632L420,-645L550,-648L538,-610L540,-592L550,-580L568,-572L582,-545L570,-478L542,-452L452,-328L450,-302L465,-288L490,-290L528,-338L530,-320L542,-305L600,-280L748,-285L832,-280L848,-295L848,-315L830,-332L812,-338L605,-335L568,-355L542,-352L540,-358L580,-412L598,-428L685,-422L835,-432L882,-420L898,-425L908,-438L908,-458L898,-470L842,-488L680,-478L625,-482L640,-548L618,-595L598,-612L612,-660L850,-672L890,-660L905,-665L918,-688L905,-710L850,-728L645,-718L648,-762L642,-780L618,-820L600,-835L575,-832L562,-810L568,-792L590,-760L582,-708L405,-698L390,-772L355,-802L330,-812L315,-808L302,-785L312,-762L342,-740L345,-698L152,-685L98,-708Z" fill="#000" fill-rule="evenodd"/><path id="k9650" d="M120,-768L105,-762L92,-740L98,-725L128,-685L118,42L130,82L142,98L158,102L172,98L185,75L172,40L178,-332L265,-278L312,-262L348,-270L362,-282L375,-348L368,-410L305,-522L302,-538L368,-645L378,-698L370,-718L345,-732L168,-722L135,-762ZM185,-670L315,-672L310,-655L258,-572L245,-535L248,-515L315,-392L320,-350L312,-320L285,-330L220,-372L202,-378L178,-368ZM422,-770L412,-758L412,-738L450,-692L448,-10L422,2L375,-10L360,-8L345,8L348,32L365,45L420,58L438,55L472,40L500,15L535,10L692,-80L708,-98L705,-122L692,-132L672,-132L528,-48L502,-42L505,-368L548,-370L558,-335L630,-220L672,-188L692,-142L805,-38L905,32L945,42L980,38L992,15L980,-8L932,-15L850,-72L732,-182L725,-200L845,-292L875,-330L880,-348L875,-385L862,-402L848,-408L835,-402L822,-418L795,-430L802,-578L812,-652L800,-735L788,-745L752,-748L490,-732L458,-768L438,-775ZM822,-368L820,-350L802,-330L690,-242L675,-252L605,-365L608,-372L748,-382ZM745,-538L738,-435L588,-425L505,-428L508,-530ZM755,-688L758,-655L748,-595L505,-588L508,-680L705,-690Z" fill="#000" fill-rule="evenodd"/><path id="j9884" d="M732,-128L722,-108L728,-92L892,70L908,75L922,70L932,50L928,35L762,-128L748,-132ZM675,-490L650,-488L640,-468L645,-452L672,-418L672,-365L662,-228L630,-122L562,-30L412,78L410,102L422,115L432,118L452,110L598,8L675,-98L710,-208L722,-368L720,-435ZM90,-730L70,-720L68,-695L82,-680L120,-662L340,-670L335,-650L262,-555L255,-555L195,-602L175,-602L162,-590L162,-570L178,-552L220,-518L258,-500L272,-470L268,-458L85,-452L38,-475L22,-470L12,-450L25,-428L68,-405L238,-405L235,-10L195,-20L112,-75L88,-72L78,-52L92,-28L162,20L248,48L270,38L285,12L288,-410L292,-415L405,-418L398,-395L322,-290L325,-265L345,-255L370,-270L440,-368L460,-435L452,-455L428,-470L325,-465L300,-520L382,-632L398,-682L392,-710L382,-720L348,-725L135,-710ZM932,-738L880,-750L508,-728L460,-748L440,-738L435,-722L440,-708L492,-680L532,-678L650,-685L655,-678L655,-650L632,-608L625,-575L550,-568L528,-595L508,-602L492,-598L482,-578L488,-560L515,-530L520,-178L532,-118L542,-102L568,-100L578,-108L582,-122L570,-182L565,-515L640,-528L805,-535L822,-532L818,-158L840,-110L855,-105L875,-115L880,-130L868,-160L870,-560L858,-575L835,-585L680,-580L678,-585L702,-635L705,-688L858,-700L918,-692L932,-698L942,-718Z" fill="#000" fill-rule="evenodd"/></defs><g fill="#fa3c3c" shape-rendering="crispEdges"><use href="#g32c" transform="translate(147.38,758.70) scale(0.6400,0.7220)"/><use href="#g37c" transform="translate(160.18,758.70) scale(0.6400,0.7220)"/><use href="#g2ec" transform="translate(172.98,758.70) scale(0.6400,0.7220)"/><use href="#g35c" transform="translate(179.38,758.70) scale(0.6400,0.7220)"/><use href="#g4ec" transform="translate(192.18,758.70) scale(0.6400,0.7220)"/></g><g fill="#fa3c3c" shape-rendering="crispEdges"><use href="#g32c" transform="translate(166.58,712.05) scale(0.6400,0.7220)"/><use href="#g38c" transform="translate(179.38,712.05) scale(0.6400,0.7220)"/><use href="#g4ec" transform="translate(192.18,712.05) scale(0.6400,0.7220)"/></g><g fill="#fa3c3c" shape-rendering="crispEdges"><use href="#g32c" transform="translate(147.38,665.40) scale(0.6400,0.7220)"/><use href="#g38c" transform="translate(160.18,665.40) scale(0.6400,0.7220)"/><use href="#g2ec" transform="translate(172.98,665.40) scale(0.6400,0.7220)"/><use href="#g35c" transform="translate(179.38,665.40) scale(0.6400,0.7220)"/><use href="#g4ec" transform="translate(192.18,665.40) scale(0.6400,0.7220)"/></g><g fill="#fa3c3c" shape-rendering="crispEdges"><use href="#g32c" transform="translate(166.58,618.75) scale(0.6400,0.7220)"/><use href="#g39c" transform="translate(179.38,618.75) scale(0.6400,0.7220)"/><use href="#g4ec" transform="translate(192.18,618.75) scale(0.6400,0.7220)"/></g><g fill="#fa3c3c" shape-rendering="crispEdges"><use href="#g32c" transform="translate(147.38,572.10) scale(0.6400,0.7220)"/><use href="#g39c" transform="translate(160.18,572.10) scale(0.6400,0.7220)"/><use href="#g2ec" transform="translate(172.98,572.10) scale(0.6400,0.7220)"/><use href="#g35c" transform="translate(179.38,572.10) scale(0.6400,0.7220)"/><use href="#g4ec" transform="translate(192.18,572.10) scale(0.6400,0.7220)"/></g><g fill="#fa3c3c" shape-rendering="crispEdges"><use href="#g33c" transform="translate(166.58,525.45) scale(0.6400,0.7220)"/><use href="#g30c" transform="translate(179.38,525.45) scale(0.6400,0.7220)"/><use href="#g4ec" transform="translate(192.18,525.45) scale(0.6400,0.7220)"/></g><g fill="#fa3c3c" shape-rendering="crispEdges"><use href="#g33c" transform="translate(147.38,478.80) scale(0.6400,0.7220)"/><use href="#g30c" transform="translate(160.18,478.80) scale(0.6400,0.7220)"/><use href="#g2ec" transform="translate(172.98,478.80) scale(0.6400,0.7220)"/><use href="#g35c" transform="translate(179.38,478.80) scale(0.6400,0.7220)"/><use href="#g4ec" transform="translate(192.18,478.80) scale(0.6400,0.7220)"/></g><g fill="#fa3c3c" shape-rendering="crispEdges"><use href="#g33c" transform="translate(166.58,432.15) scale(0.6400,0.7220)"/><use href="#g31c" transform="translate(179.38,432.15) scale(0.6400,0.7220)"/><use href="#g4ec" transform="translate(192.18,432.15) scale(0.6400,0.7220)"/></g><g fill="#fa3c3c" shape-rendering="crispEdges"><use href="#g33c" transform="translate(147.38,385.50) scale(0.6400,0.7220)"/><use href="#g31c" transform="translate(160.18,385.50) scale(0.6400,0.7220)"/><use href="#g2ec" transform="translate(172.98,385.50) scale(0.6400,0.7220)"/><use href="#g35c" transform="translate(179.38,385.50) scale(0.6400,0.7220)"/><use href="#g4ec" transform="translate(192.18,385.50) scale(0.6400,0.7220)"/></g><g fill="#fa3c3c" shape-rendering="crispEdges"><use href="#g33c" transform="translate(166.58,338.85) scale(0.6400,0.7220)"/><use href="#g32c" transform="translate(179.38,338.85) scale(0.6400,0.7220)"/><use href="#g4ec" transform="translate(192.18,338.85) scale(0.6400,0.7220)"/></g><g fill="#fa3c3c" shape-rendering="crispEdges"><use href="#g33c" transform="translate(147.38,292.20) scale(0.6400,0.7220)"/><use href="#g32c" transform="translate(160.18,292.20) scale(0.6400,0.7220)"/><use href="#g2ec" transform="translate(172.98,292.20) scale(0.6400,0.7220)"/><use href="#g35c" transform="translate(179.38,292.20) scale(0.6400,0.7220)"/><use href="#g4ec" transform="translate(192.18,292.20) scale(0.6400,0.7220)"/></g><g fill="#fa3c3c" shape-rendering="crispEdges"><use href="#g33c" transform="translate(166.58,245.55) scale(0.6400,0.7220)"/><use href="#g33c" transform="translate(179.38,245.55) scale(0.6400,0.7220)"/><use href="#g4ec" transform="translate(192.18,245.55) scale(0.6400,0.7220)"/></g><g fill="#fa3c3c" shape-rendering="crispEdges"><use href="#g33c" transform="translate(147.38,198.90) scale(0.6400,0.7220)"/><use href="#g33c" transform="translate(160.18,198.90) scale(0.6400,0.7220)"/><use href="#g2ec" transform="translate(172.98,198.90) scale(0.6400,0.7220)"/><use href="#g35c" transform="translate(179.38,198.90) scale(0.6400,0.7220)"/><use href="#g4ec" transform="translate(192.18,198.90) scale(0.6400,0.7220)"/></g><g fill="#fa3c3c" shape-rendering="crispEdges"><use href="#g33c" transform="translate(166.58,152.25) scale(0.6400,0.7220)"/><use href="#g34c" transform="translate(179.38,152.25) scale(0.6400,0.7220)"/><use href="#g4ec" transform="translate(192.18,152.25) scale(0.6400,0.7220)"/></g><g fill="#fa3c3c" shape-rendering="crispEdges"><use href="#g33c" transform="translate(147.38,105.60) scale(0.6400,0.7220)"/><use href="#g34c" transform="translate(160.18,105.60) scale(0.6400,0.7220)"/><use href="#g2ec" transform="translate(172.98,105.60) scale(0.6400,0.7220)"/><use href="#g35c" transform="translate(179.38,105.60) scale(0.6400,0.7220)"/><use href="#g4ec" transform="translate(192.18,105.60) scale(0.6400,0.7220)"/></g><g fill="#fa3c3c" shape-rendering="crispEdges"><use href="#g31c" transform="translate(193.57,777.30) scale(0.6270,0.7220)"/><use href="#g31c" transform="translate(206.11,777.30) scale(0.6270,0.7220)"/><use href="#g35c" transform="translate(218.65,777.30) scale(0.6270,0.7220)"/><use href="#g45c" transform="translate(231.19,777.30) scale(0.6270,0.7220)"/></g><g fill="#fa3c3c" shape-rendering="crispEdges"><use href="#g31c" transform="translate(271.27,777.30) scale(0.6270,0.7220)"/><use href="#g31c" transform="translate(283.81,777.30) scale(0.6270,0.7220)"/><use href="#g36c" transform="translate(296.35,777.30) scale(0.6270,0.7220)"/><use href="#g45c" transform="translate(308.89,777.30) scale(0.6270,0.7220)"/></g><g fill="#fa3c3c" shape-rendering="crispEdges"><use href="#g31c" transform="translate(348.97,777.30) scale(0.6270,0.7220)"/><use href="#g31c" transform="translate(361.51,777.30) scale(0.6270,0.7220)"/><use href="#g37c" transform="translate(374.05,777.30) scale(0.6270,0.7220)"/><use href="#g45c" transform="translate(386.59,777.30) scale(0.6270,0.7220)"/></g><g fill="#fa3c3c" shape-rendering="crispEdges"><use href="#g31c" transform="translate(426.67,777.30) scale(0.6270,0.7220)"/><use href="#g31c" transform="translate(439.21,777.30) scale(0.6270,0.7220)"/><use href="#g38c" transform="translate(451.75,777.30) scale(0.6270,0.7220)"/><use href="#g45c" transform="translate(464.29,777.30) scale(0.6270,0.7220)"/></g><g fill="#fa3c3c" shape-rendering="crispEdges"><use href="#g31c" transform="translate(504.37,777.30) scale(0.6270,0.7220)"/><use href="#g31c" transform="translate(516.91,777.30) scale(0.6270,0.7220)"/><use href="#g39c" transform="translate(529.45,777.30) scale(0.6270,0.7220)"/><use href="#g45c" transform="translate(541.99,777.30) scale(0.6270,0.7220)"/></g><g fill="#fa3c3c" shape-rendering="crispEdges"><use href="#g31c" transform="translate(582.07,777.30) scale(0.6270,0.7220)"/><use href="#g32c" transform="translate(594.61,777.30) scale(0.6270,0.7220)"/><use href="#g30c" transform="translate(607.15,777.30) scale(0.6270,0.7220)"/><use href="#g45c" transform="translate(619.69,777.30) scale(0.6270,0.7220)"/></g><g fill="#fa3c3c" shape-rendering="crispEdges"><use href="#g31c" transform="translate(659.77,777.30) scale(0.6270,0.7220)"/><use href="#g32c" transform="translate(672.31,777.30) scale(0.6270,0.7220)"/><use href="#g31c" transform="translate(684.85,777.30) scale(0.6270,0.7220)"/><use href="#g45c" transform="translate(697.39,777.30) scale(0.6270,0.7220)"/></g><g fill="#fa3c3c" shape-rendering="crispEdges"><use href="#g31c" transform="translate(737.47,777.30) scale(0.6270,0.7220)"/><use href="#g32c" transform="translate(750.01,777.30) scale(0.6270,0.7220)"/><use href="#g32c" transform="translate(762.55,777.30) scale(0.6270,0.7220)"/><use href="#g45c" transform="translate(775.09,777.30) scale(0.6270,0.7220)"/></g><g fill="#fa3c3c" shape-rendering="crispEdges"><use href="#g31c" transform="translate(815.17,777.30) scale(0.6270,0.7220)"/><use href="#g32c" transform="translate(827.71,777.30) scale(0.6270,0.7220)"/><use href="#g33c" transform="translate(840.25,777.30) scale(0.6270,0.7220)"/><use href="#g45c" transform="translate(852.79,777.30) scale(0.6270,0.7220)"/></g><path d="M213,750.5H220M213,704.5H220M213,657.5H220M213,610.5H220M213,564.5H220M213,517.5H220M213,470.5H220M213,424.5H220M213,377.5H220M213,330.5H220M213,284.5H220M213,237.5H220M213,190.5H220M213,144.5H220M213,97.5H220M219.5,751V758M297.5,751V758M374.5,751V758M452.5,751V758M530.5,751V758M608.5,751V758M685.5,751V758M763.5,751V758M841.5,751V758" stroke="#fa3c3c" stroke-width="1" fill="none" shape-rendering="crispEdges"/><g fill="#000" shape-rendering="crispEdges"><use href="#g31c" transform="translate(993.90,708.33) scale(0.6850,0.7220)"/><use href="#g36c" transform="translate(1007.60,708.33) scale(0.6850,0.7220)"/></g><g fill="#000" shape-rendering="crispEdges"><use href="#g34c" transform="translate(996.64,662.59) scale(0.6850,0.7220)"/><use href="#g38c" transform="translate(1010.34,662.59) scale(0.6850,0.7220)"/></g><g fill="#000" shape-rendering="crispEdges"><use href="#g38c" transform="translate(995.96,616.85) scale(0.6850,0.7220)"/><use href="#g30c" transform="translate(1009.66,616.85) scale(0.6850,0.7220)"/></g><g fill="#000" shape-rendering="crispEdges"><use href="#g31c" transform="translate(993.90,571.11) scale(0.6850,0.7220)"/><use href="#g31c" transform="translate(1007.60,571.11) scale(0.6850,0.7220)"/><use href="#g32c" transform="translate(1021.30,571.11) scale(0.6850,0.7220)"/></g><g fill="#000" shape-rendering="crispEdges"><use href="#g31c" transform="translate(993.90,525.37) scale(0.6850,0.7220)"/><use href="#g34c" transform="translate(1007.60,525.37) scale(0.6850,0.7220)"/><use href="#g34c" transform="translate(1021.30,525.37) scale(0.6850,0.7220)"/></g><g fill="#000" shape-rendering="crispEdges"><use href="#g31c" transform="translate(993.90,479.63) scale(0.6850,0.7220)"/><use href="#g37c" transform="translate(1007.60,479.63) scale(0.6850,0.7220)"/><use href="#g30c" transform="translate(1021.30,479.63) scale(0.6850,0.7220)"/></g><g fill="#000" shape-rendering="crispEdges"><use href="#g31c" transform="translate(993.90,433.89) scale(0.6850,0.7220)"/><use href="#g39c" transform="translate(1007.60,433.89) scale(0.6850,0.7220)"/><use href="#g30c" transform="translate(1021.30,433.89) scale(0.6850,0.7220)"/></g><g fill="#000" shape-rendering="crispEdges"><use href="#g32c" transform="translate(995.96,388.15) scale(0.6850,0.7220)"/><use href="#g32c" transform="translate(1009.66,388.15) scale(0.6850,0.7220)"/><use href="#g35c" transform="translate(1023.36,388.15) scale(0.6850,0.7220)"/></g><g fill="#000" shape-rendering="crispEdges"><use href="#g32c" transform="translate(995.96,342.41) scale(0.6850,0.7220)"/><use href="#g37c" transform="translate(1009.66,342.41) scale(0.6850,0.7220)"/><use href="#g35c" transform="translate(1023.36,342.41) scale(0.6850,0.7220)"/></g><g fill="#000" shape-rendering="crispEdges"><use href="#g33c" transform="translate(995.96,296.67) scale(0.6850,0.7220)"/><use href="#g32c" transform="translate(1009.66,296.67) scale(0.6850,0.7220)"/><use href="#g35c" transform="translate(1023.36,296.67) scale(0.6850,0.7220)"/></g><g fill="#000" shape-rendering="crispEdges"><use href="#g33c" transform="translate(995.96,250.93) scale(0.6850,0.7220)"/><use href="#g37c" transform="translate(1009.66,250.93) scale(0.6850,0.7220)"/><use href="#g35c" transform="translate(1023.36,250.93) scale(0.6850,0.7220)"/></g><g fill="#000" shape-rendering="crispEdges"><use href="#g35c" transform="translate(995.96,205.19) scale(0.6850,0.7220)"/><use href="#g30c" transform="translate(1009.66,205.19) scale(0.6850,0.7220)"/><use href="#g30c" transform="translate(1023.36,205.19) scale(0.6850,0.7220)"/></g><g fill="#000" shape-rendering="crispEdges"><use href="#g37c" transform="translate(995.96,159.45) scale(0.6850,0.7220)"/><use href="#g30c" transform="translate(1009.66,159.45) scale(0.6850,0.7220)"/><use href="#g30c" transform="translate(1023.36,159.45) scale(0.6850,0.7220)"/></g><g fill="#000" shape-rendering="crispEdges"><use href="#g28b" transform="translate(939.50,107.60) scale(0.6548,0.6400)"/><use href="#g75b" transform="translate(948.67,107.60) scale(0.6548,0.6400)"/><use href="#g67b" transform="translate(963.08,107.60) scale(0.6548,0.6400)"/><use href="#g2fb" transform="translate(975.52,107.60) scale(0.6548,0.6400)"/><use href="#g6db" transform="translate(989.92,107.60) scale(0.6548,0.6400)"/><use href="#g33b" transform="translate(1011.53,107.60) scale(0.6548,0.6400)"/><use href="#g29b" transform="translate(1024.63,107.60) scale(0.6548,0.6400)"/></g><path d="M954.5,750.5H1006M1006,750.5L992,743M1006,750.5L992,758" stroke="#000" stroke-width="1" fill="none" shape-rendering="crispEdges"/><g fill="#000" shape-rendering="crispEdges"><use href="#g31b" transform="translate(940.36,777.60) scale(0.6614,0.6400)"/><use href="#g30b" transform="translate(953.59,777.60) scale(0.6614,0.6400)"/><use href="#g6db" transform="translate(977.33,777.60) scale(0.6614,0.6400)"/><use href="#g2fb" transform="translate(999.16,777.60) scale(0.6614,0.6400)"/><use href="#g73b" transform="translate(1013.71,777.60) scale(0.6614,0.6400)"/></g><g fill="#000" shape-rendering="crispEdges"><use href="#g32c" transform="translate(170.23,33.60) scale(0.6941,0.7220)"/><use href="#g30c" transform="translate(184.12,33.60) scale(0.6941,0.7220)"/><use href="#g32c" transform="translate(198.00,33.60) scale(0.6941,0.7220)"/><use href="#g35c" transform="translate(211.88,33.60) scale(0.6941,0.7220)"/></g><g fill="#000" shape-rendering="crispEdges"><use href="#g31c" transform="translate(251.50,33.60) scale(0.6491,0.7220)"/><use href="#g30c" transform="translate(264.48,33.60) scale(0.6491,0.7220)"/></g><g fill="#000" shape-rendering="crispEdges"><use href="#g30c" transform="translate(306.08,33.60) scale(0.6733,0.7220)"/><use href="#g35c" transform="translate(319.55,33.60) scale(0.6733,0.7220)"/></g><g fill="#000" shape-rendering="crispEdges"><use href="#g57c" transform="translate(357.95,33.60) scale(0.6231,0.7220)"/><use href="#g52c" transform="translate(372.90,33.60) scale(0.6231,0.7220)"/><use href="#g46c" transform="translate(386.61,33.60) scale(0.6231,0.7220)"/></g><g fill="#000" shape-rendering="crispEdges"><use href="#g2fc" transform="translate(401.01,33.60) scale(0.5677,0.7220)"/></g><g fill="#000" shape-rendering="crispEdges"><use href="#g63c" transform="translate(416.51,33.60) scale(0.7042,0.7220)"/></g><g fill="#000" shape-rendering="crispEdges"><use href="#g6dc" transform="translate(430.91,33.60) scale(0.6325,0.7220)"/></g><g fill="#000" shape-rendering="crispEdges"><use href="#g61c" transform="translate(452.74,33.60) scale(0.7346,0.7220)"/></g><g fill="#000" shape-rendering="crispEdges"><use href="#g71c" transform="translate(468.23,33.60) scale(0.7384,0.7220)"/></g><g fill="#000" shape-rendering="crispEdges"><use href="#g31c" transform="translate(530.98,33.60) scale(0.6522,0.7220)"/><use href="#g32c" transform="translate(544.02,33.60) scale(0.6522,0.7220)"/></g><g fill="#000" shape-rendering="crispEdges"><use href="#g6bc" transform="translate(557.15,33.60) scale(0.7473,0.7220)"/></g><g fill="#000" shape-rendering="crispEdges"><use href="#g6dc" transform="translate(574.62,33.60) scale(0.6291,0.7220)"/></g><path d="M694.5,20.5L695.5,21.5L694.5,22.5L693.5,21.5ZM694.5,33.5L695.5,34.5L694.5,35.5L693.5,34.5Z" fill="none" stroke="#000" stroke-width="1" shape-rendering="crispEdges"/><g fill="#000" shape-rendering="crispEdges"><use href="#g31c" transform="translate(700.10,33.60) scale(0.6491,0.7220)"/><use href="#g30c" transform="translate(713.08,33.60) scale(0.6491,0.7220)"/></g><g fill="#000" shape-rendering="crispEdges"><use href="#g30c" transform="translate(755.69,33.60) scale(0.6705,0.7220)"/><use href="#g35c" transform="translate(769.10,33.60) scale(0.6705,0.7220)"/></g><g fill="#000" shape-rendering="crispEdges"><use href="#g30c" transform="translate(805.69,33.60) scale(0.6705,0.7220)"/><use href="#g39c" transform="translate(819.10,33.60) scale(0.6705,0.7220)"/></g><g fill="#fa3c3c" shape-rendering="crispEdges"><use href="#g4fc" transform="translate(870.07,33.60) scale(0.7616,0.7220)"/></g><g fill="#fa3c3c" shape-rendering="crispEdges"><use href="#g33c" transform="translate(888.02,33.60) scale(0.7434,0.7220)"/></g><use href="#j5e74" shape-rendering="crispEdges" transform="translate(228.26,32.90) scale(0.02331,0.02540)"/><use href="#j6708" shape-rendering="crispEdges" transform="translate(280.59,32.90) scale(0.02373,0.02540)"/><use href="#j65e5" shape-rendering="crispEdges" transform="translate(334.97,32.90) scale(0.02096,0.02540)"/><use href="#j6a21" shape-rendering="crispEdges" transform="translate(484.74,32.90) scale(0.02006,0.02540)"/><use href="#j5f0f" shape-rendering="crispEdges" transform="translate(505.78,32.90) scale(0.02468,0.02540)"/><use href="#j9884" shape-rendering="crispEdges" transform="translate(597.59,32.90) scale(0.02087,0.02540)"/><use href="#j62a5" shape-rendering="crispEdges" transform="translate(620.19,32.90) scale(0.02231,0.02540)"/><use href="#j4ea7" shape-rendering="crispEdges" transform="translate(645.43,32.90) scale(0.02211,0.02540)"/><use href="#j54c1" shape-rendering="crispEdges" transform="translate(668.93,32.90) scale(0.01952,0.02540)"/><use href="#j6708" shape-rendering="crispEdges" transform="translate(730.08,32.90) scale(0.02387,0.02540)"/><use href="#j65e5" shape-rendering="crispEdges" transform="translate(784.34,32.90) scale(0.02062,0.02540)"/><use href="#j65f6" shape-rendering="crispEdges" transform="translate(836.37,32.90) scale(0.01948,0.02540)"/><use href="#k7248" shape-rendering="crispEdges" transform="translate(360.96,828.50) scale(0.01701,0.02190)"/><use href="#k6743" shape-rendering="crispEdges" transform="translate(379.77,828.50) scale(0.01730,0.02190)"/><use href="#k6240" shape-rendering="crispEdges" transform="translate(399.78,828.50) scale(0.01762,0.02190)"/><use href="#k6709" shape-rendering="crispEdges" transform="translate(418.68,828.50) scale(0.01862,0.02190)"/><use href="#k5357" shape-rendering="crispEdges" transform="translate(451.89,828.50) scale(0.01890,0.02190)"/><use href="#k4eac" shape-rendering="crispEdges" transform="translate(471.48,828.50) scale(0.01887,0.02190)"/><use href="#k5927" shape-rendering="crispEdges" transform="translate(491.72,828.50) scale(0.01747,0.02190)"/><use href="#k5b66" shape-rendering="crispEdges" transform="translate(510.22,828.50) scale(0.01756,0.02190)"/><use href="#k5357" shape-rendering="crispEdges" transform="translate(544.37,828.50) scale(0.01995,0.02190)"/><use href="#k4eac" shape-rendering="crispEdges" transform="translate(564.99,828.50) scale(0.01875,0.02190)"/><use href="#k521b" shape-rendering="crispEdges" transform="translate(586.07,828.50) scale(0.01792,0.02190)"/><use href="#k84dd" shape-rendering="crispEdges" transform="translate(605.20,828.50) scale(0.01845,0.02190)"/><use href="#k79d1" shape-rendering="crispEdges" transform="translate(625.43,828.50) scale(0.01668,0.02190)"/><use href="#k6280" shape-rendering="crispEdges" transform="translate(645.44,828.50) scale(0.01702,0.02190)"/><use href="#k6709" shape-rendering="crispEdges" transform="translate(664.19,828.50) scale(0.01850,0.02190)"/><use href="#k9650" shape-rendering="crispEdges" transform="translate(683.22,828.50) scale(0.01737,0.02190)"/><use href="#k516c" shape-rendering="crispEdges" transform="translate(703.92,828.50) scale(0.01729,0.02190)"/><use href="#k53f8" shape-rendering="crispEdges" transform="translate(723.76,828.50) scale(0.01954,0.02190)"/><rect x="534" y="808" width="1" height="29" fill="#000"/><rect x="440" y="822" width="2" height="2" shape-rendering="crispEdges"/><rect x="440" y="830" width="2" height="2" shape-rendering="crispEdges"/>
</svg>
</body></html>
